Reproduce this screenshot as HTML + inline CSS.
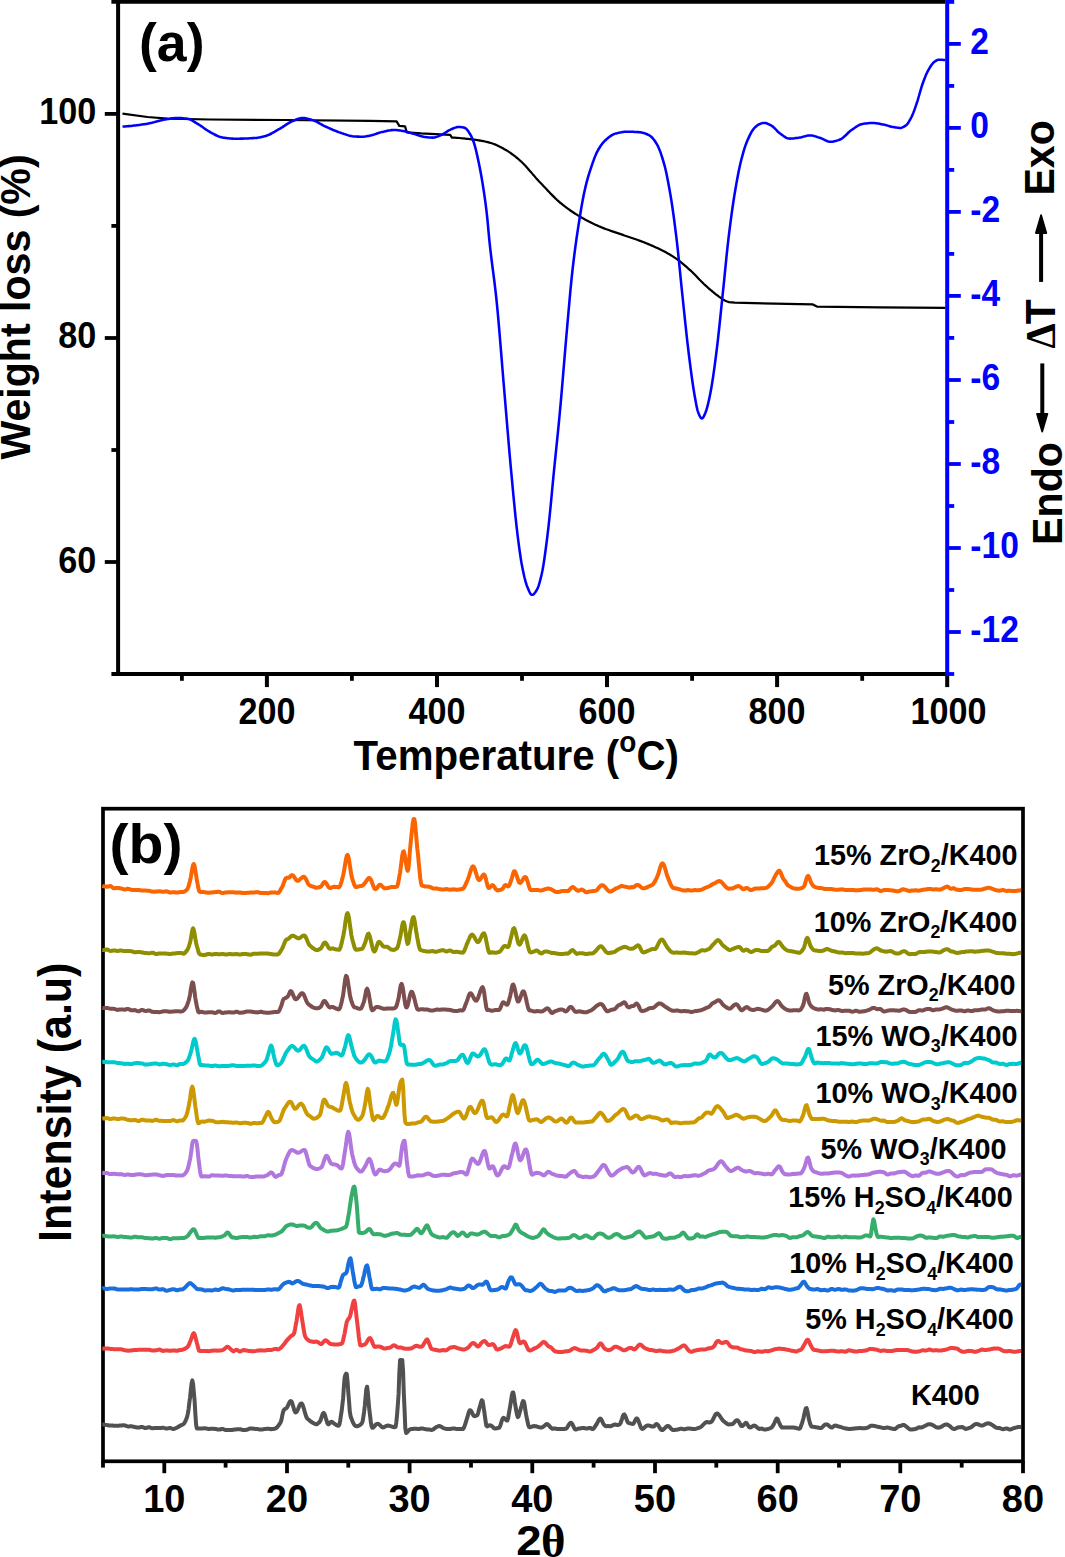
<!DOCTYPE html>
<html lang="en"><head><meta charset="utf-8"><title>TG-DTA and XRD patterns</title>
<style>html,body{margin:0;padding:0;background:#fff}svg{display:block}</style></head><body>
<svg width="1065" height="1557" viewBox="0 0 1065 1557">
<rect width="1065" height="1557" fill="#fff"/>
<g id="panel-a">
<path d="M122.5 113.7 L147.5 117 L167.4 118.7 L210 119.5 L284.8 120 L370 120.9 L396.6 121.4 L399.3 125.8 L405 126.3 L406.8 132.3 L421.1 133.4 L450.2 134.9 L451.9 137.6 L453.4 137.7 L454.9 137.7 L456.4 137.8 L457.9 137.9 L459.4 138 L460.9 138.2 L462.4 138.3 L463.9 138.4 L465.4 138.6 L466.9 138.8 L468.4 138.9 L469.9 139.1 L471.4 139.3 L472.9 139.5 L474.4 139.7 L475.9 139.9 L477.4 140.1 L478.9 140.3 L480.4 140.6 L481.9 140.9 L483.4 141.2 L484.9 141.5 L486.4 141.8 L487.9 142.2 L489.4 142.6 L490.9 143 L492.4 143.5 L493.9 144 L495.4 144.6 L496.9 145.3 L498.4 146 L499.9 146.7 L501.4 147.5 L502.9 148.3 L504.4 149.2 L505.9 150 L507.4 150.9 L508.9 151.9 L510.4 152.9 L511.9 154 L513.4 155.1 L514.9 156.2 L516.4 157.5 L517.9 158.7 L519.4 160 L520.9 161.3 L522.4 162.7 L523.9 164.2 L525.4 165.8 L526.9 167.5 L528.4 169.2 L529.9 170.9 L531.4 172.6 L532.9 174.4 L534.4 176.1 L535.9 177.9 L537.4 179.5 L538.9 181.2 L540.4 182.7 L541.9 184.3 L543.4 185.9 L544.9 187.5 L546.4 189.1 L547.9 190.7 L549.4 192.3 L550.9 193.9 L552.4 195.4 L553.9 196.9 L555.4 198.4 L556.9 199.8 L558.4 201.1 L559.9 202.5 L561.4 203.7 L562.9 204.9 L564.4 206.1 L565.9 207.2 L567.4 208.3 L568.9 209.4 L570.4 210.5 L571.9 211.5 L573.4 212.5 L574.9 213.5 L576.4 214.4 L577.9 215.4 L579.4 216.3 L580.9 217.1 L582.4 218 L583.9 218.8 L585.4 219.7 L586.9 220.5 L588.4 221.3 L589.9 222 L591.4 222.8 L592.9 223.5 L594.4 224.2 L595.9 224.9 L597.4 225.6 L598.9 226.3 L600.4 226.9 L601.9 227.5 L603.4 228.1 L604.9 228.7 L606.4 229.3 L607.9 229.8 L609.4 230.3 L610.9 230.9 L612.4 231.4 L613.9 231.9 L615.4 232.4 L616.9 232.9 L618.4 233.4 L619.9 233.9 L621.4 234.4 L622.9 234.9 L624.4 235.5 L625.9 236 L627.4 236.5 L628.9 237 L630.4 237.5 L631.9 238 L633.4 238.5 L634.9 239 L636.4 239.5 L637.9 240 L639.4 240.6 L640.9 241.1 L642.4 241.7 L643.9 242.3 L645.4 242.9 L646.9 243.5 L648.4 244.1 L649.9 244.7 L651.4 245.4 L652.9 246 L654.4 246.7 L655.9 247.4 L657.4 248.1 L658.9 248.8 L660.4 249.5 L661.9 250.3 L663.4 251 L664.9 251.8 L666.4 252.6 L667.9 253.5 L669.4 254.3 L670.9 255.2 L672.4 256.1 L673.9 257.1 L675.4 258.1 L676.9 259.1 L678.4 260.2 L679.9 261.4 L681.4 262.6 L682.9 263.8 L684.4 265.1 L685.9 266.4 L687.4 267.7 L688.9 269.1 L690.4 270.4 L691.9 271.8 L693.4 273.3 L694.9 274.8 L696.4 276.3 L697.9 277.9 L699.4 279.5 L700.9 281 L702.4 282.5 L703.9 284 L705.4 285.4 L706.9 286.7 L708.4 288.1 L709.9 289.4 L711.4 290.6 L712.9 291.9 L714.4 293.1 L715.9 294.3 L717.4 295.4 L718.9 296.6 L720.4 297.6 L721.9 298.7 L723.4 299.7 L724.9 300.5 L726.4 301.2 L727.9 301.7 L729 302.1 L734.8 302.7 L753.8 303.2 L812.4 304.3 L816.9 306.6 L880 307.3 L945.4 307.9" fill="none" stroke="#000" stroke-width="2.25" stroke-linejoin="round"/>
<path d="M122.5 126.5 L123.5 126.5 L124.5 126.4 L125.5 126.4 L126.5 126.3 L127.5 126.2 L128.5 126.1 L129.5 126.1 L130.5 126 L131.5 125.9 L132.5 125.8 L133.5 125.6 L134.5 125.5 L135.5 125.4 L136.5 125.3 L137.5 125.2 L138.5 125 L139.5 124.9 L140.5 124.8 L141.5 124.6 L142.5 124.5 L143.5 124.3 L144.5 124.2 L145.5 124 L146.5 123.9 L147.5 123.7 L148.5 123.5 L149.5 123.3 L150.5 123.1 L151.5 122.9 L152.5 122.6 L153.5 122.4 L154.5 122.1 L155.5 121.8 L156.5 121.5 L157.5 121.3 L158.5 121 L159.5 120.7 L160.5 120.4 L161.5 120.2 L162.5 120 L163.5 119.8 L164.5 119.6 L165.5 119.4 L166.5 119.3 L167.5 119.1 L168.5 118.9 L169.5 118.8 L170.5 118.6 L171.5 118.5 L172.5 118.3 L173.5 118.2 L174.5 118.1 L175.5 118.1 L176.5 118 L177.5 118 L178.5 118 L179.5 118 L180.5 118.1 L181.5 118.1 L182.5 118.2 L183.5 118.3 L184.5 118.4 L185.5 118.5 L186.5 118.6 L187.5 118.7 L188.5 118.9 L189.5 119.2 L190.5 119.6 L191.5 120.1 L192.5 120.7 L193.5 121.3 L194.5 121.9 L195.5 122.6 L196.5 123.2 L197.5 123.8 L198.5 124.4 L199.5 125 L200.5 125.7 L201.5 126.3 L202.5 127 L203.5 127.8 L204.5 128.5 L205.5 129.2 L206.5 129.9 L207.5 130.5 L208.5 131.1 L209.5 131.7 L210.5 132.3 L211.5 132.8 L212.5 133.4 L213.5 133.9 L214.5 134.5 L215.5 135 L216.5 135.5 L217.5 135.9 L218.5 136.4 L219.5 136.7 L220.5 137.1 L221.5 137.3 L222.5 137.5 L223.5 137.7 L224.5 137.8 L225.5 138 L226.5 138.1 L227.5 138.2 L228.5 138.3 L229.5 138.4 L230.5 138.5 L231.5 138.6 L232.5 138.6 L233.5 138.7 L234.5 138.7 L235.5 138.7 L236.5 138.7 L237.5 138.7 L238.5 138.7 L239.5 138.7 L240.5 138.6 L241.5 138.6 L242.5 138.6 L243.5 138.6 L244.5 138.5 L245.5 138.5 L246.5 138.4 L247.5 138.4 L248.5 138.4 L249.5 138.3 L250.5 138.3 L251.5 138.2 L252.5 138.1 L253.5 138.1 L254.5 138 L255.5 138 L256.5 137.9 L257.5 137.7 L258.5 137.6 L259.5 137.4 L260.5 137.2 L261.5 137 L262.5 136.8 L263.5 136.6 L264.5 136.3 L265.5 136 L266.5 135.7 L267.5 135.3 L268.5 134.9 L269.5 134.5 L270.5 134 L271.5 133.5 L272.5 132.9 L273.5 132.3 L274.5 131.8 L275.5 131.2 L276.5 130.6 L277.5 130 L278.5 129.4 L279.5 128.9 L280.5 128.3 L281.5 127.7 L282.5 127.1 L283.5 126.4 L284.5 125.8 L285.5 125.1 L286.5 124.4 L287.5 123.8 L288.5 123.2 L289.5 122.6 L290.5 122 L291.5 121.6 L292.5 121.1 L293.5 120.7 L294.5 120.3 L295.5 119.8 L296.5 119.4 L297.5 119 L298.5 118.7 L299.5 118.4 L300.5 118.2 L301.5 118 L302.5 118 L303.5 118 L304.5 118.1 L305.5 118.3 L306.5 118.5 L307.5 118.7 L308.5 118.9 L309.5 119.2 L310.5 119.5 L311.5 119.8 L312.5 120.1 L313.5 120.4 L314.5 120.8 L315.5 121.2 L316.5 121.7 L317.5 122.2 L318.5 122.8 L319.5 123.4 L320.5 123.9 L321.5 124.5 L322.5 125 L323.5 125.6 L324.5 126.1 L325.5 126.5 L326.5 127 L327.5 127.4 L328.5 127.9 L329.5 128.3 L330.5 128.8 L331.5 129.2 L332.5 129.7 L333.5 130.1 L334.5 130.5 L335.5 130.9 L336.5 131.3 L337.5 131.7 L338.5 132.1 L339.5 132.4 L340.5 132.7 L341.5 133.1 L342.5 133.4 L343.5 133.8 L344.5 134.1 L345.5 134.4 L346.5 134.8 L347.5 135.1 L348.5 135.4 L349.5 135.7 L350.5 135.9 L351.5 136.1 L352.5 136.3 L353.5 136.4 L354.5 136.5 L355.5 136.5 L356.5 136.6 L357.5 136.6 L358.5 136.6 L359.5 136.7 L360.5 136.7 L361.5 136.7 L362.5 136.7 L363.5 136.7 L364.5 136.6 L365.5 136.4 L366.5 136.3 L367.5 136.1 L368.5 135.9 L369.5 135.7 L370.5 135.5 L371.5 135.3 L372.5 135 L373.5 134.7 L374.5 134.4 L375.5 134 L376.5 133.7 L377.5 133.3 L378.5 133 L379.5 132.7 L380.5 132.4 L381.5 132.1 L382.5 131.9 L383.5 131.7 L384.5 131.4 L385.5 131.2 L386.5 131 L387.5 130.8 L388.5 130.6 L389.5 130.4 L390.5 130.3 L391.5 130.1 L392.5 130.1 L393.5 130 L394.5 130 L395.5 130 L396.5 130.1 L397.5 130.2 L398.5 130.3 L399.5 130.5 L400.5 130.6 L401.5 130.8 L402.5 130.9 L403.5 131.1 L404.5 131.3 L405.5 131.5 L406.5 131.7 L407.5 132 L408.5 132.2 L409.5 132.6 L410.5 132.9 L411.5 133.2 L412.5 133.5 L413.5 133.8 L414.5 134.1 L415.5 134.4 L416.5 134.7 L417.5 135 L418.5 135.3 L419.5 135.7 L420.5 136 L421.5 136.3 L422.5 136.5 L423.5 136.8 L424.5 137 L425.5 137.1 L426.5 137.2 L427.5 137.3 L428.5 137.4 L429.5 137.5 L430.5 137.5 L431.5 137.6 L432.5 137.6 L433.5 137.6 L434.5 137.5 L435.5 137.2 L436.5 136.9 L437.5 136.6 L438.5 136.2 L439.5 135.7 L440.5 135.3 L441.5 134.9 L442.5 134.4 L443.5 133.8 L444.5 133.2 L445.5 132.5 L446.5 131.9 L447.5 131.2 L448.5 130.6 L449.5 130 L450.5 129.6 L451.5 129.1 L452.5 128.7 L453.5 128.3 L454.5 127.9 L455.5 127.6 L456.5 127.3 L457.5 127.1 L458.5 127 L459.5 127 L460.5 127.1 L461.5 127.2 L462.5 127.3 L463.5 127.5 L464.5 127.8 L465.5 128.2 L466.5 129 L467.5 130.2 L468.5 131.6 L469.5 133.2 L470.5 134.8 L471.5 136.7 L472.5 139 L473.5 141.5 L474.5 144.6 L475.5 148.3 L476.5 152.4 L477.5 156.9 L478.5 161.5 L479.5 166.3 L480.5 171.5 L481.5 177 L482.5 182.9 L483.5 189.2 L484.5 195.9 L485.5 203.2 L486.5 211.1 L487.5 220.1 L488.5 231.3 L489.5 241.9 L490.5 250.9 L491.5 259.2 L492.5 267 L493.5 274.7 L494.5 282.5 L495.5 290.9 L496.5 300 L497.5 310.2 L498.5 321.2 L499.5 332.8 L500.5 344.9 L501.5 357.2 L502.5 369.5 L503.5 381.6 L504.5 393.4 L505.5 405.3 L506.5 417.3 L507.5 429.3 L508.5 441.1 L509.5 452.8 L510.5 464 L511.5 474.9 L512.5 485.7 L513.5 496.4 L514.5 506.7 L515.5 516.6 L516.5 525.9 L517.5 534.3 L518.5 542.3 L519.5 549.8 L520.5 556.8 L521.5 563 L522.5 568.3 L523.5 573.1 L524.5 577.5 L525.5 581.4 L526.5 584.7 L527.5 587.3 L528.5 589.7 L529.5 592 L530.5 593.8 L531.5 594.8 L532.5 594.8 L533.5 594.3 L534.5 593.3 L535.5 592 L536.5 590.5 L537.5 588.7 L538.5 586.1 L539.5 582.9 L540.5 579.1 L541.5 575 L542.5 570.3 L543.5 564.6 L544.5 558 L545.5 550.8 L546.5 543.1 L547.5 535.1 L548.5 526.7 L549.5 517.4 L550.5 507.3 L551.5 496.8 L552.5 486.2 L553.5 475.7 L554.5 465.7 L555.5 455.9 L556.5 446.2 L557.5 436.4 L558.5 426.3 L559.5 416 L560.5 405.2 L561.5 393.9 L562.5 382.2 L563.5 370.2 L564.5 358.1 L565.5 346.2 L566.5 334.5 L567.5 323.2 L568.5 311.9 L569.5 300.6 L570.5 289.7 L571.5 279.4 L572.5 270 L573.5 261.5 L574.5 253.5 L575.5 245.9 L576.5 238.7 L577.5 231.9 L578.5 225.4 L579.5 219 L580.5 212.8 L581.5 206.8 L582.5 201.2 L583.5 196 L584.5 191.2 L585.5 186.9 L586.5 182.9 L587.5 179.2 L588.5 175.7 L589.5 172.4 L590.5 169.3 L591.5 166.3 L592.5 163.4 L593.5 160.6 L594.5 157.9 L595.5 155.4 L596.5 153.1 L597.5 151.1 L598.5 149.3 L599.5 147.7 L600.5 146.1 L601.5 144.7 L602.5 143.4 L603.5 142.2 L604.5 141.2 L605.5 140.2 L606.5 139.3 L607.5 138.4 L608.5 137.6 L609.5 136.8 L610.5 136.1 L611.5 135.4 L612.5 134.8 L613.5 134.3 L614.5 133.9 L615.5 133.6 L616.5 133.4 L617.5 133.1 L618.5 132.9 L619.5 132.6 L620.5 132.4 L621.5 132.3 L622.5 132.1 L623.5 132 L624.5 131.8 L625.5 131.8 L626.5 131.7 L627.5 131.7 L628.5 131.7 L629.5 131.7 L630.5 131.7 L631.5 131.8 L632.5 131.8 L633.5 131.8 L634.5 131.9 L635.5 131.9 L636.5 132 L637.5 132.1 L638.5 132.1 L639.5 132.2 L640.5 132.3 L641.5 132.5 L642.5 132.7 L643.5 132.9 L644.5 133.2 L645.5 133.6 L646.5 134 L647.5 134.5 L648.5 134.9 L649.5 135.5 L650.5 136.1 L651.5 137 L652.5 138 L653.5 139.2 L654.5 140.5 L655.5 142 L656.5 143.6 L657.5 145.3 L658.5 147.4 L659.5 149.8 L660.5 152.4 L661.5 155.3 L662.5 158.5 L663.5 161.8 L664.5 165.3 L665.5 169.3 L666.5 173.8 L667.5 178.7 L668.5 183.9 L669.5 189.4 L670.5 195.1 L671.5 201.3 L672.5 208 L673.5 215 L674.5 222.5 L675.5 230.3 L676.5 238.4 L677.5 247.1 L678.5 256.6 L679.5 266.6 L680.5 276.6 L681.5 286.6 L682.5 296.2 L683.5 305.8 L684.5 315.4 L685.5 324.9 L686.5 334.2 L687.5 343.1 L688.5 351.5 L689.5 359.5 L690.5 367.4 L691.5 375 L692.5 382.1 L693.5 388.8 L694.5 394.8 L695.5 400.5 L696.5 405.9 L697.5 410.3 L698.5 413.2 L699.5 415.6 L700.5 417.4 L701.5 418.5 L702.5 418.3 L703.5 417 L704.5 414.9 L705.5 412.5 L706.5 409.7 L707.5 406.2 L708.5 402 L709.5 397.4 L710.5 392.5 L711.5 387 L712.5 380.8 L713.5 374.1 L714.5 366.8 L715.5 359.3 L716.5 351.5 L717.5 343.3 L718.5 334.4 L719.5 325.1 L720.5 315.5 L721.5 305.8 L722.5 296.2 L723.5 286.6 L724.5 276.7 L725.5 266.6 L726.5 256.7 L727.5 247.2 L728.5 238.4 L729.5 230.2 L730.5 222.4 L731.5 214.9 L732.5 207.7 L733.5 201 L734.5 194.6 L735.5 188.7 L736.5 182.9 L737.5 177.4 L738.5 172.3 L739.5 167.5 L740.5 163 L741.5 159 L742.5 155.3 L743.5 151.7 L744.5 148.4 L745.5 145.4 L746.5 142.7 L747.5 140.3 L748.5 138.1 L749.5 135.9 L750.5 133.9 L751.5 132 L752.5 130.4 L753.5 129 L754.5 127.9 L755.5 126.9 L756.5 126.1 L757.5 125.3 L758.5 124.6 L759.5 124.1 L760.5 123.7 L761.5 123.4 L762.5 123.1 L763.5 122.9 L764.5 122.9 L765.5 123 L766.5 123.3 L767.5 123.7 L768.5 124.1 L769.5 124.6 L770.5 125.2 L771.5 125.7 L772.5 126.3 L773.5 127.2 L774.5 128.1 L775.5 129.2 L776.5 130.2 L777.5 131.3 L778.5 132.3 L779.5 133.1 L780.5 133.8 L781.5 134.6 L782.5 135.3 L783.5 136 L784.5 136.7 L785.5 137.3 L786.5 137.9 L787.5 138.3 L788.5 138.5 L789.5 138.6 L790.5 138.6 L791.5 138.5 L792.5 138.5 L793.5 138.4 L794.5 138.3 L795.5 138.1 L796.5 138 L797.5 137.9 L798.5 137.7 L799.5 137.6 L800.5 137.4 L801.5 137.2 L802.5 136.9 L803.5 136.6 L804.5 136.4 L805.5 136.1 L806.5 135.9 L807.5 135.6 L808.5 135.5 L809.5 135.4 L810.5 135.4 L811.5 135.5 L812.5 135.6 L813.5 135.9 L814.5 136.1 L815.5 136.4 L816.5 136.7 L817.5 137.1 L818.5 137.4 L819.5 137.7 L820.5 138 L821.5 138.4 L822.5 138.9 L823.5 139.4 L824.5 139.8 L825.5 140.3 L826.5 140.8 L827.5 141.2 L828.5 141.5 L829.5 141.7 L830.5 141.8 L831.5 141.8 L832.5 141.7 L833.5 141.5 L834.5 141.3 L835.5 141.1 L836.5 140.8 L837.5 140.4 L838.5 140.1 L839.5 139.7 L840.5 139.3 L841.5 138.8 L842.5 138.1 L843.5 137.3 L844.5 136.4 L845.5 135.5 L846.5 134.5 L847.5 133.5 L848.5 132.5 L849.5 131.6 L850.5 130.7 L851.5 130 L852.5 129.4 L853.5 128.7 L854.5 128 L855.5 127.3 L856.5 126.6 L857.5 126 L858.5 125.4 L859.5 124.9 L860.5 124.5 L861.5 124.2 L862.5 123.9 L863.5 123.8 L864.5 123.6 L865.5 123.5 L866.5 123.4 L867.5 123.3 L868.5 123.2 L869.5 123.1 L870.5 123 L871.5 123 L872.5 123 L873.5 123 L874.5 123.1 L875.5 123.2 L876.5 123.3 L877.5 123.5 L878.5 123.6 L879.5 123.8 L880.5 124 L881.5 124.2 L882.5 124.4 L883.5 124.5 L884.5 124.8 L885.5 125 L886.5 125.3 L887.5 125.6 L888.5 125.9 L889.5 126.2 L890.5 126.5 L891.5 126.8 L892.5 127 L893.5 127.1 L894.5 127.3 L895.5 127.5 L896.5 127.6 L897.5 127.7 L898.5 127.8 L899.5 127.9 L900.5 127.9 L901.5 127.7 L902.5 127.4 L903.5 126.9 L904.5 126.3 L905.5 125.7 L906.5 124.9 L907.5 123.8 L908.5 122.4 L909.5 120.7 L910.5 118.9 L911.5 117 L912.5 114.9 L913.5 112.4 L914.5 109.7 L915.5 106.8 L916.5 103.8 L917.5 100.8 L918.5 97.5 L919.5 94 L920.5 90.5 L921.5 87.1 L922.5 84 L923.5 81.3 L924.5 78.7 L925.5 76.1 L926.5 73.8 L927.5 71.7 L928.5 69.8 L929.5 68.1 L930.5 66.5 L931.5 65 L932.5 63.7 L933.5 62.6 L934.5 61.8 L935.5 61.1 L936.5 60.4 L937.5 59.9 L938.5 59.7 L939.5 59.7 L940.5 59.7 L941.5 59.7 L942.5 59.8 L943.5 59.9 L944.5 60 L945.3 60.1" fill="none" stroke="#0000ff" stroke-width="2.55" stroke-linejoin="round"/>
<line x1="111.4" y1="1.9" x2="945.4" y2="1.9" stroke="#000" stroke-width="3.8" stroke-linecap="butt"/>
<line x1="118.1" y1="0" x2="118.1" y2="675.9" stroke="#000" stroke-width="4" stroke-linecap="butt"/>
<line x1="111.4" y1="674" x2="947.2" y2="674" stroke="#000" stroke-width="3.8" stroke-linecap="butt"/>
<line x1="104.8" y1="113.9" x2="118.1" y2="113.9" stroke="#000" stroke-width="3.8" stroke-linecap="butt"/>
<text transform="translate(96.3 124.4) scale(1 1.100)" font-family='"Liberation Sans", Arial, Helvetica, sans-serif' font-size="34.2" font-weight="bold" text-anchor="end" fill="#000">100</text>
<line x1="104.8" y1="338" x2="118.1" y2="338" stroke="#000" stroke-width="3.8" stroke-linecap="butt"/>
<text transform="translate(96.3 348.4) scale(1 1.100)" font-family='"Liberation Sans", Arial, Helvetica, sans-serif' font-size="34.2" font-weight="bold" text-anchor="end" fill="#000">80</text>
<line x1="104.8" y1="562" x2="118.1" y2="562" stroke="#000" stroke-width="3.8" stroke-linecap="butt"/>
<text transform="translate(96.3 572.5) scale(1 1.100)" font-family='"Liberation Sans", Arial, Helvetica, sans-serif' font-size="34.2" font-weight="bold" text-anchor="end" fill="#000">60</text>
<line x1="111.4" y1="225.9" x2="118.1" y2="225.9" stroke="#000" stroke-width="3.8" stroke-linecap="butt"/>
<line x1="111.4" y1="450" x2="118.1" y2="450" stroke="#000" stroke-width="3.8" stroke-linecap="butt"/>
<line x1="266.9" y1="674" x2="266.9" y2="687.1" stroke="#000" stroke-width="4" stroke-linecap="butt"/>
<text transform="translate(266.9 723.9) scale(1 1.100)" font-family='"Liberation Sans", Arial, Helvetica, sans-serif' font-size="34.2" font-weight="bold" text-anchor="middle" fill="#000">200</text>
<line x1="437" y1="674" x2="437" y2="687.1" stroke="#000" stroke-width="4" stroke-linecap="butt"/>
<text transform="translate(437 723.9) scale(1 1.100)" font-family='"Liberation Sans", Arial, Helvetica, sans-serif' font-size="34.2" font-weight="bold" text-anchor="middle" fill="#000">400</text>
<line x1="607" y1="674" x2="607" y2="687.1" stroke="#000" stroke-width="4" stroke-linecap="butt"/>
<text transform="translate(607 723.9) scale(1 1.100)" font-family='"Liberation Sans", Arial, Helvetica, sans-serif' font-size="34.2" font-weight="bold" text-anchor="middle" fill="#000">600</text>
<line x1="777.1" y1="674" x2="777.1" y2="687.1" stroke="#000" stroke-width="4" stroke-linecap="butt"/>
<text transform="translate(777.1 723.9) scale(1 1.100)" font-family='"Liberation Sans", Arial, Helvetica, sans-serif' font-size="34.2" font-weight="bold" text-anchor="middle" fill="#000">800</text>
<line x1="947.2" y1="674" x2="947.2" y2="687.1" stroke="#000" stroke-width="4" stroke-linecap="butt"/>
<text transform="translate(948.4 723.9) scale(1 1.100)" font-family='"Liberation Sans", Arial, Helvetica, sans-serif' font-size="34.2" font-weight="bold" text-anchor="middle" fill="#000">1000</text>
<line x1="181.9" y1="674" x2="181.9" y2="680.8" stroke="#000" stroke-width="3.8" stroke-linecap="butt"/>
<line x1="351.9" y1="674" x2="351.9" y2="680.8" stroke="#000" stroke-width="3.8" stroke-linecap="butt"/>
<line x1="522" y1="674" x2="522" y2="680.8" stroke="#000" stroke-width="3.8" stroke-linecap="butt"/>
<line x1="692.1" y1="674" x2="692.1" y2="680.8" stroke="#000" stroke-width="3.8" stroke-linecap="butt"/>
<line x1="862.2" y1="674" x2="862.2" y2="680.8" stroke="#000" stroke-width="3.8" stroke-linecap="butt"/>
<line x1="947.2" y1="0" x2="947.2" y2="675.9" stroke="#0000ff" stroke-width="4" stroke-linecap="butt"/>
<line x1="947.2" y1="1.9" x2="954.2" y2="1.9" stroke="#0000ff" stroke-width="3.8" stroke-linecap="butt"/>
<line x1="947.2" y1="43.9" x2="960.8" y2="43.9" stroke="#0000ff" stroke-width="3.8" stroke-linecap="butt"/>
<text transform="translate(970.3 53.9) scale(1 1.100)" font-family='"Liberation Sans", Arial, Helvetica, sans-serif' font-size="33.6" font-weight="bold" text-anchor="start" fill="#0000ff">2</text>
<line x1="947.2" y1="85.9" x2="954.2" y2="85.9" stroke="#0000ff" stroke-width="3.8" stroke-linecap="butt"/>
<line x1="947.2" y1="127.9" x2="960.8" y2="127.9" stroke="#0000ff" stroke-width="3.8" stroke-linecap="butt"/>
<text transform="translate(970.3 137.9) scale(1 1.100)" font-family='"Liberation Sans", Arial, Helvetica, sans-serif' font-size="33.6" font-weight="bold" text-anchor="start" fill="#0000ff">0</text>
<line x1="947.2" y1="169.9" x2="954.2" y2="169.9" stroke="#0000ff" stroke-width="3.8" stroke-linecap="butt"/>
<line x1="947.2" y1="211.9" x2="960.8" y2="211.9" stroke="#0000ff" stroke-width="3.8" stroke-linecap="butt"/>
<text transform="translate(970.3 221.9) scale(1 1.100)" font-family='"Liberation Sans", Arial, Helvetica, sans-serif' font-size="33.6" font-weight="bold" text-anchor="start" fill="#0000ff">-2</text>
<line x1="947.2" y1="253.9" x2="954.2" y2="253.9" stroke="#0000ff" stroke-width="3.8" stroke-linecap="butt"/>
<line x1="947.2" y1="295.9" x2="960.8" y2="295.9" stroke="#0000ff" stroke-width="3.8" stroke-linecap="butt"/>
<text transform="translate(970.3 305.9) scale(1 1.100)" font-family='"Liberation Sans", Arial, Helvetica, sans-serif' font-size="33.6" font-weight="bold" text-anchor="start" fill="#0000ff">-4</text>
<line x1="947.2" y1="337.9" x2="954.2" y2="337.9" stroke="#0000ff" stroke-width="3.8" stroke-linecap="butt"/>
<line x1="947.2" y1="380" x2="960.8" y2="380" stroke="#0000ff" stroke-width="3.8" stroke-linecap="butt"/>
<text transform="translate(970.3 390) scale(1 1.100)" font-family='"Liberation Sans", Arial, Helvetica, sans-serif' font-size="33.6" font-weight="bold" text-anchor="start" fill="#0000ff">-6</text>
<line x1="947.2" y1="422" x2="954.2" y2="422" stroke="#0000ff" stroke-width="3.8" stroke-linecap="butt"/>
<line x1="947.2" y1="464" x2="960.8" y2="464" stroke="#0000ff" stroke-width="3.8" stroke-linecap="butt"/>
<text transform="translate(970.3 474) scale(1 1.100)" font-family='"Liberation Sans", Arial, Helvetica, sans-serif' font-size="33.6" font-weight="bold" text-anchor="start" fill="#0000ff">-8</text>
<line x1="947.2" y1="506" x2="954.2" y2="506" stroke="#0000ff" stroke-width="3.8" stroke-linecap="butt"/>
<line x1="947.2" y1="548" x2="960.8" y2="548" stroke="#0000ff" stroke-width="3.8" stroke-linecap="butt"/>
<text transform="translate(970.3 558) scale(1 1.100)" font-family='"Liberation Sans", Arial, Helvetica, sans-serif' font-size="33.6" font-weight="bold" text-anchor="start" fill="#0000ff">-10</text>
<line x1="947.2" y1="590" x2="954.2" y2="590" stroke="#0000ff" stroke-width="3.8" stroke-linecap="butt"/>
<line x1="947.2" y1="632" x2="960.8" y2="632" stroke="#0000ff" stroke-width="3.8" stroke-linecap="butt"/>
<text transform="translate(970.3 642) scale(1 1.100)" font-family='"Liberation Sans", Arial, Helvetica, sans-serif' font-size="33.6" font-weight="bold" text-anchor="start" fill="#0000ff">-12</text>
<line x1="947.2" y1="674" x2="954.2" y2="674" stroke="#0000ff" stroke-width="3.8" stroke-linecap="butt"/>
<text transform="translate(139 60.6)" font-family='"Liberation Sans", Arial, Helvetica, sans-serif' font-size="53.6" font-weight="bold" text-anchor="start" fill="#000">(a)</text>
<text transform="translate(30.1 307) rotate(-90) scale(1 1.035)" font-family='"Liberation Sans", Arial, Helvetica, sans-serif' font-size="41.1" font-weight="bold" text-anchor="middle" fill="#000">Weight loss (%)</text>
<text transform="translate(353.6 770) scale(1 1.075)" font-family='"Liberation Sans", Arial, Helvetica, sans-serif' font-size="40.3" font-weight="bold" fill="#000">Temperature (<tspan font-size="28" dy="-16.4">o</tspan><tspan dy="16.4">C)</tspan></text>
<text transform="translate(1062 545) rotate(-90) scale(1 1.040)" font-family='"Liberation Sans", Arial, Helvetica, sans-serif' font-size="41.2" font-weight="bold" text-anchor="start" fill="#000">Endo</text>
<text transform="translate(1055.3 348.5) rotate(-90) scale(0.965 1)" font-family='"Liberation Serif", "Times New Roman", serif' font-size="41.4" font-weight="bold" fill="#000">Δ</text>
<text transform="translate(1054.8 324.3) rotate(-90) scale(1 1.058)" font-family='"Liberation Sans", Arial, Helvetica, sans-serif' font-size="41" font-weight="bold" fill="#000">T</text>
<text transform="translate(1054 195.5) rotate(-90) scale(1 1.040)" font-family='"Liberation Sans", Arial, Helvetica, sans-serif' font-size="41" font-weight="bold" text-anchor="start" fill="#000">Exo</text>
<line x1="1042.3" y1="363.4" x2="1042.3" y2="415" stroke="#000" stroke-width="4" stroke-linecap="butt"/>
<polygon points="1042.2,431.6 1037,413.8 1047.4,413.8" fill="#000" stroke="#000" stroke-width="1.8" stroke-linejoin="round"/>
<line x1="1041.1" y1="281.9" x2="1041.1" y2="232" stroke="#000" stroke-width="4" stroke-linecap="butt"/>
<polygon points="1041.1,215.2 1035.9,233 1046.3,233" fill="#000" stroke="#000" stroke-width="1.8" stroke-linejoin="round"/>
</g>
<g id="panel-b">
<clipPath id="clipb"><rect x="102" y="808.7" width="919.1" height="652.6"/></clipPath>
<rect x="103" y="808.7" width="920" height="652.6" fill="none" stroke="#000" stroke-width="3.7"/>
<g clip-path="url(#clipb)" fill="none" stroke-width="4" stroke-linejoin="round" stroke-linecap="butt">
<path d="M102.3 1424.5 L103.1 1424.5 L103.8 1424.6 L104.6 1424.7 L105.3 1424.9 L106.1 1425 L106.8 1425.1 L107.6 1425.2 L108.3 1425.3 L109.1 1425.4 L109.8 1425.4 L110.6 1425.5 L111.3 1425.6 L112.1 1425.6 L112.8 1425.6 L113.6 1425.7 L114.3 1425.7 L115.1 1425.7 L115.8 1425.8 L116.6 1425.8 L117.3 1425.8 L118.1 1425.8 L118.8 1425.7 L119.6 1425.6 L120.3 1425.5 L121.1 1425.4 L121.8 1425.4 L122.6 1425.3 L123.3 1425.3 L124.1 1425.3 L124.8 1425.4 L125.6 1425.6 L126.3 1425.9 L127.1 1426.2 L127.8 1426.4 L128.6 1426.4 L129.3 1426.4 L130.1 1426.3 L130.8 1426.3 L131.6 1426.3 L132.3 1426.4 L133.1 1426.6 L133.8 1426.8 L134.6 1427 L135.3 1427.2 L136.1 1427.3 L136.8 1427.4 L137.6 1427.6 L138.3 1427.6 L139.1 1427.6 L139.8 1427.4 L140.6 1427.1 L141.3 1427 L142.1 1426.9 L142.8 1427.1 L143.6 1427.4 L144.3 1427.8 L145.1 1428.1 L145.8 1428.1 L146.6 1427.9 L147.3 1427.6 L148.1 1427.3 L148.8 1427.2 L149.6 1427.3 L150.3 1427.6 L151.1 1427.9 L151.8 1428.2 L152.6 1428.3 L153.3 1428.3 L154.1 1428.1 L154.8 1428 L155.6 1427.9 L156.3 1427.9 L157.1 1428 L157.8 1428 L158.6 1428.1 L159.3 1428.1 L160.1 1428.1 L160.8 1428 L161.6 1427.9 L162.3 1427.8 L163.1 1427.7 L163.8 1427.9 L164.6 1428.1 L165.3 1428.3 L166.1 1428.5 L166.8 1428.5 L167.6 1428.4 L168.3 1428.3 L169.1 1428.1 L169.8 1428.1 L170.6 1428.1 L171.3 1428.4 L172.1 1428.7 L172.8 1428.9 L173.6 1428.9 L174.3 1428.8 L175.1 1428.5 L175.8 1428.1 L176.6 1427.8 L177.3 1427.4 L178.1 1427 L178.8 1426.5 L179.6 1426.1 L180.3 1425.6 L181.1 1425.2 L181.8 1424.9 L182.6 1424.6 L183.3 1424.2 L184.1 1423.4 L184.8 1422.3 L185.6 1420.8 L186.3 1419 L187.1 1416.8 L187.8 1413.9 L188.6 1409 L189.3 1403.1 L190.1 1397.3 L190.8 1390.2 L191.6 1383.3 L192.3 1380.4 L193.1 1384.1 L193.8 1392 L194.6 1400.6 L195.3 1413.1 L196.1 1424.7 L196.8 1428.4 L197.6 1428.5 L198.3 1428.4 L199.1 1428.4 L199.8 1428.4 L200.6 1428.4 L201.3 1428.5 L202.1 1428.4 L202.8 1428.4 L203.6 1428.3 L204.3 1428.3 L205.1 1428.3 L205.8 1428.4 L206.6 1428.6 L207.3 1428.7 L208.1 1428.9 L208.8 1428.9 L209.6 1428.9 L210.3 1428.8 L211.1 1428.7 L211.8 1428.7 L212.6 1428.7 L213.3 1428.8 L214.1 1428.8 L214.8 1428.9 L215.6 1429 L216.3 1429.1 L217.1 1429.3 L217.8 1429.5 L218.6 1429.6 L219.3 1429.6 L220.1 1429.5 L220.8 1429.2 L221.6 1429 L222.3 1428.9 L223.1 1429 L223.8 1429.3 L224.6 1429.6 L225.3 1429.9 L226.1 1430 L226.8 1430 L227.6 1430 L228.3 1430 L229.1 1430.1 L229.8 1430.1 L230.6 1430 L231.3 1430 L232.1 1429.9 L232.8 1429.8 L233.6 1429.7 L234.3 1429.6 L235.1 1429.5 L235.8 1429.4 L236.6 1429.3 L237.3 1429.3 L238.1 1429.3 L238.8 1429.3 L239.6 1429.3 L240.3 1429.3 L241.1 1429.5 L241.8 1429.7 L242.6 1430 L243.3 1430.1 L244.1 1430.1 L244.8 1430 L245.6 1429.9 L246.3 1429.8 L247.1 1429.7 L247.8 1429.4 L248.6 1429.1 L249.3 1428.7 L250.1 1428.5 L250.8 1428.5 L251.6 1428.5 L252.3 1428.6 L253.1 1428.7 L253.8 1428.7 L254.6 1428.8 L255.3 1428.9 L256.1 1429 L256.8 1429 L257.6 1429.1 L258.3 1429.2 L259.1 1429.4 L259.8 1429.5 L260.6 1429.6 L261.3 1429.6 L262.1 1429.5 L262.8 1429.3 L263.6 1429.2 L264.3 1429.1 L265.1 1429 L265.8 1428.9 L266.6 1428.8 L267.3 1428.7 L268.1 1428.7 L268.8 1428.8 L269.6 1428.9 L270.3 1429.1 L271.1 1429.2 L271.8 1429.1 L272.6 1429.1 L273.3 1428.9 L274.1 1428.8 L274.8 1428.7 L275.6 1428.4 L276.3 1427.9 L277.1 1427.2 L277.8 1426.3 L278.6 1425.4 L279.3 1424.3 L280.1 1423.2 L280.8 1421.9 L281.6 1419.1 L282.3 1415.4 L283.1 1412 L283.8 1409.9 L284.6 1409.2 L285.3 1408.8 L286.1 1408.5 L286.8 1407.7 L287.6 1406.4 L288.3 1404.7 L289.1 1403.1 L289.8 1401.7 L290.6 1401 L291.3 1401.3 L292.1 1402.8 L292.8 1405.1 L293.6 1407.8 L294.3 1410.3 L295.1 1412 L295.8 1412.5 L296.6 1411.9 L297.3 1410.7 L298.1 1409 L298.8 1407.2 L299.6 1405.4 L300.3 1404.1 L301.1 1403.4 L301.8 1403.5 L302.6 1404.8 L303.3 1406.9 L304.1 1409.4 L304.8 1412.1 L305.6 1414.7 L306.3 1416.8 L307.1 1418.3 L307.8 1419 L308.6 1419.6 L309.3 1420.2 L310.1 1420.9 L310.8 1421.5 L311.6 1422 L312.3 1422.5 L313.1 1422.9 L313.8 1423.3 L314.6 1423.7 L315.3 1424.1 L316.1 1424.2 L316.8 1424.2 L317.6 1423.7 L318.3 1423.1 L319.1 1422.4 L319.8 1421.6 L320.6 1420.2 L321.3 1418 L322.1 1415.6 L322.8 1413.7 L323.6 1412.9 L324.3 1413.6 L325.1 1415.5 L325.8 1418 L326.6 1420.6 L327.3 1422.9 L328.1 1424.3 L328.8 1424.2 L329.6 1423.4 L330.3 1422.4 L331.1 1421.8 L331.8 1421.9 L332.6 1422.3 L333.3 1422.9 L334.1 1423.5 L334.8 1424.1 L335.6 1424.6 L336.3 1425 L337.1 1425.4 L337.8 1425.7 L338.6 1425.8 L339.3 1424.7 L340.1 1421.1 L340.8 1416.3 L341.6 1411.4 L342.3 1405.4 L343.1 1398.4 L343.8 1387.8 L344.6 1377.9 L345.3 1375 L346.1 1373.7 L346.8 1374.1 L347.6 1382.2 L348.3 1392.3 L349.1 1402.2 L349.8 1411.6 L350.6 1416.1 L351.3 1418.3 L352.1 1420.3 L352.8 1422.1 L353.6 1423.6 L354.3 1424.9 L355.1 1425.7 L355.8 1426.1 L356.6 1426.2 L357.3 1426.2 L358.1 1426 L358.8 1425.7 L359.6 1425.3 L360.3 1424.7 L361.1 1424 L361.8 1423.3 L362.6 1421.5 L363.3 1417.2 L364.1 1411.8 L364.8 1405.7 L365.6 1397 L366.3 1389.3 L367.1 1386.7 L367.8 1392.1 L368.6 1401.6 L369.3 1409.6 L370.1 1415.7 L370.8 1421.8 L371.6 1426.3 L372.3 1427.8 L373.1 1427.7 L373.8 1427 L374.6 1426.1 L375.3 1425.2 L376.1 1424.3 L376.8 1423.9 L377.6 1423.8 L378.3 1424 L379.1 1424.4 L379.8 1425 L380.6 1425.7 L381.3 1426.5 L382.1 1427.1 L382.8 1427.4 L383.6 1427.3 L384.3 1427 L385.1 1426.6 L385.8 1426.2 L386.6 1425.9 L387.3 1425.7 L388.1 1425.6 L388.8 1425.7 L389.6 1425.9 L390.3 1426.1 L391.1 1426.3 L391.8 1426.5 L392.6 1426.8 L393.3 1427 L394.1 1427.2 L394.8 1427.1 L395.6 1426.9 L396.3 1422.5 L397.1 1414.2 L397.8 1405.3 L398.6 1393.9 L399.3 1373.4 L400.1 1360 L400.8 1360.2 L401.6 1360.2 L402.3 1360.1 L403.1 1371.5 L403.8 1392.7 L404.6 1410.7 L405.3 1428.3 L406.1 1433 L406.8 1432.6 L407.6 1431.8 L408.3 1430.9 L409.1 1430 L409.8 1429.4 L410.6 1429.2 L411.3 1429.1 L412.1 1429 L412.8 1428.9 L413.6 1428.8 L414.3 1428.7 L415.1 1428.7 L415.8 1428.8 L416.6 1428.8 L417.3 1428.9 L418.1 1428.9 L418.8 1428.9 L419.6 1428.8 L420.3 1428.7 L421.1 1428.5 L421.8 1428.5 L422.6 1428.5 L423.3 1428.7 L424.1 1428.9 L424.8 1429.1 L425.6 1429.2 L426.3 1429.3 L427.1 1429.4 L427.8 1429.4 L428.6 1429.5 L429.3 1429.6 L430.1 1429.7 L430.8 1429.8 L431.6 1429.9 L432.3 1429.8 L433.1 1429.5 L433.8 1429 L434.6 1428.4 L435.3 1427.7 L436.1 1427.2 L436.8 1426.8 L437.6 1426.5 L438.3 1426.2 L439.1 1426.1 L439.8 1426.1 L440.6 1426.4 L441.3 1426.8 L442.1 1427.3 L442.8 1427.7 L443.6 1428.1 L444.3 1428.4 L445.1 1428.6 L445.8 1428.8 L446.6 1428.9 L447.3 1428.9 L448.1 1428.9 L448.8 1428.9 L449.6 1428.9 L450.3 1428.9 L451.1 1428.8 L451.8 1428.7 L452.6 1428.6 L453.3 1428.5 L454.1 1428.5 L454.8 1428.6 L455.6 1428.8 L456.3 1428.9 L457.1 1428.9 L457.8 1428.9 L458.6 1428.9 L459.3 1428.9 L460.1 1428.9 L460.8 1428.9 L461.6 1429 L462.3 1429.1 L463.1 1429 L463.8 1427.9 L464.6 1426 L465.3 1423.8 L466.1 1421.3 L466.8 1419 L467.6 1416.7 L468.3 1413.9 L469.1 1411.4 L469.8 1410.2 L470.6 1410.4 L471.3 1411.3 L472.1 1412.8 L472.8 1414.4 L473.6 1415.7 L474.3 1416.2 L475.1 1416.1 L475.8 1415.8 L476.6 1415.5 L477.3 1415.2 L478.1 1413.3 L478.8 1410.4 L479.6 1407.5 L480.3 1405 L481.1 1402.1 L481.8 1400.2 L482.6 1400.9 L483.3 1405.1 L484.1 1410.5 L484.8 1415.4 L485.6 1421.1 L486.3 1425.6 L487.1 1426.4 L487.8 1426.1 L488.6 1425.7 L489.3 1425.3 L490.1 1425.3 L490.8 1425.5 L491.6 1426 L492.3 1426.6 L493.1 1427.3 L493.8 1428 L494.6 1428.4 L495.3 1428.5 L496.1 1428.4 L496.8 1428.2 L497.6 1428 L498.3 1427.8 L499.1 1427.8 L499.8 1426.8 L500.6 1424.8 L501.3 1422.3 L502.1 1419.9 L502.8 1418.2 L503.6 1417.8 L504.3 1418.2 L505.1 1418.9 L505.8 1419.7 L506.6 1420.4 L507.3 1420.5 L508.1 1418.3 L508.8 1414.1 L509.6 1409.4 L510.3 1405.3 L511.1 1400.4 L511.8 1395.6 L512.6 1392.5 L513.3 1392.6 L514.1 1396.5 L514.8 1402 L515.6 1406.8 L516.3 1411.1 L517.1 1415.1 L517.8 1417.1 L518.6 1416.3 L519.3 1413.9 L520.1 1411 L520.8 1408.4 L521.6 1405.7 L522.3 1402.9 L523.1 1401 L523.8 1401.4 L524.6 1404.8 L525.3 1409.9 L526.1 1414.7 L526.8 1418.2 L527.6 1421.8 L528.3 1425 L529.1 1427 L529.8 1427.3 L530.6 1427 L531.3 1426.8 L532.1 1426.5 L532.8 1426.3 L533.6 1426.1 L534.3 1426.1 L535.1 1426.2 L535.8 1426.3 L536.6 1426.5 L537.3 1426.7 L538.1 1427 L538.8 1427.2 L539.6 1427.3 L540.3 1427.5 L541.1 1427.5 L541.8 1427.4 L542.6 1427.1 L543.3 1426.6 L544.1 1426 L544.8 1425.4 L545.6 1424.7 L546.3 1424.2 L547.1 1424.1 L547.8 1424.4 L548.6 1425.1 L549.3 1425.9 L550.1 1426.8 L550.8 1427.6 L551.6 1428.3 L552.3 1428.7 L553.1 1428.7 L553.8 1428.6 L554.6 1428.6 L555.3 1428.6 L556.1 1428.7 L556.8 1428.9 L557.6 1429 L558.3 1429.1 L559.1 1429.1 L559.8 1429 L560.6 1429 L561.3 1429 L562.1 1428.9 L562.8 1428.9 L563.6 1428.9 L564.3 1428.9 L565.1 1428.8 L565.8 1428.8 L566.6 1428.3 L567.3 1427.3 L568.1 1426 L568.8 1424.7 L569.6 1423.6 L570.3 1422.9 L571.1 1422.7 L571.8 1423.3 L572.6 1424.5 L573.3 1426.2 L574.1 1427.8 L574.8 1429.1 L575.6 1429.5 L576.3 1429.4 L577.1 1429.1 L577.8 1428.8 L578.6 1428.6 L579.3 1428.6 L580.1 1428.5 L580.8 1428.3 L581.6 1428.1 L582.3 1427.9 L583.1 1427.9 L583.8 1428 L584.6 1428.2 L585.3 1428.3 L586.1 1428.4 L586.8 1428.5 L587.6 1428.4 L588.3 1428.2 L589.1 1428 L589.8 1428 L590.6 1428.1 L591.3 1428.5 L592.1 1429 L592.8 1429.1 L593.6 1428.6 L594.3 1427.6 L595.1 1426.5 L595.8 1425.3 L596.6 1424.2 L597.3 1422.9 L598.1 1421.4 L598.8 1420 L599.6 1418.9 L600.3 1418.5 L601.1 1419.1 L601.8 1420.4 L602.6 1422.1 L603.3 1423.7 L604.1 1424.7 L604.8 1425.6 L605.6 1426.1 L606.3 1426.3 L607.1 1426.1 L607.8 1426.1 L608.6 1426.1 L609.3 1426.3 L610.1 1426.3 L610.8 1426.2 L611.6 1425.9 L612.3 1425.5 L613.1 1425.1 L613.8 1424.8 L614.6 1424.5 L615.3 1424.5 L616.1 1424.7 L616.8 1424.9 L617.6 1425 L618.3 1424.9 L619.1 1424.6 L619.8 1424.2 L620.6 1423 L621.3 1421 L622.1 1418.6 L622.8 1416.3 L623.6 1414.8 L624.3 1414.4 L625.1 1415.4 L625.8 1417.3 L626.6 1419.5 L627.3 1421.4 L628.1 1422.7 L628.8 1423 L629.6 1423.2 L630.3 1423.4 L631.1 1423.6 L631.8 1423.8 L632.6 1423.9 L633.3 1423.8 L634.1 1422.8 L634.8 1421.2 L635.6 1419.6 L636.3 1418.5 L637.1 1418.5 L637.8 1419.5 L638.6 1421.2 L639.3 1423.3 L640.1 1425.4 L640.8 1427.3 L641.6 1428.5 L642.3 1428.9 L643.1 1428.6 L643.8 1428.1 L644.6 1427.4 L645.3 1426.7 L646.1 1426.1 L646.8 1425.7 L647.6 1425.5 L648.3 1425.5 L649.1 1425.6 L649.8 1425.8 L650.6 1426 L651.3 1426.3 L652.1 1426.5 L652.8 1426.6 L653.6 1426.6 L654.3 1426.1 L655.1 1425.2 L655.8 1424.4 L656.6 1424 L657.3 1424.3 L658.1 1425.1 L658.8 1426.3 L659.6 1427.6 L660.3 1428.8 L661.1 1429.7 L661.8 1430.1 L662.6 1430 L663.3 1429.5 L664.1 1428.8 L664.8 1428.1 L665.6 1427.3 L666.3 1426.7 L667.1 1426.2 L667.8 1425.9 L668.6 1426.2 L669.3 1426.7 L670.1 1427.5 L670.8 1428.4 L671.6 1429.2 L672.3 1429.8 L673.1 1430 L673.8 1429.9 L674.6 1429.9 L675.3 1429.8 L676.1 1429.8 L676.8 1429.7 L677.6 1429.6 L678.3 1429.4 L679.1 1429.2 L679.8 1428.9 L680.6 1428.7 L681.3 1428.7 L682.1 1428.8 L682.8 1429 L683.6 1429.2 L684.3 1429.3 L685.1 1429.2 L685.8 1429 L686.6 1428.8 L687.3 1428.6 L688.1 1428.6 L688.8 1428.6 L689.6 1428.6 L690.3 1428.7 L691.1 1428.7 L691.8 1428.8 L692.6 1428.9 L693.3 1429 L694.1 1429.1 L694.8 1429.1 L695.6 1428.9 L696.3 1428.7 L697.1 1428.4 L697.8 1428.2 L698.6 1427.9 L699.3 1427.6 L700.1 1427.3 L700.8 1426.9 L701.6 1426.4 L702.3 1425.7 L703.1 1424.9 L703.8 1424.2 L704.6 1423.4 L705.3 1422.7 L706.1 1422.2 L706.8 1422.1 L707.6 1422.1 L708.3 1422.3 L709.1 1422.4 L709.8 1422.3 L710.6 1422.2 L711.3 1421.8 L712.1 1421 L712.8 1419.8 L713.6 1418.3 L714.3 1416.7 L715.1 1415.3 L715.8 1414.1 L716.6 1413.5 L717.3 1413.5 L718.1 1414 L718.8 1414.8 L719.6 1415.7 L720.3 1416.8 L721.1 1418 L721.8 1419.1 L722.6 1420.1 L723.3 1420.9 L724.1 1421.5 L724.8 1422.1 L725.6 1422.7 L726.3 1423.3 L727.1 1423.8 L727.8 1424.2 L728.6 1424.4 L729.3 1424.4 L730.1 1424.3 L730.8 1424.2 L731.6 1424.2 L732.3 1424.1 L733.1 1423.7 L733.8 1423 L734.6 1422.1 L735.3 1421.3 L736.1 1420.6 L736.8 1420.2 L737.6 1420.2 L738.3 1421 L739.1 1422.2 L739.8 1423.6 L740.6 1425 L741.3 1425.9 L742.1 1426.1 L742.8 1425.8 L743.6 1425.1 L744.3 1424.2 L745.1 1423.4 L745.8 1422.8 L746.6 1423.1 L747.3 1424.2 L748.1 1425.6 L748.8 1426.9 L749.6 1427.5 L750.3 1427.4 L751.1 1427.2 L751.8 1426.7 L752.6 1426.2 L753.3 1425.8 L754.1 1425.6 L754.8 1425.7 L755.6 1426.1 L756.3 1426.7 L757.1 1427.4 L757.8 1428.1 L758.6 1428.6 L759.3 1428.9 L760.1 1428.8 L760.8 1428.7 L761.6 1428.6 L762.3 1428.7 L763.1 1429.1 L763.8 1429.4 L764.6 1429.6 L765.3 1429.5 L766.1 1429.4 L766.8 1429.2 L767.6 1429.1 L768.3 1428.9 L769.1 1428.6 L769.8 1428.3 L770.6 1428 L771.3 1427.7 L772.1 1427 L772.8 1425.9 L773.6 1424.5 L774.3 1423.2 L775.1 1421.6 L775.8 1419.8 L776.6 1418.6 L777.3 1418.7 L778.1 1420.1 L778.8 1422 L779.6 1423.7 L780.3 1425.2 L781.1 1426.6 L781.8 1427.5 L782.6 1427.6 L783.3 1427.6 L784.1 1427.6 L784.8 1427.6 L785.6 1427.6 L786.3 1427.6 L787.1 1427.5 L787.8 1427.5 L788.6 1427.5 L789.3 1427.5 L790.1 1427.5 L790.8 1427.5 L791.6 1427.5 L792.3 1427.4 L793.1 1427.5 L793.8 1427.6 L794.6 1427.7 L795.3 1427.8 L796.1 1428 L796.8 1428.2 L797.6 1428.4 L798.3 1428.6 L799.1 1428.8 L799.8 1428.4 L800.6 1427.1 L801.3 1425.1 L802.1 1422.8 L802.8 1420.5 L803.6 1417.7 L804.3 1414.2 L805.1 1410.7 L805.8 1408.4 L806.6 1408.1 L807.3 1410.7 L808.1 1414.7 L808.8 1418.8 L809.6 1421.7 L810.3 1424.1 L811.1 1426 L811.8 1426.5 L812.6 1426.7 L813.3 1426.8 L814.1 1426.9 L814.8 1427 L815.6 1427.2 L816.3 1427.3 L817.1 1427.4 L817.8 1427.5 L818.6 1427.7 L819.3 1427.9 L820.1 1428 L820.8 1428.1 L821.6 1427.9 L822.3 1427.2 L823.1 1426.4 L823.8 1425.6 L824.6 1424.9 L825.3 1424.4 L826.1 1424.4 L826.8 1424.5 L827.6 1424.7 L828.3 1425.2 L829.1 1425.9 L829.8 1426.6 L830.6 1427.2 L831.3 1427.5 L832.1 1427.4 L832.8 1427 L833.6 1426.4 L834.3 1425.8 L835.1 1425.6 L835.8 1425.6 L836.6 1425.8 L837.3 1426.1 L838.1 1426.3 L838.8 1426.5 L839.6 1426.7 L840.3 1426.9 L841.1 1427.2 L841.8 1427.4 L842.6 1427.7 L843.3 1427.9 L844.1 1428.1 L844.8 1428.3 L845.6 1428.4 L846.3 1428.5 L847.1 1428.7 L847.8 1428.8 L848.6 1428.9 L849.3 1429 L850.1 1429 L850.8 1428.9 L851.6 1428.8 L852.3 1428.8 L853.1 1428.7 L853.8 1428.6 L854.6 1428.5 L855.3 1428.4 L856.1 1428.3 L856.8 1428.3 L857.6 1428.2 L858.3 1428.2 L859.1 1428.1 L859.8 1428.1 L860.6 1428.1 L861.3 1428.2 L862.1 1428.3 L862.8 1428.3 L863.6 1428.3 L864.3 1428.2 L865.1 1428.2 L865.8 1428.1 L866.6 1427.9 L867.3 1427.8 L868.1 1427.4 L868.8 1427 L869.6 1426.5 L870.3 1426 L871.1 1425.7 L871.8 1425.7 L872.6 1425.7 L873.3 1425.8 L874.1 1425.9 L874.8 1426 L875.6 1426.2 L876.3 1426.4 L877.1 1426.6 L877.8 1426.8 L878.6 1426.9 L879.3 1427.1 L880.1 1427.2 L880.8 1427.4 L881.6 1427.6 L882.3 1427.8 L883.1 1427.9 L883.8 1428 L884.6 1428 L885.3 1427.9 L886.1 1427.7 L886.8 1427.6 L887.6 1427.6 L888.3 1427.7 L889.1 1427.9 L889.8 1428.1 L890.6 1428.3 L891.3 1428.5 L892.1 1428.6 L892.8 1428.8 L893.6 1428.9 L894.3 1429 L895.1 1428.9 L895.8 1428.5 L896.6 1427.9 L897.3 1427.1 L898.1 1426.5 L898.8 1426.2 L899.6 1426 L900.3 1425.9 L901.1 1425.7 L901.8 1425.4 L902.6 1425.1 L903.3 1425 L904.1 1425.1 L904.8 1425.5 L905.6 1426 L906.3 1426.6 L907.1 1427.2 L907.8 1427.9 L908.6 1428.5 L909.3 1429.1 L910.1 1429.4 L910.8 1429.5 L911.6 1429.4 L912.3 1429.4 L913.1 1429.3 L913.8 1429.3 L914.6 1429.2 L915.3 1429 L916.1 1428.8 L916.8 1428.4 L917.6 1428 L918.3 1427.6 L919.1 1427.3 L919.8 1427.3 L920.6 1427.4 L921.3 1427.4 L922.1 1427.3 L922.8 1427 L923.6 1426.6 L924.3 1426.2 L925.1 1425.8 L925.8 1425.4 L926.6 1425.1 L927.3 1424.7 L928.1 1424.4 L928.8 1424.2 L929.6 1424.2 L930.3 1424.3 L931.1 1424.5 L931.8 1424.7 L932.6 1425 L933.3 1425.4 L934.1 1425.9 L934.8 1426.4 L935.6 1426.9 L936.3 1427.3 L937.1 1427.5 L937.8 1427.6 L938.6 1427.7 L939.3 1427.5 L940.1 1427.3 L940.8 1427 L941.6 1426.6 L942.3 1426.1 L943.1 1425.7 L943.8 1425.2 L944.6 1424.9 L945.3 1424.6 L946.1 1424.4 L946.8 1424.5 L947.6 1424.7 L948.3 1425.1 L949.1 1425.6 L949.8 1426.1 L950.6 1426.8 L951.3 1427.5 L952.1 1428.1 L952.8 1428.6 L953.6 1428.9 L954.3 1428.9 L955.1 1428.8 L955.8 1428.5 L956.6 1428.1 L957.3 1427.7 L958.1 1427.4 L958.8 1427.3 L959.6 1427.3 L960.3 1427.3 L961.1 1427.2 L961.8 1427 L962.6 1427.2 L963.3 1427.5 L964.1 1428 L964.8 1428.6 L965.6 1428.9 L966.3 1428.9 L967.1 1428.6 L967.8 1428.4 L968.6 1428.2 L969.3 1427.9 L970.1 1427.6 L970.8 1427.3 L971.6 1426.9 L972.3 1426.3 L973.1 1425.7 L973.8 1425.1 L974.6 1424.5 L975.3 1424.2 L976.1 1424.1 L976.8 1424.1 L977.6 1424.2 L978.3 1424.5 L979.1 1424.7 L979.8 1425 L980.6 1425.3 L981.3 1425.5 L982.1 1425.5 L982.8 1425.4 L983.6 1425.1 L984.3 1424.7 L985.1 1424.3 L985.8 1423.9 L986.6 1423.6 L987.3 1423.4 L988.1 1423.3 L988.8 1423.4 L989.6 1423.6 L990.3 1423.9 L991.1 1424.3 L991.8 1424.7 L992.6 1425.2 L993.3 1425.8 L994.1 1426.3 L994.8 1426.9 L995.6 1427.4 L996.3 1427.7 L997.1 1427.9 L997.8 1427.9 L998.6 1428 L999.3 1428 L1000.1 1428.2 L1000.8 1428.5 L1001.6 1428.8 L1002.3 1429.1 L1003.1 1429.2 L1003.8 1429.1 L1004.6 1428.9 L1005.3 1428.6 L1006.1 1428.4 L1006.8 1428.5 L1007.6 1428.7 L1008.3 1429.1 L1009.1 1429.4 L1009.8 1429.6 L1010.6 1429.5 L1011.3 1429.2 L1012.1 1428.8 L1012.8 1428.5 L1013.6 1428.2 L1014.3 1428 L1015.1 1427.8 L1015.8 1427.6 L1016.6 1427.4 L1017.3 1427.2 L1018.1 1427.1 L1018.8 1427 L1019.6 1427 L1020.3 1427 L1021.1 1426.9 L1021.8 1426.6 L1022.6 1426.3 L1023 1426.1" stroke="#515151"/>
<path d="M102.3 1348.5 L103.1 1348.6 L103.8 1348.6 L104.6 1348.5 L105.3 1348.4 L106.1 1348.4 L106.8 1348.4 L107.6 1348.4 L108.3 1348.6 L109.1 1348.7 L109.8 1348.8 L110.6 1348.9 L111.3 1349 L112.1 1349.1 L112.8 1349.1 L113.6 1349.2 L114.3 1349.2 L115.1 1349.2 L115.8 1349.2 L116.6 1349.3 L117.3 1349.3 L118.1 1349.3 L118.8 1349.3 L119.6 1349.2 L120.3 1349.2 L121.1 1349.3 L121.8 1349.4 L122.6 1349.6 L123.3 1349.9 L124.1 1350.1 L124.8 1350.2 L125.6 1350.4 L126.3 1350.5 L127.1 1350.6 L127.8 1350.7 L128.6 1350.7 L129.3 1350.6 L130.1 1350.5 L130.8 1350.4 L131.6 1350.4 L132.3 1350.3 L133.1 1350.2 L133.8 1350.1 L134.6 1350 L135.3 1349.9 L136.1 1349.9 L136.8 1349.9 L137.6 1349.9 L138.3 1349.8 L139.1 1349.8 L139.8 1349.8 L140.6 1349.7 L141.3 1349.7 L142.1 1349.7 L142.8 1349.7 L143.6 1349.7 L144.3 1349.7 L145.1 1349.7 L145.8 1349.7 L146.6 1349.7 L147.3 1349.7 L148.1 1349.7 L148.8 1349.8 L149.6 1349.8 L150.3 1350 L151.1 1350.2 L151.8 1350.4 L152.6 1350.4 L153.3 1350.4 L154.1 1350.4 L154.8 1350.4 L155.6 1350.3 L156.3 1350.3 L157.1 1350.1 L157.8 1349.9 L158.6 1349.7 L159.3 1349.6 L160.1 1349.7 L160.8 1350 L161.6 1350.4 L162.3 1350.8 L163.1 1350.9 L163.8 1350.8 L164.6 1350.7 L165.3 1350.5 L166.1 1350.4 L166.8 1350.4 L167.6 1350.5 L168.3 1350.6 L169.1 1350.8 L169.8 1350.8 L170.6 1350.8 L171.3 1350.7 L172.1 1350.6 L172.8 1350.5 L173.6 1350.5 L174.3 1350.5 L175.1 1350.6 L175.8 1350.7 L176.6 1350.7 L177.3 1350.7 L178.1 1350.6 L178.8 1350.3 L179.6 1350.1 L180.3 1350 L181.1 1349.9 L181.8 1349.8 L182.6 1349.7 L183.3 1349.5 L184.1 1349.2 L184.8 1348.8 L185.6 1348.4 L186.3 1347.9 L187.1 1347.4 L187.8 1346.7 L188.6 1345.4 L189.3 1343.7 L190.1 1341.9 L190.8 1340.1 L191.6 1338 L192.3 1335.7 L193.1 1333.8 L193.8 1333.1 L194.6 1334.2 L195.3 1336.7 L196.1 1339.9 L196.8 1342.8 L197.6 1345.6 L198.3 1348.5 L199.1 1350.7 L199.8 1351 L200.6 1350.9 L201.3 1350.9 L202.1 1350.9 L202.8 1350.9 L203.6 1351 L204.3 1351 L205.1 1351.1 L205.8 1351.1 L206.6 1351.1 L207.3 1351.1 L208.1 1351.2 L208.8 1351.2 L209.6 1351.1 L210.3 1351 L211.1 1350.8 L211.8 1350.7 L212.6 1350.7 L213.3 1350.6 L214.1 1350.6 L214.8 1350.6 L215.6 1350.6 L216.3 1350.6 L217.1 1350.7 L217.8 1350.7 L218.6 1350.6 L219.3 1350.6 L220.1 1350.5 L220.8 1350.4 L221.6 1350.3 L222.3 1350.1 L223.1 1349.8 L223.8 1349.4 L224.6 1348.8 L225.3 1348.1 L226.1 1347.5 L226.8 1347 L227.6 1346.8 L228.3 1347 L229.1 1347.6 L229.8 1348.3 L230.6 1349.1 L231.3 1349.8 L232.1 1350.5 L232.8 1351.1 L233.6 1351.3 L234.3 1350.9 L235.1 1350.4 L235.8 1349.9 L236.6 1349.8 L237.3 1350.1 L238.1 1350.6 L238.8 1351.1 L239.6 1351.5 L240.3 1351.5 L241.1 1351.2 L241.8 1350.7 L242.6 1350.3 L243.3 1350.1 L244.1 1350.1 L244.8 1350.2 L245.6 1350.4 L246.3 1350.5 L247.1 1350.6 L247.8 1350.8 L248.6 1350.9 L249.3 1351 L250.1 1351.1 L250.8 1351.1 L251.6 1351.2 L252.3 1351.3 L253.1 1351.3 L253.8 1351.3 L254.6 1351.2 L255.3 1351.1 L256.1 1350.9 L256.8 1350.7 L257.6 1350.6 L258.3 1350.5 L259.1 1350.4 L259.8 1350.4 L260.6 1350.3 L261.3 1350.3 L262.1 1350.4 L262.8 1350.5 L263.6 1350.6 L264.3 1350.6 L265.1 1350.5 L265.8 1350.4 L266.6 1350.2 L267.3 1350 L268.1 1349.9 L268.8 1349.9 L269.6 1349.9 L270.3 1350 L271.1 1349.9 L271.8 1349.8 L272.6 1349.6 L273.3 1349.4 L274.1 1349.1 L274.8 1348.9 L275.6 1348.9 L276.3 1349 L277.1 1349.2 L277.8 1349.4 L278.6 1349.3 L279.3 1348.9 L280.1 1348.4 L280.8 1347.9 L281.6 1347.1 L282.3 1346.2 L283.1 1345.3 L283.8 1344.4 L284.6 1343.5 L285.3 1342.5 L286.1 1341.4 L286.8 1340.6 L287.6 1339.7 L288.3 1338.8 L289.1 1338 L289.8 1337.2 L290.6 1336.4 L291.3 1335.8 L292.1 1335.4 L292.8 1335 L293.6 1334.3 L294.3 1332.5 L295.1 1328.9 L295.8 1324.7 L296.6 1320.6 L297.3 1315.8 L298.1 1310.4 L298.8 1306.2 L299.6 1305.1 L300.3 1307.7 L301.1 1312.5 L301.8 1317.9 L302.6 1322.4 L303.3 1327.1 L304.1 1331.8 L304.8 1335.5 L305.6 1337.2 L306.3 1338.3 L307.1 1339.1 L307.8 1339.8 L308.6 1340.3 L309.3 1340.8 L310.1 1341.1 L310.8 1341.3 L311.6 1341.5 L312.3 1341.7 L313.1 1341.8 L313.8 1341.9 L314.6 1341.8 L315.3 1341.7 L316.1 1341.6 L316.8 1341.7 L317.6 1341.9 L318.3 1342.4 L319.1 1343 L319.8 1343.6 L320.6 1343.9 L321.3 1344 L322.1 1343.6 L322.8 1342.7 L323.6 1341.8 L324.3 1340.9 L325.1 1340.4 L325.8 1340.3 L326.6 1340.7 L327.3 1341.3 L328.1 1342 L328.8 1342.7 L329.6 1343.3 L330.3 1343.8 L331.1 1344.1 L331.8 1344.2 L332.6 1344.3 L333.3 1344.3 L334.1 1344.4 L334.8 1344.4 L335.6 1344.5 L336.3 1344.5 L337.1 1344.5 L337.8 1344.5 L338.6 1344.4 L339.3 1344.2 L340.1 1344.1 L340.8 1343.9 L341.6 1343.8 L342.3 1342.9 L343.1 1340.3 L343.8 1337 L344.6 1333.6 L345.3 1329.6 L346.1 1325.2 L346.8 1321.9 L347.6 1320.2 L348.3 1319.2 L349.1 1318.3 L349.8 1317 L350.6 1314.3 L351.3 1310.6 L352.1 1307.2 L352.8 1304 L353.6 1301.2 L354.3 1300.5 L355.1 1304 L355.8 1310.4 L356.6 1317.5 L357.3 1323.3 L358.1 1329.8 L358.8 1336.5 L359.6 1342.1 L360.3 1345.2 L361.1 1345.4 L361.8 1345.4 L362.6 1345.2 L363.3 1345 L364.1 1344.7 L364.8 1344.4 L365.6 1343.8 L366.3 1342.8 L367.1 1341.5 L367.8 1340.2 L368.6 1339 L369.3 1338.3 L370.1 1338.1 L370.8 1338.9 L371.6 1340.3 L372.3 1342.2 L373.1 1344.2 L373.8 1345.8 L374.6 1346.8 L375.3 1346.9 L376.1 1346.7 L376.8 1346.6 L377.6 1346.5 L378.3 1346.5 L379.1 1346.6 L379.8 1346.7 L380.6 1346.8 L381.3 1347.1 L382.1 1347.5 L382.8 1348 L383.6 1348.4 L384.3 1348.6 L385.1 1348.6 L385.8 1348.5 L386.6 1348.2 L387.3 1348.1 L388.1 1347.9 L388.8 1347.8 L389.6 1347.7 L390.3 1347.5 L391.1 1347.1 L391.8 1346.5 L392.6 1345.9 L393.3 1345.4 L394.1 1345.3 L394.8 1345.5 L395.6 1346 L396.3 1346.6 L397.1 1347.1 L397.8 1347.4 L398.6 1347.5 L399.3 1347.5 L400.1 1347.5 L400.8 1347.6 L401.6 1347.7 L402.3 1348 L403.1 1348.2 L403.8 1348.5 L404.6 1348.6 L405.3 1348.7 L406.1 1348.7 L406.8 1348.7 L407.6 1348.7 L408.3 1348.7 L409.1 1348.7 L409.8 1348.6 L410.6 1348.6 L411.3 1348.4 L412.1 1348 L412.8 1347.6 L413.6 1347.1 L414.3 1346.6 L415.1 1346.2 L415.8 1345.9 L416.6 1345.8 L417.3 1345.9 L418.1 1346.1 L418.8 1346.5 L419.6 1346.7 L420.3 1346.7 L421.1 1346.7 L421.8 1346.6 L422.6 1346 L423.3 1344.8 L424.1 1343.4 L424.8 1342.4 L425.6 1341 L426.3 1339.9 L427.1 1339.4 L427.8 1340.2 L428.6 1342 L429.3 1344 L430.1 1345.9 L430.8 1348 L431.6 1348.9 L432.3 1349.2 L433.1 1349.5 L433.8 1349.6 L434.6 1349.7 L435.3 1349.8 L436.1 1350 L436.8 1350.1 L437.6 1350.3 L438.3 1350.5 L439.1 1350.6 L439.8 1350.7 L440.6 1350.6 L441.3 1350.4 L442.1 1350.2 L442.8 1350.1 L443.6 1350.1 L444.3 1350.3 L445.1 1350.4 L445.8 1350.3 L446.6 1350.1 L447.3 1349.6 L448.1 1349.1 L448.8 1348.6 L449.6 1348.1 L450.3 1347.7 L451.1 1347.4 L451.8 1347.3 L452.6 1347.2 L453.3 1347.1 L454.1 1347 L454.8 1347.1 L455.6 1347.3 L456.3 1347.6 L457.1 1348 L457.8 1348.3 L458.6 1348.5 L459.3 1348.7 L460.1 1348.8 L460.8 1349 L461.6 1349.2 L462.3 1349.4 L463.1 1349.5 L463.8 1349.5 L464.6 1349.4 L465.3 1349.1 L466.1 1348.7 L466.8 1348.4 L467.6 1348 L468.3 1347.4 L469.1 1346.6 L469.8 1345.8 L470.6 1344.8 L471.3 1344 L472.1 1343.3 L472.8 1343 L473.6 1343 L474.3 1343.4 L475.1 1344.1 L475.8 1344.9 L476.6 1345.7 L477.3 1346.3 L478.1 1346.5 L478.8 1346.1 L479.6 1345.3 L480.3 1344.3 L481.1 1343.3 L481.8 1342.5 L482.6 1341.8 L483.3 1341.3 L484.1 1341 L484.8 1341 L485.6 1341.7 L486.3 1342.6 L487.1 1343.7 L487.8 1344.5 L488.6 1345 L489.3 1345.1 L490.1 1344.9 L490.8 1344.6 L491.6 1344.3 L492.3 1344.1 L493.1 1344.2 L493.8 1344.9 L494.6 1346 L495.3 1347.3 L496.1 1348.6 L496.8 1349.4 L497.6 1349.6 L498.3 1349.4 L499.1 1349.1 L499.8 1348.8 L500.6 1348.5 L501.3 1348.3 L502.1 1347.9 L502.8 1347.4 L503.6 1346.9 L504.3 1346.5 L505.1 1346.2 L505.8 1346.1 L506.6 1346.2 L507.3 1346.3 L508.1 1346.6 L508.8 1346.7 L509.6 1346.6 L510.3 1345.3 L511.1 1343.1 L511.8 1340.6 L512.6 1338.1 L513.3 1336 L514.1 1333.6 L514.8 1331.4 L515.6 1330.2 L516.3 1330.7 L517.1 1333.1 L517.8 1336.5 L518.6 1340 L519.3 1342.6 L520.1 1343.3 L520.8 1343 L521.6 1342.5 L522.3 1342 L523.1 1341.6 L523.8 1341.5 L524.6 1342.1 L525.3 1343.3 L526.1 1344.9 L526.8 1346.6 L527.6 1348.2 L528.3 1349.5 L529.1 1350.3 L529.8 1350.5 L530.6 1350.3 L531.3 1350.1 L532.1 1349.7 L532.8 1349.3 L533.6 1348.9 L534.3 1348.5 L535.1 1348.1 L535.8 1347.8 L536.6 1347.5 L537.3 1347.1 L538.1 1346.6 L538.8 1346 L539.6 1345.3 L540.3 1344.6 L541.1 1343.9 L541.8 1343.2 L542.6 1342.5 L543.3 1342.1 L544.1 1342 L544.8 1342.3 L545.6 1343 L546.3 1343.9 L547.1 1344.8 L547.8 1345.7 L548.6 1346.3 L549.3 1346.7 L550.1 1346.9 L550.8 1347.3 L551.6 1348 L552.3 1348.8 L553.1 1349.7 L553.8 1350.5 L554.6 1351.1 L555.3 1351.5 L556.1 1351.6 L556.8 1351.7 L557.6 1351.8 L558.3 1351.9 L559.1 1351.9 L559.8 1352 L560.6 1352.1 L561.3 1352.1 L562.1 1352 L562.8 1351.9 L563.6 1351.7 L564.3 1351.5 L565.1 1351.4 L565.8 1351.3 L566.6 1351.2 L567.3 1351.2 L568.1 1351.1 L568.8 1351 L569.6 1350.8 L570.3 1350.4 L571.1 1349.8 L571.8 1349.3 L572.6 1348.8 L573.3 1348.5 L574.1 1348.2 L574.8 1348.1 L575.6 1348.3 L576.3 1348.6 L577.1 1348.9 L577.8 1349.3 L578.6 1349.6 L579.3 1350 L580.1 1350.3 L580.8 1350.4 L581.6 1350.5 L582.3 1350.5 L583.1 1350.6 L583.8 1350.6 L584.6 1350.6 L585.3 1350.7 L586.1 1350.7 L586.8 1350.7 L587.6 1351 L588.3 1351.2 L589.1 1351.4 L589.8 1351.5 L590.6 1351.4 L591.3 1351.1 L592.1 1350.7 L592.8 1350.4 L593.6 1349.9 L594.3 1349.5 L595.1 1349.1 L595.8 1348.6 L596.6 1348 L597.3 1347.3 L598.1 1346.2 L598.8 1345 L599.6 1344 L600.3 1343.5 L601.1 1343.6 L601.8 1344.4 L602.6 1345.6 L603.3 1346.9 L604.1 1347.9 L604.8 1348.7 L605.6 1349.1 L606.3 1349.5 L607.1 1349.8 L607.8 1350.1 L608.6 1350.2 L609.3 1350.1 L610.1 1349.9 L610.8 1349.5 L611.6 1349.1 L612.3 1348.5 L613.1 1347.9 L613.8 1347.3 L614.6 1346.9 L615.3 1346.7 L616.1 1346.7 L616.8 1346.9 L617.6 1347.2 L618.3 1347.5 L619.1 1347.8 L619.8 1348.2 L620.6 1348.6 L621.3 1349.1 L622.1 1349.6 L622.8 1350 L623.6 1350.2 L624.3 1350.3 L625.1 1350.2 L625.8 1349.9 L626.6 1349.4 L627.3 1349 L628.1 1348.5 L628.8 1348.2 L629.6 1348 L630.3 1347.9 L631.1 1348 L631.8 1348.1 L632.6 1348.6 L633.3 1349.1 L634.1 1349.4 L634.8 1349.3 L635.6 1348.8 L636.3 1348 L637.1 1347.1 L637.8 1346.2 L638.6 1345.3 L639.3 1344.7 L640.1 1344.5 L640.8 1344.8 L641.6 1345.3 L642.3 1346 L643.1 1346.8 L643.8 1347.4 L644.6 1347.9 L645.3 1348.4 L646.1 1348.6 L646.8 1348.9 L647.6 1349.2 L648.3 1349.5 L649.1 1349.8 L649.8 1349.9 L650.6 1350 L651.3 1350.1 L652.1 1350.2 L652.8 1350.3 L653.6 1350.4 L654.3 1350.6 L655.1 1350.8 L655.8 1351 L656.6 1351.1 L657.3 1351 L658.1 1350.8 L658.8 1350.7 L659.6 1350.6 L660.3 1350.6 L661.1 1350.7 L661.8 1350.9 L662.6 1351.1 L663.3 1351.2 L664.1 1351.3 L664.8 1351.3 L665.6 1351.4 L666.3 1351.4 L667.1 1351.4 L667.8 1351.5 L668.6 1351.5 L669.3 1351.4 L670.1 1351.4 L670.8 1351.3 L671.6 1351.2 L672.3 1351 L673.1 1350.8 L673.8 1350.6 L674.6 1350.3 L675.3 1350 L676.1 1349.6 L676.8 1349.3 L677.6 1348.9 L678.3 1348.5 L679.1 1348.1 L679.8 1347.7 L680.6 1347.2 L681.3 1346.6 L682.1 1346.1 L682.8 1345.7 L683.6 1345.5 L684.3 1345.5 L685.1 1346 L685.8 1346.8 L686.6 1347.8 L687.3 1348.9 L688.1 1349.8 L688.8 1350.6 L689.6 1351.2 L690.3 1351.5 L691.1 1351.7 L691.8 1351.7 L692.6 1351.5 L693.3 1351.2 L694.1 1350.9 L694.8 1350.6 L695.6 1350.5 L696.3 1350.3 L697.1 1350.1 L697.8 1350 L698.6 1349.9 L699.3 1349.7 L700.1 1349.7 L700.8 1349.6 L701.6 1349.5 L702.3 1349.5 L703.1 1349.5 L703.8 1349.5 L704.6 1349.4 L705.3 1349.4 L706.1 1349.2 L706.8 1349 L707.6 1348.7 L708.3 1348.5 L709.1 1348.3 L709.8 1348.2 L710.6 1348 L711.3 1347.9 L712.1 1347.7 L712.8 1347.3 L713.6 1346.7 L714.3 1345.9 L715.1 1344.5 L715.8 1343.1 L716.6 1341.8 L717.3 1341.1 L718.1 1340.9 L718.8 1341.2 L719.6 1341.7 L720.3 1342.3 L721.1 1342.7 L721.8 1343 L722.6 1342.9 L723.3 1342.7 L724.1 1342.5 L724.8 1342.2 L725.6 1342 L726.3 1341.9 L727.1 1342.2 L727.8 1342.9 L728.6 1343.9 L729.3 1344.9 L730.1 1345.9 L730.8 1346.5 L731.6 1346.8 L732.3 1347.1 L733.1 1347.3 L733.8 1347.4 L734.6 1347.4 L735.3 1347.5 L736.1 1347.5 L736.8 1347.6 L737.6 1347.7 L738.3 1348 L739.1 1348.4 L739.8 1348.8 L740.6 1349.1 L741.3 1349.3 L742.1 1349.5 L742.8 1349.6 L743.6 1349.8 L744.3 1350.1 L745.1 1350.3 L745.8 1350.5 L746.6 1350.6 L747.3 1350.6 L748.1 1350.7 L748.8 1350.8 L749.6 1350.8 L750.3 1350.9 L751.1 1351 L751.8 1351.2 L752.6 1351.5 L753.3 1351.8 L754.1 1352.1 L754.8 1352.1 L755.6 1351.9 L756.3 1351.6 L757.1 1351.4 L757.8 1351.3 L758.6 1351.3 L759.3 1351.5 L760.1 1351.6 L760.8 1351.7 L761.6 1351.8 L762.3 1351.7 L763.1 1351.5 L763.8 1351.4 L764.6 1351.2 L765.3 1351.1 L766.1 1351.1 L766.8 1351.2 L767.6 1351.2 L768.3 1351.2 L769.1 1351 L769.8 1350.9 L770.6 1350.6 L771.3 1350.4 L772.1 1350.2 L772.8 1349.9 L773.6 1349.7 L774.3 1349.4 L775.1 1349.2 L775.8 1349.1 L776.6 1349 L777.3 1348.8 L778.1 1348.7 L778.8 1348.7 L779.6 1348.6 L780.3 1348.7 L781.1 1348.8 L781.8 1348.9 L782.6 1348.9 L783.3 1349 L784.1 1349.1 L784.8 1349.2 L785.6 1349.4 L786.3 1349.6 L787.1 1349.7 L787.8 1349.8 L788.6 1349.9 L789.3 1350 L790.1 1350.3 L790.8 1350.5 L791.6 1350.7 L792.3 1350.8 L793.1 1350.9 L793.8 1351 L794.6 1351.2 L795.3 1351.4 L796.1 1351.4 L796.8 1351.3 L797.6 1351 L798.3 1350.7 L799.1 1350.4 L799.8 1350.1 L800.6 1349.8 L801.3 1349.4 L802.1 1348.5 L802.8 1347.2 L803.6 1345.9 L804.3 1344.6 L805.1 1343.3 L805.8 1341.8 L806.6 1340.5 L807.3 1339.8 L808.1 1340 L808.8 1341.1 L809.6 1342.8 L810.3 1344.5 L811.1 1345.9 L811.8 1347.2 L812.6 1348.5 L813.3 1349.5 L814.1 1349.9 L814.8 1350.1 L815.6 1350.1 L816.3 1350.2 L817.1 1350.3 L817.8 1350.4 L818.6 1350.6 L819.3 1350.8 L820.1 1351 L820.8 1351.2 L821.6 1351.2 L822.3 1351.2 L823.1 1351.3 L823.8 1351.3 L824.6 1351.2 L825.3 1351.2 L826.1 1351.2 L826.8 1351.2 L827.6 1351.1 L828.3 1351.1 L829.1 1351 L829.8 1350.8 L830.6 1350.7 L831.3 1350.7 L832.1 1350.7 L832.8 1350.7 L833.6 1350.8 L834.3 1350.9 L835.1 1351 L835.8 1351.1 L836.6 1351.3 L837.3 1351.4 L838.1 1351.5 L838.8 1351.4 L839.6 1351.4 L840.3 1351.3 L841.1 1351.3 L841.8 1351.3 L842.6 1351.3 L843.3 1351.4 L844.1 1351.5 L844.8 1351.7 L845.6 1351.7 L846.3 1351.5 L847.1 1351 L847.8 1350.6 L848.6 1350.3 L849.3 1350.3 L850.1 1350.4 L850.8 1350.6 L851.6 1350.8 L852.3 1351 L853.1 1351.1 L853.8 1351.3 L854.6 1351.4 L855.3 1351.6 L856.1 1351.6 L856.8 1351.6 L857.6 1351.4 L858.3 1351.2 L859.1 1351.1 L859.8 1351.1 L860.6 1351.1 L861.3 1351.1 L862.1 1351 L862.8 1350.9 L863.6 1350.7 L864.3 1350.7 L865.1 1350.6 L865.8 1350.5 L866.6 1350.3 L867.3 1350 L868.1 1349.7 L868.8 1349.4 L869.6 1349.1 L870.3 1349 L871.1 1349 L871.8 1349.1 L872.6 1349.1 L873.3 1349.2 L874.1 1349.3 L874.8 1349.4 L875.6 1349.5 L876.3 1349.6 L877.1 1349.8 L877.8 1350 L878.6 1350.3 L879.3 1350.6 L880.1 1350.8 L880.8 1350.9 L881.6 1350.8 L882.3 1350.6 L883.1 1350.5 L883.8 1350.5 L884.6 1350.5 L885.3 1350.7 L886.1 1350.9 L886.8 1351.1 L887.6 1351.1 L888.3 1351.1 L889.1 1351.1 L889.8 1351.1 L890.6 1351.1 L891.3 1351.1 L892.1 1351 L892.8 1350.8 L893.6 1350.6 L894.3 1350.4 L895.1 1350.3 L895.8 1350.2 L896.6 1350.1 L897.3 1350 L898.1 1349.9 L898.8 1349.9 L899.6 1349.9 L900.3 1350 L901.1 1350.1 L901.8 1350.1 L902.6 1350.1 L903.3 1350 L904.1 1350 L904.8 1350.1 L905.6 1350.1 L906.3 1350.1 L907.1 1350.1 L907.8 1350.1 L908.6 1350.3 L909.3 1350.5 L910.1 1350.8 L910.8 1351.1 L911.6 1351.3 L912.3 1351.5 L913.1 1351.6 L913.8 1351.7 L914.6 1351.8 L915.3 1351.8 L916.1 1351.7 L916.8 1351.7 L917.6 1351.6 L918.3 1351.5 L919.1 1351.4 L919.8 1351.2 L920.6 1350.9 L921.3 1350.6 L922.1 1350.4 L922.8 1350.2 L923.6 1350.3 L924.3 1350.4 L925.1 1350.6 L925.8 1350.6 L926.6 1350.4 L927.3 1350.2 L928.1 1349.9 L928.8 1349.6 L929.6 1349.6 L930.3 1349.7 L931.1 1349.9 L931.8 1350.2 L932.6 1350.4 L933.3 1350.4 L934.1 1350.4 L934.8 1350.3 L935.6 1350.2 L936.3 1350.2 L937.1 1350.3 L937.8 1350.4 L938.6 1350.5 L939.3 1350.5 L940.1 1350.6 L940.8 1350.6 L941.6 1350.4 L942.3 1350.3 L943.1 1350.1 L943.8 1350 L944.6 1349.9 L945.3 1349.7 L946.1 1349.6 L946.8 1349.4 L947.6 1349.1 L948.3 1348.8 L949.1 1348.5 L949.8 1348.2 L950.6 1348 L951.3 1347.9 L952.1 1347.9 L952.8 1348 L953.6 1348.1 L954.3 1348.3 L955.1 1348.3 L955.8 1348.4 L956.6 1348.5 L957.3 1348.7 L958.1 1349.1 L958.8 1349.7 L959.6 1350.3 L960.3 1350.8 L961.1 1351.2 L961.8 1351.5 L962.6 1351.7 L963.3 1351.8 L964.1 1351.8 L964.8 1351.8 L965.6 1351.6 L966.3 1351.3 L967.1 1351 L967.8 1350.9 L968.6 1350.8 L969.3 1350.9 L970.1 1350.9 L970.8 1350.9 L971.6 1351 L972.3 1351.2 L973.1 1351.4 L973.8 1351.7 L974.6 1351.8 L975.3 1351.8 L976.1 1351.7 L976.8 1351.5 L977.6 1351.2 L978.3 1351 L979.1 1350.7 L979.8 1350.4 L980.6 1350 L981.3 1349.7 L982.1 1349.6 L982.8 1349.6 L983.6 1349.8 L984.3 1349.9 L985.1 1350 L985.8 1350 L986.6 1349.9 L987.3 1349.8 L988.1 1349.7 L988.8 1349.6 L989.6 1349.5 L990.3 1349.3 L991.1 1349.1 L991.8 1349 L992.6 1348.8 L993.3 1348.7 L994.1 1348.6 L994.8 1348.6 L995.6 1348.6 L996.3 1348.5 L997.1 1348.5 L997.8 1348.5 L998.6 1348.6 L999.3 1348.8 L1000.1 1349.1 L1000.8 1349.5 L1001.6 1350 L1002.3 1350.4 L1003.1 1350.8 L1003.8 1351 L1004.6 1351.2 L1005.3 1351.3 L1006.1 1351.3 L1006.8 1351.3 L1007.6 1351.2 L1008.3 1351.1 L1009.1 1351.1 L1009.8 1351 L1010.6 1351.1 L1011.3 1351.3 L1012.1 1351.5 L1012.8 1351.7 L1013.6 1351.7 L1014.3 1351.7 L1015.1 1351.7 L1015.8 1351.7 L1016.6 1351.6 L1017.3 1351.5 L1018.1 1351.3 L1018.8 1351.1 L1019.6 1350.9 L1020.3 1350.9 L1021.1 1350.9 L1021.8 1350.9 L1022.6 1350.9 L1023 1350.9" stroke="#f14040"/>
<path d="M102.3 1288.4 L103.1 1288.2 L103.8 1288.3 L104.6 1288.4 L105.3 1288.7 L106.1 1288.9 L106.8 1289 L107.6 1289 L108.3 1288.8 L109.1 1288.6 L109.8 1288.4 L110.6 1288.4 L111.3 1288.4 L112.1 1288.4 L112.8 1288.4 L113.6 1288.4 L114.3 1288.5 L115.1 1288.7 L115.8 1289 L116.6 1289.2 L117.3 1289.4 L118.1 1289.4 L118.8 1289.4 L119.6 1289.4 L120.3 1289.4 L121.1 1289.4 L121.8 1289.4 L122.6 1289.4 L123.3 1289.4 L124.1 1289.4 L124.8 1289.4 L125.6 1289.5 L126.3 1289.5 L127.1 1289.5 L127.8 1289.5 L128.6 1289.5 L129.3 1289.4 L130.1 1289.3 L130.8 1289.3 L131.6 1289.2 L132.3 1289.3 L133.1 1289.4 L133.8 1289.5 L134.6 1289.6 L135.3 1289.6 L136.1 1289.6 L136.8 1289.6 L137.6 1289.6 L138.3 1289.6 L139.1 1289.6 L139.8 1289.4 L140.6 1289.2 L141.3 1289.1 L142.1 1289 L142.8 1289 L143.6 1289 L144.3 1289 L145.1 1289 L145.8 1289 L146.6 1289.1 L147.3 1289.2 L148.1 1289.2 L148.8 1289.3 L149.6 1289.3 L150.3 1289.3 L151.1 1289.2 L151.8 1289.2 L152.6 1289.2 L153.3 1289 L154.1 1288.8 L154.8 1288.6 L155.6 1288.4 L156.3 1288.4 L157.1 1288.7 L157.8 1289.1 L158.6 1289.4 L159.3 1289.6 L160.1 1289.6 L160.8 1289.5 L161.6 1289.3 L162.3 1289.3 L163.1 1289.2 L163.8 1289.5 L164.6 1289.9 L165.3 1290.4 L166.1 1290.7 L166.8 1290.7 L167.6 1290.6 L168.3 1290.4 L169.1 1290.1 L169.8 1289.9 L170.6 1289.7 L171.3 1289.5 L172.1 1289.4 L172.8 1289.3 L173.6 1289.2 L174.3 1289.4 L175.1 1289.7 L175.8 1290 L176.6 1290.2 L177.3 1290.2 L178.1 1290 L178.8 1289.8 L179.6 1289.5 L180.3 1289.4 L181.1 1289.4 L181.8 1289.4 L182.6 1289.3 L183.3 1289 L184.1 1288.4 L184.8 1287.7 L185.6 1287 L186.3 1286.2 L187.1 1285.4 L187.8 1284.5 L188.6 1283.8 L189.3 1283.3 L190.1 1283.1 L190.8 1283.4 L191.6 1283.9 L192.3 1284.5 L193.1 1285.2 L193.8 1285.9 L194.6 1286.5 L195.3 1287.3 L196.1 1288.1 L196.8 1288.8 L197.6 1289.1 L198.3 1289.2 L199.1 1289.3 L199.8 1289.3 L200.6 1289.3 L201.3 1289.4 L202.1 1289.5 L202.8 1289.7 L203.6 1290.1 L204.3 1290.3 L205.1 1290.4 L205.8 1290.4 L206.6 1290.3 L207.3 1290.2 L208.1 1290.2 L208.8 1290.2 L209.6 1290.2 L210.3 1290.3 L211.1 1290.4 L211.8 1290.4 L212.6 1290.3 L213.3 1290.1 L214.1 1289.9 L214.8 1289.7 L215.6 1289.6 L216.3 1289.7 L217.1 1289.8 L217.8 1290 L218.6 1289.9 L219.3 1289.8 L220.1 1289.4 L220.8 1289 L221.6 1288.6 L222.3 1288.3 L223.1 1288.2 L223.8 1288.4 L224.6 1288.7 L225.3 1288.9 L226.1 1289.1 L226.8 1289.1 L227.6 1289.2 L228.3 1289.3 L229.1 1289.4 L229.8 1289.6 L230.6 1289.9 L231.3 1290.1 L232.1 1290.3 L232.8 1290.4 L233.6 1290.5 L234.3 1290.3 L235.1 1290.2 L235.8 1290 L236.6 1290 L237.3 1290 L238.1 1290 L238.8 1290 L239.6 1290 L240.3 1290 L241.1 1289.9 L241.8 1289.8 L242.6 1289.7 L243.3 1289.7 L244.1 1289.7 L244.8 1289.7 L245.6 1289.8 L246.3 1289.8 L247.1 1289.8 L247.8 1289.8 L248.6 1289.8 L249.3 1289.7 L250.1 1289.7 L250.8 1289.7 L251.6 1289.7 L252.3 1289.7 L253.1 1289.8 L253.8 1289.8 L254.6 1289.9 L255.3 1289.9 L256.1 1290 L256.8 1290 L257.6 1290 L258.3 1290 L259.1 1290 L259.8 1290 L260.6 1290 L261.3 1290 L262.1 1290 L262.8 1290.1 L263.6 1290.1 L264.3 1290.1 L265.1 1290 L265.8 1289.8 L266.6 1289.6 L267.3 1289.4 L268.1 1289.4 L268.8 1289.4 L269.6 1289.5 L270.3 1289.7 L271.1 1289.8 L271.8 1289.7 L272.6 1289.6 L273.3 1289.4 L274.1 1289.3 L274.8 1289.2 L275.6 1289.2 L276.3 1289.3 L277.1 1289.5 L277.8 1289.6 L278.6 1289.3 L279.3 1288.7 L280.1 1287.8 L280.8 1286.9 L281.6 1286 L282.3 1285.1 L283.1 1284.4 L283.8 1283.8 L284.6 1283.3 L285.3 1282.9 L286.1 1282.6 L286.8 1282.3 L287.6 1282.1 L288.3 1281.9 L289.1 1281.8 L289.8 1282 L290.6 1282.5 L291.3 1283.1 L292.1 1283.4 L292.8 1283.3 L293.6 1282.9 L294.3 1282.5 L295.1 1282 L295.8 1281.5 L296.6 1281.2 L297.3 1281 L298.1 1281 L298.8 1281.2 L299.6 1281.6 L300.3 1282.1 L301.1 1282.6 L301.8 1283.2 L302.6 1283.7 L303.3 1284 L304.1 1284.1 L304.8 1284.3 L305.6 1284.4 L306.3 1284.5 L307.1 1284.7 L307.8 1284.9 L308.6 1285.1 L309.3 1285.3 L310.1 1285.5 L310.8 1285.6 L311.6 1285.7 L312.3 1285.9 L313.1 1286 L313.8 1286 L314.6 1286.1 L315.3 1286.1 L316.1 1286.1 L316.8 1286.1 L317.6 1286.1 L318.3 1286.1 L319.1 1286.1 L319.8 1286.2 L320.6 1286.2 L321.3 1286.3 L322.1 1286.4 L322.8 1286.5 L323.6 1286.6 L324.3 1286.9 L325.1 1287.2 L325.8 1287.5 L326.6 1287.9 L327.3 1288.1 L328.1 1288.1 L328.8 1287.9 L329.6 1287.6 L330.3 1287.2 L331.1 1287 L331.8 1286.9 L332.6 1286.8 L333.3 1286.9 L334.1 1286.9 L334.8 1286.9 L335.6 1287.1 L336.3 1287.3 L337.1 1287.5 L337.8 1287.7 L338.6 1287.8 L339.3 1287 L340.1 1284.4 L340.8 1281.4 L341.6 1279 L342.3 1276.6 L343.1 1275 L343.8 1274.4 L344.6 1274 L345.3 1273.7 L346.1 1273 L346.8 1271.7 L347.6 1267.8 L348.3 1264 L349.1 1261.1 L349.8 1258.7 L350.6 1258.3 L351.3 1261.8 L352.1 1267.2 L352.8 1271.9 L353.6 1276.3 L354.3 1280.9 L355.1 1284.7 L355.8 1287 L356.6 1287.2 L357.3 1287 L358.1 1286.7 L358.8 1286.4 L359.6 1286.2 L360.3 1286.1 L361.1 1285.6 L361.8 1283.8 L362.6 1281 L363.3 1277.9 L364.1 1274.9 L364.8 1271.4 L365.6 1268.1 L366.3 1265.9 L367.1 1265.4 L367.8 1267.7 L368.6 1271.9 L369.3 1276.4 L370.1 1280.2 L370.8 1284.4 L371.6 1288.1 L372.3 1289.2 L373.1 1289.2 L373.8 1289.1 L374.6 1289 L375.3 1288.9 L376.1 1288.8 L376.8 1288.8 L377.6 1288.9 L378.3 1289.1 L379.1 1289.2 L379.8 1289.3 L380.6 1289.2 L381.3 1288.8 L382.1 1288.4 L382.8 1288.1 L383.6 1288 L384.3 1288 L385.1 1288 L385.8 1288.1 L386.6 1288.2 L387.3 1288.3 L388.1 1288.3 L388.8 1288.4 L389.6 1288.5 L390.3 1288.5 L391.1 1288.5 L391.8 1288.5 L392.6 1288.6 L393.3 1288.6 L394.1 1288.7 L394.8 1288.8 L395.6 1288.8 L396.3 1288.9 L397.1 1289 L397.8 1289.1 L398.6 1289.3 L399.3 1289.5 L400.1 1289.6 L400.8 1289.7 L401.6 1289.9 L402.3 1290.1 L403.1 1290.3 L403.8 1290.5 L404.6 1290.5 L405.3 1290.4 L406.1 1290.3 L406.8 1290.1 L407.6 1289.9 L408.3 1289.7 L409.1 1289.4 L409.8 1289 L410.6 1288.4 L411.3 1287.8 L412.1 1287.3 L412.8 1287 L413.6 1286.7 L414.3 1286.6 L415.1 1286.7 L415.8 1286.9 L416.6 1287.1 L417.3 1287.4 L418.1 1287.6 L418.8 1287.8 L419.6 1287.7 L420.3 1287.3 L421.1 1286.6 L421.8 1285.8 L422.6 1285.2 L423.3 1284.8 L424.1 1285 L424.8 1285.6 L425.6 1286.4 L426.3 1287.3 L427.1 1288.2 L427.8 1288.9 L428.6 1289.2 L429.3 1289.4 L430.1 1289.6 L430.8 1289.9 L431.6 1290.1 L432.3 1290.3 L433.1 1290.4 L433.8 1290.5 L434.6 1290.6 L435.3 1290.7 L436.1 1290.7 L436.8 1290.7 L437.6 1290.8 L438.3 1290.8 L439.1 1290.8 L439.8 1290.7 L440.6 1290.6 L441.3 1290.5 L442.1 1290.3 L442.8 1290.1 L443.6 1289.9 L444.3 1289.7 L445.1 1289.5 L445.8 1289.3 L446.6 1289 L447.3 1288.7 L448.1 1288.3 L448.8 1288 L449.6 1287.7 L450.3 1287.6 L451.1 1287.7 L451.8 1287.9 L452.6 1288.1 L453.3 1288.4 L454.1 1288.5 L454.8 1288.6 L455.6 1288.7 L456.3 1288.8 L457.1 1288.9 L457.8 1289.1 L458.6 1289.2 L459.3 1289.3 L460.1 1289.4 L460.8 1289.4 L461.6 1289.3 L462.3 1289.2 L463.1 1289.1 L463.8 1289 L464.6 1288.7 L465.3 1288.1 L466.1 1287.3 L466.8 1286.5 L467.6 1286 L468.3 1285.6 L469.1 1285.5 L469.8 1285.8 L470.6 1286.4 L471.3 1287.2 L472.1 1287.8 L472.8 1288.1 L473.6 1288 L474.3 1287.6 L475.1 1287 L475.8 1286.4 L476.6 1285.7 L477.3 1285.2 L478.1 1284.8 L478.8 1284.6 L479.6 1284.5 L480.3 1284.4 L481.1 1284.5 L481.8 1284.7 L482.6 1284.7 L483.3 1284.3 L484.1 1283.5 L484.8 1282.7 L485.6 1281.9 L486.3 1281.6 L487.1 1282.2 L487.8 1283.8 L488.6 1285.8 L489.3 1287.8 L490.1 1289.5 L490.8 1290.2 L491.6 1290.3 L492.3 1290.2 L493.1 1290.2 L493.8 1290.1 L494.6 1290 L495.3 1289.9 L496.1 1289.8 L496.8 1289.7 L497.6 1289.5 L498.3 1289.2 L499.1 1288.8 L499.8 1288.2 L500.6 1287.6 L501.3 1287.2 L502.1 1287 L502.8 1287.2 L503.6 1287.6 L504.3 1288.1 L505.1 1288.6 L505.8 1288.5 L506.6 1286.9 L507.3 1284.5 L508.1 1282.2 L508.8 1280.4 L509.6 1278.9 L510.3 1277.8 L511.1 1277.3 L511.8 1277.5 L512.6 1278.6 L513.3 1280.2 L514.1 1281.9 L514.8 1283.4 L515.6 1284.4 L516.3 1284.5 L517.1 1284.4 L517.8 1284.3 L518.6 1284.2 L519.3 1284.2 L520.1 1284.4 L520.8 1285 L521.6 1285.7 L522.3 1286.5 L523.1 1287.5 L523.8 1288.6 L524.6 1289.4 L525.3 1290 L526.1 1290.2 L526.8 1290.2 L527.6 1290.4 L528.3 1290.6 L529.1 1290.8 L529.8 1290.9 L530.6 1290.9 L531.3 1290.8 L532.1 1290.4 L532.8 1290.1 L533.6 1289.5 L534.3 1288.9 L535.1 1288.2 L535.8 1287.6 L536.6 1287 L537.3 1286.4 L538.1 1285.5 L538.8 1284.7 L539.6 1284 L540.3 1283.7 L541.1 1283.9 L541.8 1284.4 L542.6 1285.3 L543.3 1286.3 L544.1 1287.2 L544.8 1288 L545.6 1288.6 L546.3 1289.1 L547.1 1289.6 L547.8 1290.2 L548.6 1290.6 L549.3 1290.8 L550.1 1290.9 L550.8 1290.9 L551.6 1290.9 L552.3 1291.1 L553.1 1291.4 L553.8 1291.7 L554.6 1291.9 L555.3 1291.8 L556.1 1291.6 L556.8 1291.2 L557.6 1290.8 L558.3 1290.6 L559.1 1290.5 L559.8 1290.5 L560.6 1290.4 L561.3 1290.4 L562.1 1290.4 L562.8 1290.4 L563.6 1290.5 L564.3 1290.5 L565.1 1290.4 L565.8 1290.1 L566.6 1289.5 L567.3 1288.9 L568.1 1288.4 L568.8 1288 L569.6 1287.9 L570.3 1287.8 L571.1 1288 L571.8 1288.2 L572.6 1288.6 L573.3 1289.1 L574.1 1289.6 L574.8 1290.2 L575.6 1290.6 L576.3 1290.9 L577.1 1291 L577.8 1290.9 L578.6 1290.7 L579.3 1290.6 L580.1 1290.7 L580.8 1290.7 L581.6 1290.8 L582.3 1290.9 L583.1 1290.9 L583.8 1290.8 L584.6 1290.8 L585.3 1290.6 L586.1 1290.5 L586.8 1290.4 L587.6 1290.2 L588.3 1290.1 L589.1 1289.9 L589.8 1289.8 L590.6 1289.5 L591.3 1289.2 L592.1 1288.8 L592.8 1288.4 L593.6 1287.8 L594.3 1287.2 L595.1 1286.4 L595.8 1285.8 L596.6 1285.3 L597.3 1285.2 L598.1 1285.4 L598.8 1285.8 L599.6 1286.4 L600.3 1287.2 L601.1 1288 L601.8 1289 L602.6 1289.9 L603.3 1290.7 L604.1 1291.2 L604.8 1291.3 L605.6 1291.2 L606.3 1290.8 L607.1 1290.4 L607.8 1290.1 L608.6 1289.8 L609.3 1289.6 L610.1 1289.4 L610.8 1289.2 L611.6 1288.9 L612.3 1288.5 L613.1 1288.2 L613.8 1288.2 L614.6 1288.3 L615.3 1288.6 L616.1 1289 L616.8 1289.4 L617.6 1289.8 L618.3 1290.1 L619.1 1290.2 L619.8 1290.3 L620.6 1290.3 L621.3 1290.3 L622.1 1290.3 L622.8 1290.3 L623.6 1290.2 L624.3 1290.2 L625.1 1290.1 L625.8 1290 L626.6 1289.8 L627.3 1289.6 L628.1 1289.4 L628.8 1289.3 L629.6 1289.3 L630.3 1289.2 L631.1 1289 L631.8 1288.6 L632.6 1288.1 L633.3 1287.5 L634.1 1287 L634.8 1286.5 L635.6 1286.2 L636.3 1286.1 L637.1 1286.3 L637.8 1286.7 L638.6 1287.2 L639.3 1287.7 L640.1 1288.1 L640.8 1288.5 L641.6 1288.7 L642.3 1288.9 L643.1 1289.1 L643.8 1289.1 L644.6 1289.1 L645.3 1289.2 L646.1 1289.3 L646.8 1289.4 L647.6 1289.7 L648.3 1289.9 L649.1 1290 L649.8 1290.1 L650.6 1290 L651.3 1289.8 L652.1 1289.7 L652.8 1289.6 L653.6 1289.6 L654.3 1289.7 L655.1 1289.9 L655.8 1290 L656.6 1290 L657.3 1290 L658.1 1289.9 L658.8 1289.9 L659.6 1289.8 L660.3 1289.8 L661.1 1289.9 L661.8 1289.9 L662.6 1290 L663.3 1290.1 L664.1 1290.1 L664.8 1290.1 L665.6 1290 L666.3 1289.9 L667.1 1289.9 L667.8 1289.8 L668.6 1289.7 L669.3 1289.6 L670.1 1289.5 L670.8 1289.6 L671.6 1289.7 L672.3 1289.8 L673.1 1289.8 L673.8 1289.7 L674.6 1289.3 L675.3 1288.9 L676.1 1288.5 L676.8 1288 L677.6 1287.5 L678.3 1287.1 L679.1 1286.8 L679.8 1286.7 L680.6 1286.8 L681.3 1287.3 L682.1 1288.1 L682.8 1288.9 L683.6 1289.8 L684.3 1290.4 L685.1 1290.9 L685.8 1291 L686.6 1291.2 L687.3 1291.3 L688.1 1291.3 L688.8 1291.1 L689.6 1290.8 L690.3 1290.5 L691.1 1290.2 L691.8 1290.1 L692.6 1290 L693.3 1290 L694.1 1289.9 L694.8 1289.8 L695.6 1289.7 L696.3 1289.4 L697.1 1289.1 L697.8 1288.8 L698.6 1288.6 L699.3 1288.5 L700.1 1288.5 L700.8 1288.6 L701.6 1288.5 L702.3 1288.4 L703.1 1288.2 L703.8 1288 L704.6 1287.7 L705.3 1287.5 L706.1 1287.2 L706.8 1286.8 L707.6 1286.4 L708.3 1286 L709.1 1285.8 L709.8 1285.6 L710.6 1285.4 L711.3 1285.2 L712.1 1285 L712.8 1284.6 L713.6 1284.3 L714.3 1283.9 L715.1 1283.7 L715.8 1283.5 L716.6 1283.4 L717.3 1283.3 L718.1 1283.2 L718.8 1283.1 L719.6 1283 L720.3 1282.9 L721.1 1282.8 L721.8 1282.7 L722.6 1282.6 L723.3 1282.9 L724.1 1283.2 L724.8 1283.7 L725.6 1284.3 L726.3 1285 L727.1 1285.8 L727.8 1286.3 L728.6 1286.6 L729.3 1286.9 L730.1 1287.2 L730.8 1287.4 L731.6 1287.6 L732.3 1287.7 L733.1 1287.9 L733.8 1288 L734.6 1288.2 L735.3 1288.4 L736.1 1288.6 L736.8 1288.7 L737.6 1288.7 L738.3 1288.8 L739.1 1288.8 L739.8 1288.9 L740.6 1289 L741.3 1289.1 L742.1 1289.1 L742.8 1289.2 L743.6 1289.3 L744.3 1289.4 L745.1 1289.4 L745.8 1289.4 L746.6 1289.4 L747.3 1289.4 L748.1 1289.5 L748.8 1289.6 L749.6 1289.7 L750.3 1289.8 L751.1 1289.9 L751.8 1289.9 L752.6 1289.9 L753.3 1289.8 L754.1 1289.8 L754.8 1289.8 L755.6 1289.9 L756.3 1290 L757.1 1290.1 L757.8 1290 L758.6 1289.9 L759.3 1289.6 L760.1 1289.3 L760.8 1289 L761.6 1288.8 L762.3 1288.8 L763.1 1288.9 L763.8 1289.1 L764.6 1289.2 L765.3 1289.1 L766.1 1288.7 L766.8 1288.2 L767.6 1287.6 L768.3 1287.3 L769.1 1287.3 L769.8 1287.5 L770.6 1287.7 L771.3 1287.9 L772.1 1287.9 L772.8 1287.8 L773.6 1287.6 L774.3 1287.4 L775.1 1287.3 L775.8 1287.2 L776.6 1287.2 L777.3 1287.2 L778.1 1287.3 L778.8 1287.4 L779.6 1287.6 L780.3 1287.7 L781.1 1287.8 L781.8 1288 L782.6 1288.2 L783.3 1288.4 L784.1 1288.7 L784.8 1288.9 L785.6 1289 L786.3 1289.2 L787.1 1289.3 L787.8 1289.6 L788.6 1289.8 L789.3 1289.8 L790.1 1289.8 L790.8 1289.7 L791.6 1289.6 L792.3 1289.4 L793.1 1289.3 L793.8 1289.1 L794.6 1288.9 L795.3 1288.6 L796.1 1288.4 L796.8 1288.3 L797.6 1288.3 L798.3 1288 L799.1 1287.2 L799.8 1286.2 L800.6 1285.2 L801.3 1284.3 L802.1 1283.2 L802.8 1282.2 L803.6 1281.7 L804.3 1281.9 L805.1 1282.8 L805.8 1284.2 L806.6 1285.6 L807.3 1286.7 L808.1 1287.5 L808.8 1288.3 L809.6 1288.8 L810.3 1289 L811.1 1289.1 L811.8 1289.3 L812.6 1289.4 L813.3 1289.5 L814.1 1289.6 L814.8 1289.6 L815.6 1289.4 L816.3 1289.2 L817.1 1289.1 L817.8 1289.1 L818.6 1289.4 L819.3 1289.7 L820.1 1290.1 L820.8 1290.2 L821.6 1290.2 L822.3 1290.1 L823.1 1290 L823.8 1289.9 L824.6 1289.8 L825.3 1290 L826.1 1290.2 L826.8 1290.4 L827.6 1290.5 L828.3 1290.5 L829.1 1290.2 L829.8 1289.7 L830.6 1289.2 L831.3 1289 L832.1 1289 L832.8 1289.2 L833.6 1289.5 L834.3 1289.7 L835.1 1289.8 L835.8 1289.6 L836.6 1289.4 L837.3 1289.2 L838.1 1289.1 L838.8 1289.1 L839.6 1289.2 L840.3 1289.5 L841.1 1289.7 L841.8 1289.8 L842.6 1289.8 L843.3 1289.7 L844.1 1289.5 L844.8 1289.4 L845.6 1289.4 L846.3 1289.6 L847.1 1289.8 L847.8 1290.1 L848.6 1290.4 L849.3 1290.4 L850.1 1290.5 L850.8 1290.6 L851.6 1290.6 L852.3 1290.7 L853.1 1290.7 L853.8 1290.6 L854.6 1290.6 L855.3 1290.4 L856.1 1290.2 L856.8 1289.9 L857.6 1289.6 L858.3 1289.2 L859.1 1288.8 L859.8 1288.5 L860.6 1288.3 L861.3 1288.2 L862.1 1288.2 L862.8 1288.2 L863.6 1288.3 L864.3 1288.5 L865.1 1288.6 L865.8 1288.7 L866.6 1288.9 L867.3 1288.9 L868.1 1288.9 L868.8 1289 L869.6 1289 L870.3 1289 L871.1 1289.1 L871.8 1289.2 L872.6 1289.2 L873.3 1289.1 L874.1 1288.8 L874.8 1288.6 L875.6 1288.3 L876.3 1288.1 L877.1 1287.9 L877.8 1287.9 L878.6 1287.9 L879.3 1288.1 L880.1 1288.4 L880.8 1288.6 L881.6 1288.7 L882.3 1288.8 L883.1 1288.8 L883.8 1289 L884.6 1289.3 L885.3 1289.7 L886.1 1290 L886.8 1290.3 L887.6 1290.4 L888.3 1290.4 L889.1 1290.3 L889.8 1290.3 L890.6 1290.2 L891.3 1290.2 L892.1 1290.4 L892.8 1290.5 L893.6 1290.7 L894.3 1290.8 L895.1 1290.7 L895.8 1290.3 L896.6 1289.9 L897.3 1289.6 L898.1 1289.5 L898.8 1289.5 L899.6 1289.5 L900.3 1289.5 L901.1 1289.5 L901.8 1289.6 L902.6 1289.6 L903.3 1289.8 L904.1 1289.9 L904.8 1289.9 L905.6 1290 L906.3 1290 L907.1 1290 L907.8 1290.1 L908.6 1290.1 L909.3 1290.1 L910.1 1290.2 L910.8 1290.2 L911.6 1290.2 L912.3 1290.2 L913.1 1290.2 L913.8 1290.2 L914.6 1290.1 L915.3 1290 L916.1 1289.9 L916.8 1289.8 L917.6 1289.7 L918.3 1289.6 L919.1 1289.5 L919.8 1289.4 L920.6 1289.2 L921.3 1289 L922.1 1288.9 L922.8 1288.8 L923.6 1288.8 L924.3 1288.8 L925.1 1288.8 L925.8 1288.9 L926.6 1288.9 L927.3 1289 L928.1 1289 L928.8 1289.1 L929.6 1289.2 L930.3 1289.4 L931.1 1289.6 L931.8 1289.8 L932.6 1290 L933.3 1290.1 L934.1 1290.1 L934.8 1290.2 L935.6 1290.2 L936.3 1290.1 L937.1 1290 L937.8 1289.7 L938.6 1289.4 L939.3 1289 L940.1 1288.8 L940.8 1288.8 L941.6 1288.8 L942.3 1288.9 L943.1 1288.9 L943.8 1288.8 L944.6 1288.7 L945.3 1288.5 L946.1 1288.4 L946.8 1288.3 L947.6 1288.2 L948.3 1288 L949.1 1287.8 L949.8 1287.7 L950.6 1287.7 L951.3 1287.9 L952.1 1288.2 L952.8 1288.5 L953.6 1288.8 L954.3 1289.2 L955.1 1289.5 L955.8 1289.9 L956.6 1290.2 L957.3 1290.3 L958.1 1290.2 L958.8 1290.1 L959.6 1289.9 L960.3 1289.7 L961.1 1289.6 L961.8 1289.7 L962.6 1289.8 L963.3 1289.9 L964.1 1290 L964.8 1290 L965.6 1289.9 L966.3 1289.8 L967.1 1289.6 L967.8 1289.6 L968.6 1289.5 L969.3 1289.4 L970.1 1289.3 L970.8 1289.2 L971.6 1289.2 L972.3 1289.3 L973.1 1289.3 L973.8 1289.4 L974.6 1289.5 L975.3 1289.6 L976.1 1289.6 L976.8 1289.7 L977.6 1289.7 L978.3 1289.7 L979.1 1289.8 L979.8 1289.8 L980.6 1289.9 L981.3 1289.9 L982.1 1289.9 L982.8 1289.9 L983.6 1289.9 L984.3 1289.8 L985.1 1289.7 L985.8 1289.4 L986.6 1288.8 L987.3 1288.1 L988.1 1287.5 L988.8 1287.1 L989.6 1286.9 L990.3 1286.9 L991.1 1287 L991.8 1287.1 L992.6 1287.2 L993.3 1287.3 L994.1 1287.6 L994.8 1288.1 L995.6 1288.6 L996.3 1289.1 L997.1 1289.3 L997.8 1289.4 L998.6 1289.3 L999.3 1289.4 L1000.1 1289.5 L1000.8 1289.6 L1001.6 1289.7 L1002.3 1289.9 L1003.1 1290 L1003.8 1290.1 L1004.6 1290.3 L1005.3 1290.4 L1006.1 1290.5 L1006.8 1290.5 L1007.6 1290.4 L1008.3 1290.2 L1009.1 1290.1 L1009.8 1290 L1010.6 1290 L1011.3 1289.9 L1012.1 1289.8 L1012.8 1289.7 L1013.6 1289.6 L1014.3 1289.4 L1015.1 1289.2 L1015.8 1289 L1016.6 1288.6 L1017.3 1287.8 L1018.1 1286.8 L1018.8 1285.7 L1019.6 1284.9 L1020.3 1284.4 L1021.1 1284.5 L1021.8 1284.7 L1022.6 1284.8 L1023 1284.9" stroke="#1a6fdf"/>
<path d="M102.3 1235.8 L103.1 1235.7 L103.8 1235.8 L104.6 1235.9 L105.3 1236.1 L106.1 1236.2 L106.8 1236.3 L107.6 1236.3 L108.3 1236.4 L109.1 1236.4 L109.8 1236.4 L110.6 1236.4 L111.3 1236.4 L112.1 1236.4 L112.8 1236.3 L113.6 1236.3 L114.3 1236.4 L115.1 1236.5 L115.8 1236.6 L116.6 1236.8 L117.3 1236.9 L118.1 1236.9 L118.8 1236.8 L119.6 1236.7 L120.3 1236.6 L121.1 1236.6 L121.8 1236.6 L122.6 1236.7 L123.3 1236.8 L124.1 1236.9 L124.8 1237 L125.6 1237 L126.3 1237.1 L127.1 1237.2 L127.8 1237.2 L128.6 1237.3 L129.3 1237.4 L130.1 1237.5 L130.8 1237.6 L131.6 1237.6 L132.3 1237.5 L133.1 1237.2 L133.8 1236.9 L134.6 1236.7 L135.3 1236.7 L136.1 1236.8 L136.8 1237 L137.6 1237.2 L138.3 1237.3 L139.1 1237.3 L139.8 1237.3 L140.6 1237.2 L141.3 1237.2 L142.1 1237.3 L142.8 1237.4 L143.6 1237.6 L144.3 1237.8 L145.1 1238 L145.8 1238.1 L146.6 1238.1 L147.3 1238.1 L148.1 1238.2 L148.8 1238.2 L149.6 1238.2 L150.3 1238.3 L151.1 1238.4 L151.8 1238.4 L152.6 1238.5 L153.3 1238.4 L154.1 1238.3 L154.8 1238.1 L155.6 1238.1 L156.3 1238.1 L157.1 1238.2 L157.8 1238.4 L158.6 1238.6 L159.3 1238.8 L160.1 1238.7 L160.8 1238.5 L161.6 1238.2 L162.3 1238 L163.1 1237.9 L163.8 1237.9 L164.6 1237.9 L165.3 1237.9 L166.1 1237.9 L166.8 1238 L167.6 1238.2 L168.3 1238.6 L169.1 1238.9 L169.8 1239.1 L170.6 1239 L171.3 1238.8 L172.1 1238.5 L172.8 1238.3 L173.6 1238.3 L174.3 1238.3 L175.1 1238.3 L175.8 1238.3 L176.6 1238.3 L177.3 1238.3 L178.1 1238.3 L178.8 1238.2 L179.6 1238.2 L180.3 1238.1 L181.1 1238 L181.8 1238 L182.6 1238 L183.3 1238 L184.1 1237.9 L184.8 1237.6 L185.6 1237.3 L186.3 1236.9 L187.1 1236.4 L187.8 1235.9 L188.6 1235 L189.3 1233.8 L190.1 1232.7 L190.8 1231.7 L191.6 1230.8 L192.3 1229.9 L193.1 1229.3 L193.8 1229.2 L194.6 1229.9 L195.3 1231.4 L196.1 1233.2 L196.8 1234.8 L197.6 1236.4 L198.3 1237.7 L199.1 1238.1 L199.8 1238.1 L200.6 1238 L201.3 1238 L202.1 1237.9 L202.8 1237.9 L203.6 1237.9 L204.3 1237.8 L205.1 1237.8 L205.8 1237.7 L206.6 1237.6 L207.3 1237.6 L208.1 1237.5 L208.8 1237.5 L209.6 1237.5 L210.3 1237.5 L211.1 1237.5 L211.8 1237.5 L212.6 1237.6 L213.3 1237.6 L214.1 1237.6 L214.8 1237.7 L215.6 1237.7 L216.3 1237.6 L217.1 1237.5 L217.8 1237.3 L218.6 1237.2 L219.3 1237.2 L220.1 1237.2 L220.8 1237 L221.6 1236.7 L222.3 1236.4 L223.1 1236 L223.8 1235.6 L224.6 1235.3 L225.3 1234.6 L226.1 1233.7 L226.8 1232.8 L227.6 1232.4 L228.3 1232.8 L229.1 1233.8 L229.8 1234.9 L230.6 1235.8 L231.3 1236.7 L232.1 1237.4 L232.8 1237.4 L233.6 1237.5 L234.3 1237.6 L235.1 1237.8 L235.8 1237.9 L236.6 1238 L237.3 1237.9 L238.1 1237.7 L238.8 1237.5 L239.6 1237.4 L240.3 1237.3 L241.1 1237.2 L241.8 1237.1 L242.6 1237.1 L243.3 1237 L244.1 1237 L244.8 1237 L245.6 1236.9 L246.3 1236.9 L247.1 1236.9 L247.8 1237.1 L248.6 1237.3 L249.3 1237.5 L250.1 1237.6 L250.8 1237.6 L251.6 1237.4 L252.3 1237.2 L253.1 1237 L253.8 1236.8 L254.6 1236.8 L255.3 1236.9 L256.1 1236.9 L256.8 1237 L257.6 1237 L258.3 1236.8 L259.1 1236.6 L259.8 1236.4 L260.6 1236.3 L261.3 1236.2 L262.1 1236.2 L262.8 1236.3 L263.6 1236.3 L264.3 1236.3 L265.1 1236.2 L265.8 1235.9 L266.6 1235.6 L267.3 1235.4 L268.1 1235.2 L268.8 1235.2 L269.6 1235.4 L270.3 1235.5 L271.1 1235.6 L271.8 1235.5 L272.6 1235.3 L273.3 1235.2 L274.1 1235 L274.8 1234.8 L275.6 1234.6 L276.3 1234.2 L277.1 1233.8 L277.8 1233.4 L278.6 1233 L279.3 1232.6 L280.1 1232.2 L280.8 1231.8 L281.6 1231.4 L282.3 1230.8 L283.1 1230 L283.8 1228.9 L284.6 1227.9 L285.3 1227 L286.1 1226.3 L286.8 1225.9 L287.6 1225.5 L288.3 1225.2 L289.1 1224.9 L289.8 1224.6 L290.6 1224.5 L291.3 1224.4 L292.1 1224.5 L292.8 1224.6 L293.6 1224.9 L294.3 1225.2 L295.1 1225.5 L295.8 1225.8 L296.6 1225.9 L297.3 1225.9 L298.1 1225.8 L298.8 1225.7 L299.6 1225.6 L300.3 1225.6 L301.1 1225.5 L301.8 1225.4 L302.6 1225.4 L303.3 1225.4 L304.1 1225.6 L304.8 1225.9 L305.6 1226.3 L306.3 1226.7 L307.1 1227.1 L307.8 1227.4 L308.6 1227.7 L309.3 1227.8 L310.1 1227.8 L310.8 1227.5 L311.6 1226.9 L312.3 1226.1 L313.1 1225.1 L313.8 1224.2 L314.6 1223.5 L315.3 1222.9 L316.1 1222.8 L316.8 1223 L317.6 1223.7 L318.3 1224.7 L319.1 1225.9 L319.8 1227 L320.6 1227.9 L321.3 1228.5 L322.1 1228.9 L322.8 1229.4 L323.6 1229.8 L324.3 1230.2 L325.1 1230.6 L325.8 1231 L326.6 1231.4 L327.3 1231.6 L328.1 1231.6 L328.8 1231.5 L329.6 1231.2 L330.3 1231 L331.1 1230.8 L331.8 1230.8 L332.6 1230.7 L333.3 1230.6 L334.1 1230.6 L334.8 1230.5 L335.6 1230.4 L336.3 1230.4 L337.1 1230.3 L337.8 1230.1 L338.6 1229.8 L339.3 1229.6 L340.1 1229.3 L340.8 1229.1 L341.6 1228.8 L342.3 1228.5 L343.1 1228.3 L343.8 1228 L344.6 1227.7 L345.3 1227.3 L346.1 1226.7 L346.8 1224.7 L347.6 1221 L348.3 1216.6 L349.1 1212.4 L349.8 1207.3 L350.6 1201.8 L351.3 1197.1 L352.1 1193.3 L352.8 1189.7 L353.6 1187.1 L354.3 1186.5 L355.1 1189.8 L355.8 1195.9 L356.6 1203.1 L357.3 1211.8 L358.1 1223.7 L358.8 1232 L359.6 1232.8 L360.3 1232.9 L361.1 1233 L361.8 1233 L362.6 1233 L363.3 1232.9 L364.1 1232.6 L364.8 1232.4 L365.6 1232 L366.3 1231.3 L367.1 1230.5 L367.8 1229.7 L368.6 1229.1 L369.3 1228.9 L370.1 1229.4 L370.8 1230.4 L371.6 1231.8 L372.3 1233 L373.1 1234 L373.8 1234.3 L374.6 1234.2 L375.3 1234.2 L376.1 1234.2 L376.8 1234.1 L377.6 1234.1 L378.3 1234.2 L379.1 1234.2 L379.8 1234.3 L380.6 1234.5 L381.3 1234.7 L382.1 1235 L382.8 1235.3 L383.6 1235.6 L384.3 1235.7 L385.1 1235.8 L385.8 1235.7 L386.6 1235.5 L387.3 1235.3 L388.1 1235.1 L388.8 1234.8 L389.6 1234.5 L390.3 1234.2 L391.1 1234 L391.8 1233.7 L392.6 1233.6 L393.3 1233.4 L394.1 1233.4 L394.8 1233.3 L395.6 1233.1 L396.3 1232.9 L397.1 1232.9 L397.8 1233.2 L398.6 1233.6 L399.3 1234.1 L400.1 1234.5 L400.8 1234.7 L401.6 1234.7 L402.3 1234.7 L403.1 1234.7 L403.8 1234.7 L404.6 1234.7 L405.3 1234.8 L406.1 1234.9 L406.8 1235 L407.6 1235.1 L408.3 1235 L409.1 1235 L409.8 1234.9 L410.6 1234.8 L411.3 1234.3 L412.1 1233.7 L412.8 1232.9 L413.6 1232.2 L414.3 1231.5 L415.1 1230.6 L415.8 1229.6 L416.6 1228.9 L417.3 1228.8 L418.1 1229.5 L418.8 1230.6 L419.6 1231.9 L420.3 1232.9 L421.1 1233.3 L421.8 1232.9 L422.6 1232 L423.3 1230.8 L424.1 1229.6 L424.8 1228.3 L425.6 1226.8 L426.3 1225.7 L427.1 1225.3 L427.8 1226.1 L428.6 1227.9 L429.3 1229.9 L430.1 1231.4 L430.8 1232.9 L431.6 1234.1 L432.3 1234.7 L433.1 1235.1 L433.8 1235.5 L434.6 1235.9 L435.3 1236.2 L436.1 1236.5 L436.8 1236.8 L437.6 1237 L438.3 1237.2 L439.1 1237.4 L439.8 1237.4 L440.6 1237.4 L441.3 1237.3 L442.1 1237.2 L442.8 1237.1 L443.6 1237.2 L444.3 1237.4 L445.1 1237.6 L445.8 1237.8 L446.6 1237.8 L447.3 1237.5 L448.1 1236.7 L448.8 1235.7 L449.6 1234.8 L450.3 1234 L451.1 1233.3 L451.8 1232.8 L452.6 1232.4 L453.3 1232.2 L454.1 1232.3 L454.8 1232.8 L455.6 1233.7 L456.3 1234.6 L457.1 1235.5 L457.8 1235.9 L458.6 1235.6 L459.3 1235 L460.1 1234.3 L460.8 1233.6 L461.6 1233 L462.3 1232.6 L463.1 1232.7 L463.8 1233.1 L464.6 1233.9 L465.3 1234.8 L466.1 1235.7 L466.8 1236.2 L467.6 1236.1 L468.3 1235.6 L469.1 1234.9 L469.8 1234.2 L470.6 1233.6 L471.3 1233.5 L472.1 1233.5 L472.8 1233.6 L473.6 1233.8 L474.3 1233.9 L475.1 1234.1 L475.8 1234.3 L476.6 1234.5 L477.3 1234.5 L478.1 1234.4 L478.8 1234.1 L479.6 1233.8 L480.3 1233.4 L481.1 1233 L481.8 1232.5 L482.6 1232.2 L483.3 1231.9 L484.1 1231.7 L484.8 1231.7 L485.6 1232 L486.3 1232.5 L487.1 1233.1 L487.8 1233.8 L488.6 1234.5 L489.3 1235.1 L490.1 1235.6 L490.8 1236 L491.6 1236.1 L492.3 1236.1 L493.1 1236 L493.8 1236 L494.6 1236 L495.3 1236 L496.1 1236.2 L496.8 1236.5 L497.6 1236.9 L498.3 1237.2 L499.1 1237.3 L499.8 1237.2 L500.6 1236.9 L501.3 1236.5 L502.1 1236.2 L502.8 1236 L503.6 1236 L504.3 1235.9 L505.1 1235.9 L505.8 1235.7 L506.6 1235.5 L507.3 1235.3 L508.1 1235 L508.8 1234.7 L509.6 1234.3 L510.3 1233.5 L511.1 1232.4 L511.8 1231.2 L512.6 1229.9 L513.3 1228.7 L514.1 1227.1 L514.8 1225.6 L515.6 1224.6 L516.3 1224.8 L517.1 1226.2 L517.8 1228.1 L518.6 1229.8 L519.3 1230.8 L520.1 1231.7 L520.8 1232.3 L521.6 1232.8 L522.3 1233.2 L523.1 1233.5 L523.8 1233.9 L524.6 1234.3 L525.3 1234.8 L526.1 1235.3 L526.8 1235.8 L527.6 1236.2 L528.3 1236.6 L529.1 1236.9 L529.8 1237.2 L530.6 1237.5 L531.3 1237.7 L532.1 1237.8 L532.8 1237.9 L533.6 1237.8 L534.3 1237.7 L535.1 1237.4 L535.8 1237.2 L536.6 1236.8 L537.3 1236.5 L538.1 1236.1 L538.8 1235.5 L539.6 1234.6 L540.3 1233.5 L541.1 1232.4 L541.8 1231.3 L542.6 1230.1 L543.3 1229.3 L544.1 1229.4 L544.8 1230.3 L545.6 1231.6 L546.3 1232.6 L547.1 1233.3 L547.8 1233.9 L548.6 1234.5 L549.3 1235 L550.1 1235.4 L550.8 1235.8 L551.6 1236.2 L552.3 1236.6 L553.1 1237 L553.8 1237.3 L554.6 1237.6 L555.3 1237.9 L556.1 1238.2 L556.8 1238.4 L557.6 1238.6 L558.3 1238.6 L559.1 1238.6 L559.8 1238.5 L560.6 1238.4 L561.3 1238.3 L562.1 1238.3 L562.8 1238.3 L563.6 1238.3 L564.3 1238.3 L565.1 1238.3 L565.8 1238.2 L566.6 1238.1 L567.3 1238.1 L568.1 1237.9 L568.8 1237.8 L569.6 1237.6 L570.3 1237.1 L571.1 1236.5 L571.8 1235.9 L572.6 1235.5 L573.3 1235.2 L574.1 1235.1 L574.8 1235.3 L575.6 1235.7 L576.3 1236.2 L577.1 1236.8 L577.8 1237.4 L578.6 1237.8 L579.3 1238 L580.1 1238 L580.8 1237.7 L581.6 1237.4 L582.3 1237.1 L583.1 1236.7 L583.8 1236.3 L584.6 1235.8 L585.3 1235.5 L586.1 1235.5 L586.8 1235.6 L587.6 1236 L588.3 1236.5 L589.1 1237 L589.8 1237.4 L590.6 1237.8 L591.3 1238.1 L592.1 1238.3 L592.8 1238.2 L593.6 1238 L594.3 1237.4 L595.1 1236.6 L595.8 1235.7 L596.6 1234.9 L597.3 1234.3 L598.1 1233.9 L598.8 1233.7 L599.6 1233.6 L600.3 1233.6 L601.1 1233.7 L601.8 1233.8 L602.6 1234.1 L603.3 1234.5 L604.1 1235.2 L604.8 1235.8 L605.6 1236.5 L606.3 1237 L607.1 1237.4 L607.8 1237.7 L608.6 1237.7 L609.3 1237.7 L610.1 1237.5 L610.8 1237.2 L611.6 1236.8 L612.3 1236.2 L613.1 1235.6 L613.8 1235 L614.6 1234.6 L615.3 1234.3 L616.1 1234.1 L616.8 1234.1 L617.6 1234.2 L618.3 1234.5 L619.1 1235 L619.8 1235.7 L620.6 1236.3 L621.3 1236.9 L622.1 1237.3 L622.8 1237.6 L623.6 1237.8 L624.3 1237.9 L625.1 1237.8 L625.8 1237.7 L626.6 1237.5 L627.3 1237.3 L628.1 1237.1 L628.8 1236.9 L629.6 1236.7 L630.3 1236.5 L631.1 1236.4 L631.8 1236.2 L632.6 1235.8 L633.3 1235.3 L634.1 1234.6 L634.8 1233.9 L635.6 1233.2 L636.3 1232.7 L637.1 1232.2 L637.8 1231.8 L638.6 1231.6 L639.3 1231.5 L640.1 1231.7 L640.8 1232.3 L641.6 1233.1 L642.3 1234 L643.1 1235 L643.8 1236 L644.6 1236.9 L645.3 1237.5 L646.1 1237.7 L646.8 1237.6 L647.6 1237.4 L648.3 1237.2 L649.1 1237 L649.8 1236.9 L650.6 1236.8 L651.3 1236.7 L652.1 1236.6 L652.8 1236.5 L653.6 1236.3 L654.3 1236 L655.1 1235.5 L655.8 1235 L656.6 1234.4 L657.3 1233.9 L658.1 1233.4 L658.8 1233.2 L659.6 1233.5 L660.3 1234.4 L661.1 1235.6 L661.8 1236.9 L662.6 1237.9 L663.3 1238.4 L664.1 1238.5 L664.8 1238.6 L665.6 1238.7 L666.3 1238.7 L667.1 1238.7 L667.8 1238.5 L668.6 1238.3 L669.3 1238 L670.1 1237.8 L670.8 1237.7 L671.6 1237.7 L672.3 1237.7 L673.1 1237.8 L673.8 1237.7 L674.6 1237.6 L675.3 1237.3 L676.1 1237 L676.8 1236.7 L677.6 1236.4 L678.3 1236.1 L679.1 1235.8 L679.8 1235.4 L680.6 1234.7 L681.3 1233.9 L682.1 1233.1 L682.8 1232.6 L683.6 1232.7 L684.3 1233.4 L685.1 1234.4 L685.8 1235.5 L686.6 1236.4 L687.3 1237.5 L688.1 1238.3 L688.8 1238.4 L689.6 1238.5 L690.3 1238.6 L691.1 1238.6 L691.8 1238.4 L692.6 1238.2 L693.3 1237.8 L694.1 1237.5 L694.8 1236.8 L695.6 1235.9 L696.3 1234.9 L697.1 1234.3 L697.8 1234.4 L698.6 1235.3 L699.3 1236.4 L700.1 1236.7 L700.8 1236.6 L701.6 1236.5 L702.3 1236.4 L703.1 1236.5 L703.8 1236.7 L704.6 1236.9 L705.3 1236.9 L706.1 1236.7 L706.8 1236.5 L707.6 1236.1 L708.3 1235.8 L709.1 1235.5 L709.8 1235.3 L710.6 1235 L711.3 1234.8 L712.1 1234.5 L712.8 1234.3 L713.6 1234.1 L714.3 1233.9 L715.1 1233.7 L715.8 1233.5 L716.6 1233.3 L717.3 1232.9 L718.1 1232.6 L718.8 1232.3 L719.6 1232.1 L720.3 1232 L721.1 1231.9 L721.8 1231.8 L722.6 1231.7 L723.3 1231.7 L724.1 1231.7 L724.8 1231.7 L725.6 1231.8 L726.3 1231.9 L727.1 1232.1 L727.8 1232.8 L728.6 1233.6 L729.3 1234.5 L730.1 1235.3 L730.8 1235.8 L731.6 1236 L732.3 1236.1 L733.1 1236.3 L733.8 1236.3 L734.6 1236.3 L735.3 1236.3 L736.1 1236.2 L736.8 1236.2 L737.6 1236.3 L738.3 1236.6 L739.1 1236.8 L739.8 1237.1 L740.6 1237.2 L741.3 1237.2 L742.1 1237.1 L742.8 1237.1 L743.6 1237 L744.3 1237 L745.1 1236.9 L745.8 1236.7 L746.6 1236.6 L747.3 1236.6 L748.1 1236.6 L748.8 1236.7 L749.6 1236.8 L750.3 1236.9 L751.1 1236.9 L751.8 1237 L752.6 1237 L753.3 1237 L754.1 1237 L754.8 1237 L755.6 1237.1 L756.3 1237.2 L757.1 1237.2 L757.8 1237.2 L758.6 1237.3 L759.3 1237.3 L760.1 1237.4 L760.8 1237.5 L761.6 1237.5 L762.3 1237.5 L763.1 1237.5 L763.8 1237.5 L764.6 1237.4 L765.3 1237.2 L766.1 1237.1 L766.8 1236.9 L767.6 1236.8 L768.3 1236.6 L769.1 1236.3 L769.8 1236.1 L770.6 1235.8 L771.3 1235.6 L772.1 1235.4 L772.8 1235.3 L773.6 1235.1 L774.3 1235 L775.1 1234.9 L775.8 1234.9 L776.6 1235 L777.3 1235.2 L778.1 1235.4 L778.8 1235.4 L779.6 1235.4 L780.3 1235.3 L781.1 1235.2 L781.8 1235.1 L782.6 1235.1 L783.3 1235.2 L784.1 1235.3 L784.8 1235.5 L785.6 1235.7 L786.3 1235.9 L787.1 1236.4 L787.8 1236.9 L788.6 1237.5 L789.3 1237.8 L790.1 1237.9 L790.8 1237.8 L791.6 1237.5 L792.3 1237.3 L793.1 1237.2 L793.8 1237.2 L794.6 1237.3 L795.3 1237.3 L796.1 1237.3 L796.8 1237.2 L797.6 1237 L798.3 1236.6 L799.1 1236.3 L799.8 1236 L800.6 1235.9 L801.3 1235.8 L802.1 1235.6 L802.8 1235.4 L803.6 1234.9 L804.3 1234.3 L805.1 1233.5 L805.8 1232.9 L806.6 1232.3 L807.3 1232 L808.1 1232.1 L808.8 1232.6 L809.6 1233.2 L810.3 1234.1 L811.1 1234.9 L811.8 1235.6 L812.6 1236.1 L813.3 1236.2 L814.1 1236.3 L814.8 1236.4 L815.6 1236.5 L816.3 1236.6 L817.1 1236.7 L817.8 1236.8 L818.6 1236.9 L819.3 1237 L820.1 1237.1 L820.8 1237.3 L821.6 1237.4 L822.3 1237.6 L823.1 1237.8 L823.8 1237.9 L824.6 1238 L825.3 1237.8 L826.1 1237.4 L826.8 1237 L827.6 1236.7 L828.3 1236.7 L829.1 1236.9 L829.8 1237.1 L830.6 1237.2 L831.3 1237.3 L832.1 1237.3 L832.8 1237.3 L833.6 1237.2 L834.3 1237.2 L835.1 1237.1 L835.8 1237 L836.6 1236.9 L837.3 1236.7 L838.1 1236.6 L838.8 1236.6 L839.6 1236.7 L840.3 1237 L841.1 1237.3 L841.8 1237.4 L842.6 1237.3 L843.3 1237.1 L844.1 1236.9 L844.8 1236.8 L845.6 1236.7 L846.3 1236.8 L847.1 1236.9 L847.8 1237 L848.6 1237.2 L849.3 1237.2 L850.1 1237.2 L850.8 1237.2 L851.6 1237.2 L852.3 1237.2 L853.1 1237.2 L853.8 1237.2 L854.6 1237.3 L855.3 1237.3 L856.1 1237.3 L856.8 1237.4 L857.6 1237.4 L858.3 1237.4 L859.1 1237.4 L859.8 1237.4 L860.6 1237.4 L861.3 1237.3 L862.1 1237 L862.8 1236.7 L863.6 1236.3 L864.3 1236 L865.1 1235.7 L865.8 1235.5 L866.6 1235.4 L867.3 1235.4 L868.1 1235.7 L868.8 1236 L869.6 1236.3 L870.3 1236.4 L871.1 1233.8 L871.8 1228.2 L872.6 1223.2 L873.3 1219.3 L874.1 1220.5 L874.8 1225.2 L875.6 1229.3 L876.3 1232.7 L877.1 1235.5 L877.8 1237 L878.6 1237 L879.3 1236.8 L880.1 1236.7 L880.8 1236.7 L881.6 1236.8 L882.3 1236.9 L883.1 1237 L883.8 1237.1 L884.6 1237.2 L885.3 1237.3 L886.1 1237.4 L886.8 1237.4 L887.6 1237.5 L888.3 1237.6 L889.1 1237.7 L889.8 1237.9 L890.6 1238 L891.3 1238 L892.1 1238 L892.8 1237.9 L893.6 1237.8 L894.3 1237.8 L895.1 1237.7 L895.8 1237.7 L896.6 1237.7 L897.3 1237.7 L898.1 1237.7 L898.8 1237.7 L899.6 1237.8 L900.3 1237.8 L901.1 1237.9 L901.8 1237.9 L902.6 1238 L903.3 1238 L904.1 1238.1 L904.8 1238.1 L905.6 1238.2 L906.3 1238.3 L907.1 1238.3 L907.8 1238.4 L908.6 1238.5 L909.3 1238.5 L910.1 1238.6 L910.8 1238.6 L911.6 1238.6 L912.3 1238.4 L913.1 1238.2 L913.8 1237.9 L914.6 1237.5 L915.3 1237.1 L916.1 1236.8 L916.8 1236.4 L917.6 1236 L918.3 1235.8 L919.1 1235.7 L919.8 1235.6 L920.6 1235.6 L921.3 1235.7 L922.1 1235.8 L922.8 1236 L923.6 1236.3 L924.3 1236.9 L925.1 1237.3 L925.8 1237.7 L926.6 1237.7 L927.3 1237.7 L928.1 1237.6 L928.8 1237.6 L929.6 1237.5 L930.3 1237.6 L931.1 1237.6 L931.8 1237.7 L932.6 1237.7 L933.3 1237.8 L934.1 1237.9 L934.8 1238 L935.6 1238.1 L936.3 1238.1 L937.1 1237.9 L937.8 1237.5 L938.6 1237 L939.3 1236.6 L940.1 1236.4 L940.8 1236.5 L941.6 1236.6 L942.3 1236.7 L943.1 1236.7 L943.8 1236.6 L944.6 1236.5 L945.3 1236.2 L946.1 1236 L946.8 1235.8 L947.6 1235.7 L948.3 1235.6 L949.1 1235.5 L949.8 1235.4 L950.6 1235.3 L951.3 1235.2 L952.1 1235.1 L952.8 1235 L953.6 1234.9 L954.3 1235 L955.1 1235.2 L955.8 1235.4 L956.6 1235.7 L957.3 1236.1 L958.1 1236.3 L958.8 1236.4 L959.6 1236.5 L960.3 1236.6 L961.1 1236.7 L961.8 1236.9 L962.6 1237 L963.3 1237.1 L964.1 1237.1 L964.8 1237.1 L965.6 1237.1 L966.3 1237.3 L967.1 1237.4 L967.8 1237.4 L968.6 1237.3 L969.3 1237 L970.1 1236.8 L970.8 1236.5 L971.6 1236.4 L972.3 1236.3 L973.1 1236.2 L973.8 1236.1 L974.6 1236.1 L975.3 1236 L976.1 1236.2 L976.8 1236.6 L977.6 1236.9 L978.3 1237 L979.1 1237 L979.8 1237.1 L980.6 1237.1 L981.3 1237.1 L982.1 1237.1 L982.8 1237.1 L983.6 1237.1 L984.3 1237 L985.1 1236.9 L985.8 1237 L986.6 1237 L987.3 1237 L988.1 1237.1 L988.8 1237.1 L989.6 1237.2 L990.3 1237.4 L991.1 1237.6 L991.8 1237.7 L992.6 1237.8 L993.3 1237.8 L994.1 1237.7 L994.8 1237.6 L995.6 1237.5 L996.3 1237.4 L997.1 1237.3 L997.8 1237.1 L998.6 1237 L999.3 1236.9 L1000.1 1236.8 L1000.8 1236.8 L1001.6 1236.8 L1002.3 1236.8 L1003.1 1236.7 L1003.8 1236.6 L1004.6 1236.5 L1005.3 1236.4 L1006.1 1236.3 L1006.8 1236.3 L1007.6 1236.2 L1008.3 1236.1 L1009.1 1236 L1009.8 1235.9 L1010.6 1235.8 L1011.3 1235.8 L1012.1 1235.7 L1012.8 1235.7 L1013.6 1235.8 L1014.3 1236.1 L1015.1 1236.8 L1015.8 1237.4 L1016.6 1237.8 L1017.3 1238 L1018.1 1237.8 L1018.8 1237.5 L1019.6 1237.2 L1020.3 1237 L1021.1 1236.9 L1021.8 1236.8 L1022.6 1236.7 L1023 1236.6" stroke="#37ad6b"/>
<path d="M102.3 1172.7 L103.1 1172.8 L103.8 1172.9 L104.6 1173 L105.3 1173 L106.1 1173.1 L106.8 1173.1 L107.6 1173.2 L108.3 1173.5 L109.1 1173.8 L109.8 1174 L110.6 1174.1 L111.3 1174.1 L112.1 1174 L112.8 1173.8 L113.6 1173.7 L114.3 1173.8 L115.1 1173.9 L115.8 1174 L116.6 1174.1 L117.3 1174.2 L118.1 1174.2 L118.8 1174.2 L119.6 1174.2 L120.3 1174.2 L121.1 1174.2 L121.8 1174.3 L122.6 1174.5 L123.3 1174.7 L124.1 1174.9 L124.8 1174.9 L125.6 1174.8 L126.3 1174.7 L127.1 1174.6 L127.8 1174.5 L128.6 1174.6 L129.3 1174.7 L130.1 1174.8 L130.8 1175 L131.6 1175 L132.3 1175 L133.1 1174.9 L133.8 1174.9 L134.6 1174.8 L135.3 1174.7 L136.1 1174.6 L136.8 1174.4 L137.6 1174.3 L138.3 1174.2 L139.1 1174.2 L139.8 1174.3 L140.6 1174.3 L141.3 1174.4 L142.1 1174.4 L142.8 1174.6 L143.6 1174.8 L144.3 1175 L145.1 1175.2 L145.8 1175.2 L146.6 1175.2 L147.3 1175.1 L148.1 1175 L148.8 1174.9 L149.6 1174.8 L150.3 1174.8 L151.1 1174.7 L151.8 1174.7 L152.6 1174.6 L153.3 1174.6 L154.1 1174.6 L154.8 1174.5 L155.6 1174.5 L156.3 1174.5 L157.1 1174.6 L157.8 1174.8 L158.6 1175 L159.3 1175.2 L160.1 1175.3 L160.8 1175.5 L161.6 1175.7 L162.3 1175.8 L163.1 1175.9 L163.8 1175.8 L164.6 1175.6 L165.3 1175.3 L166.1 1175.2 L166.8 1175.1 L167.6 1175.1 L168.3 1175.1 L169.1 1175.1 L169.8 1175.1 L170.6 1175.1 L171.3 1175.1 L172.1 1175.1 L172.8 1175.1 L173.6 1175.1 L174.3 1175.1 L175.1 1175.3 L175.8 1175.5 L176.6 1175.6 L177.3 1175.6 L178.1 1175.6 L178.8 1175.6 L179.6 1175.6 L180.3 1175.6 L181.1 1175.6 L181.8 1175.6 L182.6 1175.4 L183.3 1175.1 L184.1 1174.6 L184.8 1173.9 L185.6 1173 L186.3 1171.9 L187.1 1170.7 L187.8 1168.7 L188.6 1165.9 L189.3 1162.5 L190.1 1159.1 L190.8 1154.7 L191.6 1148.9 L192.3 1143.5 L193.1 1140.9 L193.8 1140.8 L194.6 1140.8 L195.3 1140.9 L196.1 1140.9 L196.8 1143.7 L197.6 1150.1 L198.3 1157.6 L199.1 1163.7 L199.8 1169.3 L200.6 1174.3 L201.3 1176.4 L202.1 1176.4 L202.8 1176.4 L203.6 1176.3 L204.3 1176.3 L205.1 1176.2 L205.8 1176.3 L206.6 1176.4 L207.3 1176.6 L208.1 1176.6 L208.8 1176.6 L209.6 1176.3 L210.3 1175.9 L211.1 1175.5 L211.8 1175.3 L212.6 1175.3 L213.3 1175.3 L214.1 1175.4 L214.8 1175.4 L215.6 1175.4 L216.3 1175.5 L217.1 1175.5 L217.8 1175.5 L218.6 1175.6 L219.3 1175.6 L220.1 1175.7 L220.8 1175.7 L221.6 1175.8 L222.3 1175.8 L223.1 1175.8 L223.8 1175.7 L224.6 1175.6 L225.3 1175.6 L226.1 1175.6 L226.8 1175.6 L227.6 1175.7 L228.3 1175.8 L229.1 1175.9 L229.8 1176 L230.6 1176 L231.3 1176.1 L232.1 1176.1 L232.8 1176.2 L233.6 1176.2 L234.3 1176.2 L235.1 1176.3 L235.8 1176.3 L236.6 1176.3 L237.3 1176.3 L238.1 1176.3 L238.8 1176.3 L239.6 1176.2 L240.3 1176.3 L241.1 1176.3 L241.8 1176.4 L242.6 1176.5 L243.3 1176.6 L244.1 1176.5 L244.8 1176.4 L245.6 1176.2 L246.3 1176.1 L247.1 1176 L247.8 1176.2 L248.6 1176.5 L249.3 1176.7 L250.1 1176.9 L250.8 1177 L251.6 1177 L252.3 1177 L253.1 1176.9 L253.8 1176.9 L254.6 1176.8 L255.3 1176.7 L256.1 1176.6 L256.8 1176.6 L257.6 1176.5 L258.3 1176.5 L259.1 1176.5 L259.8 1176.5 L260.6 1176.5 L261.3 1176.5 L262.1 1176.5 L262.8 1176.6 L263.6 1176.6 L264.3 1176.4 L265.1 1176 L265.8 1175.7 L266.6 1175.4 L267.3 1175.1 L268.1 1174.7 L268.8 1174 L269.6 1173.3 L270.3 1172.7 L271.1 1172.4 L271.8 1172.6 L272.6 1173.3 L273.3 1174.3 L274.1 1175.4 L274.8 1176.4 L275.6 1176.9 L276.3 1176.6 L277.1 1176.1 L277.8 1175.6 L278.6 1175.2 L279.3 1175 L280.1 1174.9 L280.8 1174.7 L281.6 1173.7 L282.3 1171.8 L283.1 1169.3 L283.8 1166.6 L284.6 1163.8 L285.3 1161.3 L286.1 1159.2 L286.8 1157.5 L287.6 1155.8 L288.3 1154.2 L289.1 1152.7 L289.8 1151.5 L290.6 1150.7 L291.3 1150.2 L292.1 1150.1 L292.8 1150.2 L293.6 1150.5 L294.3 1150.9 L295.1 1151.4 L295.8 1151.9 L296.6 1152.3 L297.3 1152.7 L298.1 1152.8 L298.8 1152.6 L299.6 1152.3 L300.3 1151.9 L301.1 1151.4 L301.8 1150.9 L302.6 1150.4 L303.3 1150.1 L304.1 1149.9 L304.8 1150.2 L305.6 1151.6 L306.3 1153.9 L307.1 1156.7 L307.8 1159.6 L308.6 1162.4 L309.3 1164.6 L310.1 1165.9 L310.8 1166.4 L311.6 1167 L312.3 1167.4 L313.1 1167.9 L313.8 1168.2 L314.6 1168.5 L315.3 1168.8 L316.1 1169 L316.8 1169 L317.6 1169 L318.3 1168.8 L319.1 1168.5 L319.8 1168.2 L320.6 1167.8 L321.3 1167.3 L322.1 1166.2 L322.8 1164.4 L323.6 1162.2 L324.3 1159.8 L325.1 1157.8 L325.8 1156.3 L326.6 1155.8 L327.3 1156.2 L328.1 1157.4 L328.8 1159.1 L329.6 1160.9 L330.3 1162.5 L331.1 1163.5 L331.8 1163.9 L332.6 1164.1 L333.3 1164.3 L334.1 1164.4 L334.8 1164.5 L335.6 1164.6 L336.3 1164.8 L337.1 1165.2 L337.8 1165.7 L338.6 1166.4 L339.3 1167.2 L340.1 1167.9 L340.8 1168.4 L341.6 1168.6 L342.3 1167.2 L343.1 1163.6 L343.8 1158.7 L344.6 1153.6 L345.3 1149.3 L346.1 1143.9 L346.8 1138.2 L347.6 1133.6 L348.3 1131.8 L349.1 1133.6 L349.8 1138 L350.6 1143.7 L351.3 1149.4 L352.1 1153.8 L352.8 1157.1 L353.6 1160.1 L354.3 1162.9 L355.1 1165.1 L355.8 1166.6 L356.6 1167.8 L357.3 1168.8 L358.1 1169.7 L358.8 1170.5 L359.6 1171.2 L360.3 1171.6 L361.1 1171.6 L361.8 1171.2 L362.6 1170.4 L363.3 1169.3 L364.1 1168.1 L364.8 1166.9 L365.6 1165.7 L366.3 1164.1 L367.1 1162.3 L367.8 1160.6 L368.6 1159.4 L369.3 1158.9 L370.1 1159.7 L370.8 1161.4 L371.6 1163.8 L372.3 1166.6 L373.1 1169.5 L373.8 1172 L374.6 1173.8 L375.3 1174.4 L376.1 1174.1 L376.8 1173.3 L377.6 1172 L378.3 1170.8 L379.1 1169.9 L379.8 1169.6 L380.6 1169.8 L381.3 1170.1 L382.1 1170.5 L382.8 1170.9 L383.6 1171.1 L384.3 1171.2 L385.1 1171.2 L385.8 1171.1 L386.6 1171.1 L387.3 1171 L388.1 1170.7 L388.8 1170.2 L389.6 1169.5 L390.3 1168.7 L391.1 1167.7 L391.8 1166.7 L392.6 1165.6 L393.3 1164.7 L394.1 1164 L394.8 1163.6 L395.6 1163.4 L396.3 1163.6 L397.1 1164.2 L397.8 1164.9 L398.6 1165.5 L399.3 1165.8 L400.1 1162.8 L400.8 1156.6 L401.6 1149.9 L402.3 1145.3 L403.1 1142.8 L403.8 1141 L404.6 1140.8 L405.3 1145.8 L406.1 1153.9 L406.8 1161.6 L407.6 1167.2 L408.3 1172.7 L409.1 1176.1 L409.8 1176.4 L410.6 1176.5 L411.3 1176.6 L412.1 1176.5 L412.8 1176.4 L413.6 1176.3 L414.3 1176.2 L415.1 1176 L415.8 1175.9 L416.6 1175.7 L417.3 1175.5 L418.1 1175.3 L418.8 1175.3 L419.6 1175.4 L420.3 1175.5 L421.1 1175.6 L421.8 1175.6 L422.6 1175.4 L423.3 1175.1 L424.1 1174.8 L424.8 1174.5 L425.6 1174.3 L426.3 1174 L427.1 1173.8 L427.8 1173.6 L428.6 1173.6 L429.3 1173.8 L430.1 1174.1 L430.8 1174.6 L431.6 1175.1 L432.3 1175.5 L433.1 1175.7 L433.8 1175.9 L434.6 1175.9 L435.3 1175.9 L436.1 1175.9 L436.8 1175.8 L437.6 1175.7 L438.3 1175.6 L439.1 1175.5 L439.8 1175.3 L440.6 1175.1 L441.3 1174.9 L442.1 1174.7 L442.8 1174.7 L443.6 1174.8 L444.3 1174.8 L445.1 1174.8 L445.8 1174.9 L446.6 1174.9 L447.3 1174.9 L448.1 1175 L448.8 1174.9 L449.6 1174.9 L450.3 1174.8 L451.1 1174.5 L451.8 1174.1 L452.6 1173.7 L453.3 1173.5 L454.1 1173.3 L454.8 1173.2 L455.6 1173.1 L456.3 1173 L457.1 1172.8 L457.8 1172.6 L458.6 1172.4 L459.3 1172.2 L460.1 1172 L460.8 1172 L461.6 1172 L462.3 1172.1 L463.1 1172.3 L463.8 1172.7 L464.6 1173.3 L465.3 1174 L466.1 1174.6 L466.8 1174.4 L467.6 1172.6 L468.3 1169.8 L469.1 1167 L469.8 1164.5 L470.6 1161.9 L471.3 1159.7 L472.1 1158.6 L472.8 1158.8 L473.6 1159.3 L474.3 1160.2 L475.1 1161.2 L475.8 1162.2 L476.6 1163.1 L477.3 1163.7 L478.1 1163.9 L478.8 1163.4 L479.6 1162 L480.3 1160.2 L481.1 1158 L481.8 1155.7 L482.6 1153.7 L483.3 1152 L484.1 1151 L484.8 1151.1 L485.6 1153 L486.3 1156.2 L487.1 1160 L487.8 1163.7 L488.6 1166.8 L489.3 1168.4 L490.1 1168.4 L490.8 1167.6 L491.6 1166.7 L492.3 1166.2 L493.1 1166.5 L493.8 1167.8 L494.6 1169.6 L495.3 1171.7 L496.1 1173.6 L496.8 1175 L497.6 1175.5 L498.3 1175.2 L499.1 1174.4 L499.8 1173.2 L500.6 1171.6 L501.3 1170 L502.1 1168.5 L502.8 1167.2 L503.6 1166.4 L504.3 1166.2 L505.1 1166.4 L505.8 1167.1 L506.6 1167.7 L507.3 1168.1 L508.1 1168.1 L508.8 1167.3 L509.6 1165 L510.3 1161.9 L511.1 1158.5 L511.8 1155.3 L512.6 1152.5 L513.3 1149.1 L514.1 1146 L514.8 1143.9 L515.6 1143.6 L516.3 1145.4 L517.1 1148.5 L517.8 1152.3 L518.6 1156 L519.3 1158.9 L520.1 1160.3 L520.8 1160 L521.6 1158.7 L522.3 1156.9 L523.1 1154.7 L523.8 1152.6 L524.6 1150.8 L525.3 1149.6 L526.1 1149.4 L526.8 1150.8 L527.6 1153.7 L528.3 1157.8 L529.1 1162.4 L529.8 1167 L530.6 1170.8 L531.3 1173.5 L532.1 1174.7 L532.8 1174.5 L533.6 1174 L534.3 1173.6 L535.1 1173.2 L535.8 1173 L536.6 1172.8 L537.3 1172.9 L538.1 1173 L538.8 1173.1 L539.6 1173.3 L540.3 1173.5 L541.1 1173.8 L541.8 1174.3 L542.6 1174.9 L543.3 1175.3 L544.1 1175.3 L544.8 1174.9 L545.6 1174.1 L546.3 1173.3 L547.1 1172.6 L547.8 1172 L548.6 1171.8 L549.3 1172.1 L550.1 1172.5 L550.8 1173.1 L551.6 1173.6 L552.3 1173.9 L553.1 1174.1 L553.8 1174.4 L554.6 1174.6 L555.3 1175 L556.1 1175.4 L556.8 1175.6 L557.6 1175.7 L558.3 1175.7 L559.1 1175.8 L559.8 1175.9 L560.6 1175.9 L561.3 1176 L562.1 1176.1 L562.8 1176.2 L563.6 1176.4 L564.3 1176.6 L565.1 1176.7 L565.8 1176.6 L566.6 1176.2 L567.3 1175.6 L568.1 1174.8 L568.8 1174.1 L569.6 1173.5 L570.3 1172.9 L571.1 1172.4 L571.8 1171.9 L572.6 1171.5 L573.3 1171.2 L574.1 1170.9 L574.8 1171.2 L575.6 1171.9 L576.3 1173.1 L577.1 1174.2 L577.8 1175.3 L578.6 1175.9 L579.3 1176.1 L580.1 1176.2 L580.8 1176.4 L581.6 1176.7 L582.3 1176.9 L583.1 1176.9 L583.8 1176.9 L584.6 1176.8 L585.3 1176.8 L586.1 1176.7 L586.8 1176.7 L587.6 1176.8 L588.3 1177 L589.1 1177.2 L589.8 1177.3 L590.6 1177.2 L591.3 1177.1 L592.1 1176.9 L592.8 1176.7 L593.6 1176.5 L594.3 1176.1 L595.1 1175.4 L595.8 1174.5 L596.6 1173.5 L597.3 1172.5 L598.1 1171.5 L598.8 1170.5 L599.6 1169.6 L600.3 1168.5 L601.1 1167.4 L601.8 1166.3 L602.6 1165.5 L603.3 1165 L604.1 1165 L604.8 1165.6 L605.6 1166.6 L606.3 1168 L607.1 1169.5 L607.8 1170.8 L608.6 1172.1 L609.3 1173.5 L610.1 1174.7 L610.8 1175.5 L611.6 1175.6 L612.3 1175.5 L613.1 1175.1 L613.8 1174.6 L614.6 1174 L615.3 1173.3 L616.1 1172.5 L616.8 1171.8 L617.6 1171.2 L618.3 1170.7 L619.1 1170.3 L619.8 1169.8 L620.6 1169.3 L621.3 1168.8 L622.1 1168.4 L622.8 1168.1 L623.6 1167.8 L624.3 1167.6 L625.1 1167.4 L625.8 1167.2 L626.6 1167 L627.3 1167.1 L628.1 1167.5 L628.8 1168.2 L629.6 1169.2 L630.3 1170.3 L631.1 1171.3 L631.8 1172 L632.6 1172.4 L633.3 1172.3 L634.1 1171.8 L634.8 1171.1 L635.6 1170.2 L636.3 1169.1 L637.1 1168.1 L637.8 1167.2 L638.6 1166.8 L639.3 1167 L640.1 1168 L640.8 1169.4 L641.6 1171.1 L642.3 1172.7 L643.1 1174.1 L643.8 1175 L644.6 1175.4 L645.3 1175.2 L646.1 1174.9 L646.8 1174.4 L647.6 1174 L648.3 1173.6 L649.1 1173.3 L649.8 1173.1 L650.6 1173.2 L651.3 1173.3 L652.1 1173.6 L652.8 1173.8 L653.6 1173.9 L654.3 1173.8 L655.1 1173.8 L655.8 1173.7 L656.6 1173.9 L657.3 1174.1 L658.1 1174.4 L658.8 1174.6 L659.6 1174.7 L660.3 1174.9 L661.1 1175 L661.8 1175.2 L662.6 1175.3 L663.3 1175.4 L664.1 1175.5 L664.8 1175.7 L665.6 1175.7 L666.3 1175.4 L667.1 1175 L667.8 1174.5 L668.6 1174 L669.3 1173.6 L670.1 1173.5 L670.8 1173.6 L671.6 1174.2 L672.3 1174.9 L673.1 1175.7 L673.8 1176.5 L674.6 1176.9 L675.3 1177 L676.1 1176.9 L676.8 1176.8 L677.6 1176.8 L678.3 1176.8 L679.1 1176.9 L679.8 1177 L680.6 1177 L681.3 1177 L682.1 1176.8 L682.8 1176.5 L683.6 1176.2 L684.3 1176 L685.1 1176 L685.8 1176.1 L686.6 1176.2 L687.3 1176.3 L688.1 1176.3 L688.8 1176.2 L689.6 1176.1 L690.3 1176 L691.1 1175.8 L691.8 1175.7 L692.6 1175.6 L693.3 1175.5 L694.1 1175.3 L694.8 1175.2 L695.6 1175.2 L696.3 1175.4 L697.1 1175.6 L697.8 1175.8 L698.6 1175.8 L699.3 1175.6 L700.1 1175.4 L700.8 1175.1 L701.6 1174.7 L702.3 1174.3 L703.1 1174 L703.8 1173.7 L704.6 1173.3 L705.3 1172.9 L706.1 1172.3 L706.8 1171.7 L707.6 1171.2 L708.3 1170.7 L709.1 1170.3 L709.8 1170.1 L710.6 1169.9 L711.3 1169.8 L712.1 1169.7 L712.8 1169.5 L713.6 1169.2 L714.3 1168.7 L715.1 1168 L715.8 1167 L716.6 1166 L717.3 1164.9 L718.1 1163.8 L718.8 1162.8 L719.6 1162 L720.3 1161.4 L721.1 1161.2 L721.8 1161.5 L722.6 1162.1 L723.3 1163.1 L724.1 1164.2 L724.8 1165.3 L725.6 1166.3 L726.3 1167.1 L727.1 1167.9 L727.8 1168.8 L728.6 1169.7 L729.3 1170.4 L730.1 1170.9 L730.8 1171.1 L731.6 1171 L732.3 1170.7 L733.1 1170.3 L733.8 1169.8 L734.6 1169.3 L735.3 1168.8 L736.1 1168.3 L736.8 1167.9 L737.6 1167.7 L738.3 1167.7 L739.1 1168 L739.8 1168.6 L740.6 1169.3 L741.3 1169.8 L742.1 1170.2 L742.8 1170.5 L743.6 1170.8 L744.3 1171.2 L745.1 1171.5 L745.8 1171.5 L746.6 1171.5 L747.3 1171.3 L748.1 1171.1 L748.8 1170.9 L749.6 1170.9 L750.3 1171.1 L751.1 1171.5 L751.8 1171.9 L752.6 1172.3 L753.3 1172.7 L754.1 1173 L754.8 1173.3 L755.6 1173.3 L756.3 1173.2 L757.1 1173.1 L757.8 1173.1 L758.6 1173.2 L759.3 1173.3 L760.1 1173.4 L760.8 1173.5 L761.6 1173.6 L762.3 1173.8 L763.1 1174 L763.8 1174.2 L764.6 1174.3 L765.3 1174.3 L766.1 1174.2 L766.8 1174 L767.6 1173.8 L768.3 1173.7 L769.1 1173.8 L769.8 1174 L770.6 1174.2 L771.3 1174.4 L772.1 1174.2 L772.8 1173.4 L773.6 1172.4 L774.3 1171.3 L775.1 1170.2 L775.8 1169.4 L776.6 1168.4 L777.3 1167.4 L778.1 1166.6 L778.8 1166.2 L779.6 1166.5 L780.3 1167.5 L781.1 1169 L781.8 1170.6 L782.6 1171.9 L783.3 1172.8 L784.1 1173.6 L784.8 1174.2 L785.6 1174.3 L786.3 1174.3 L787.1 1174.4 L787.8 1174.4 L788.6 1174.5 L789.3 1174.5 L790.1 1174.5 L790.8 1174.3 L791.6 1174.1 L792.3 1173.9 L793.1 1173.9 L793.8 1173.8 L794.6 1173.9 L795.3 1173.9 L796.1 1173.8 L796.8 1173.8 L797.6 1173.7 L798.3 1173.6 L799.1 1173.6 L799.8 1173.5 L800.6 1173.4 L801.3 1173.1 L802.1 1172.1 L802.8 1170.7 L803.6 1169.1 L804.3 1167.5 L805.1 1165.5 L805.8 1162.8 L806.6 1160 L807.3 1158 L808.1 1157.6 L808.8 1159.2 L809.6 1162.2 L810.3 1165.5 L811.1 1168.1 L811.8 1169.3 L812.6 1170.4 L813.3 1171.2 L814.1 1171.6 L814.8 1171.9 L815.6 1172.1 L816.3 1172.4 L817.1 1172.6 L817.8 1172.9 L818.6 1173.1 L819.3 1173.4 L820.1 1173.6 L820.8 1173.8 L821.6 1173.8 L822.3 1173.8 L823.1 1173.7 L823.8 1173.6 L824.6 1173.5 L825.3 1173.5 L826.1 1173.5 L826.8 1173.6 L827.6 1173.5 L828.3 1173.5 L829.1 1173.4 L829.8 1173.2 L830.6 1173.1 L831.3 1172.9 L832.1 1172.9 L832.8 1172.8 L833.6 1172.7 L834.3 1172.6 L835.1 1172.6 L835.8 1172.5 L836.6 1172.4 L837.3 1172.4 L838.1 1172.4 L838.8 1172.5 L839.6 1172.6 L840.3 1172.7 L841.1 1172.8 L841.8 1173 L842.6 1173.4 L843.3 1173.9 L844.1 1174.4 L844.8 1174.9 L845.6 1175.4 L846.3 1175.7 L847.1 1176 L847.8 1176.3 L848.6 1176.4 L849.3 1176.4 L850.1 1176.2 L850.8 1176 L851.6 1175.7 L852.3 1175.6 L853.1 1175.6 L853.8 1175.6 L854.6 1175.6 L855.3 1175.7 L856.1 1175.6 L856.8 1175.6 L857.6 1175.5 L858.3 1175.4 L859.1 1175.4 L859.8 1175.3 L860.6 1175.2 L861.3 1175.1 L862.1 1175 L862.8 1175 L863.6 1174.9 L864.3 1174.8 L865.1 1174.8 L865.8 1174.7 L866.6 1174.7 L867.3 1174.6 L868.1 1174.4 L868.8 1174.3 L869.6 1174.1 L870.3 1173.8 L871.1 1173.6 L871.8 1173.2 L872.6 1172.9 L873.3 1172.7 L874.1 1172.5 L874.8 1172.4 L875.6 1172.3 L876.3 1172.2 L877.1 1172 L877.8 1171.9 L878.6 1171.8 L879.3 1171.8 L880.1 1171.8 L880.8 1171.8 L881.6 1171.9 L882.3 1172 L883.1 1172.1 L883.8 1172.3 L884.6 1172.7 L885.3 1173.2 L886.1 1173.8 L886.8 1174.3 L887.6 1174.5 L888.3 1174.5 L889.1 1174.2 L889.8 1173.9 L890.6 1173.6 L891.3 1173.5 L892.1 1173.5 L892.8 1173.5 L893.6 1173.5 L894.3 1173.4 L895.1 1173.2 L895.8 1172.9 L896.6 1172.7 L897.3 1172.5 L898.1 1172.3 L898.8 1172.2 L899.6 1172.1 L900.3 1172 L901.1 1171.9 L901.8 1171.8 L902.6 1171.7 L903.3 1171.7 L904.1 1171.7 L904.8 1171.8 L905.6 1172.1 L906.3 1172.6 L907.1 1173.1 L907.8 1173.7 L908.6 1174.2 L909.3 1174.7 L910.1 1175.2 L910.8 1175.7 L911.6 1176 L912.3 1176.2 L913.1 1176.2 L913.8 1175.9 L914.6 1175.6 L915.3 1175.4 L916.1 1175.4 L916.8 1175.5 L917.6 1175.7 L918.3 1175.8 L919.1 1175.7 L919.8 1175.2 L920.6 1174.5 L921.3 1173.7 L922.1 1173.1 L922.8 1172.9 L923.6 1172.7 L924.3 1172.7 L925.1 1172.7 L925.8 1172.6 L926.6 1172.4 L927.3 1172 L928.1 1171.7 L928.8 1171.4 L929.6 1171.4 L930.3 1171.5 L931.1 1171.8 L931.8 1172.1 L932.6 1172.5 L933.3 1172.7 L934.1 1173 L934.8 1173.3 L935.6 1173.5 L936.3 1173.7 L937.1 1173.8 L937.8 1173.8 L938.6 1173.8 L939.3 1173.7 L940.1 1173.6 L940.8 1173.3 L941.6 1173.1 L942.3 1172.7 L943.1 1172.4 L943.8 1172.1 L944.6 1171.8 L945.3 1171.5 L946.1 1171.3 L946.8 1171.1 L947.6 1171 L948.3 1170.9 L949.1 1171 L949.8 1171.3 L950.6 1171.7 L951.3 1172.3 L952.1 1173 L952.8 1173.8 L953.6 1174.5 L954.3 1175.2 L955.1 1175.7 L955.8 1176.1 L956.6 1176.4 L957.3 1176.5 L958.1 1176.4 L958.8 1176.1 L959.6 1175.7 L960.3 1175.4 L961.1 1175.1 L961.8 1175.1 L962.6 1175.1 L963.3 1175.2 L964.1 1175.2 L964.8 1175 L965.6 1174.6 L966.3 1174.3 L967.1 1173.9 L967.8 1173.5 L968.6 1173.2 L969.3 1173 L970.1 1172.7 L970.8 1172.5 L971.6 1172.4 L972.3 1172.3 L973.1 1172.2 L973.8 1172.1 L974.6 1172 L975.3 1172 L976.1 1171.9 L976.8 1171.9 L977.6 1171.9 L978.3 1171.9 L979.1 1171.9 L979.8 1172 L980.6 1172 L981.3 1171.9 L982.1 1171.8 L982.8 1171.3 L983.6 1170.7 L984.3 1170.1 L985.1 1169.5 L985.8 1169.3 L986.6 1169.3 L987.3 1169.3 L988.1 1169.3 L988.8 1169.3 L989.6 1169.3 L990.3 1169.2 L991.1 1169.3 L991.8 1169.5 L992.6 1169.9 L993.3 1170.5 L994.1 1171.1 L994.8 1171.7 L995.6 1172.2 L996.3 1172.7 L997.1 1173 L997.8 1173.2 L998.6 1173.4 L999.3 1173.5 L1000.1 1173.7 L1000.8 1173.9 L1001.6 1174 L1002.3 1174.2 L1003.1 1174.3 L1003.8 1174.4 L1004.6 1174.6 L1005.3 1174.7 L1006.1 1174.8 L1006.8 1174.9 L1007.6 1175.2 L1008.3 1175.7 L1009.1 1176.1 L1009.8 1176.3 L1010.6 1176.2 L1011.3 1176 L1012.1 1175.6 L1012.8 1175.4 L1013.6 1175.2 L1014.3 1175.3 L1015.1 1175.4 L1015.8 1175.6 L1016.6 1175.7 L1017.3 1175.6 L1018.1 1175.4 L1018.8 1175.1 L1019.6 1174.8 L1020.3 1174.7 L1021.1 1174.6 L1021.8 1174.6 L1022.6 1174.6 L1023 1174.6" stroke="#b177de"/>
<path d="M102.3 1118.6 L103.1 1118.5 L103.8 1118.4 L104.6 1118.4 L105.3 1118.3 L106.1 1118.2 L106.8 1118.1 L107.6 1118.2 L108.3 1118.5 L109.1 1118.7 L109.8 1119 L110.6 1119 L111.3 1118.9 L112.1 1118.7 L112.8 1118.5 L113.6 1118.4 L114.3 1118.4 L115.1 1118.5 L115.8 1118.7 L116.6 1118.9 L117.3 1119 L118.1 1119 L118.8 1118.9 L119.6 1118.8 L120.3 1118.6 L121.1 1118.6 L121.8 1118.6 L122.6 1118.6 L123.3 1118.6 L124.1 1118.7 L124.8 1118.8 L125.6 1119 L126.3 1119.3 L127.1 1119.6 L127.8 1119.8 L128.6 1120 L129.3 1120.1 L130.1 1120.2 L130.8 1120.3 L131.6 1120.3 L132.3 1120.3 L133.1 1120.2 L133.8 1120 L134.6 1119.9 L135.3 1120 L136.1 1120.2 L136.8 1120.6 L137.6 1120.9 L138.3 1121.1 L139.1 1121 L139.8 1120.6 L140.6 1120.2 L141.3 1119.8 L142.1 1119.7 L142.8 1119.8 L143.6 1120 L144.3 1120.2 L145.1 1120.3 L145.8 1120.4 L146.6 1120.4 L147.3 1120.4 L148.1 1120.4 L148.8 1120.4 L149.6 1120.4 L150.3 1120.6 L151.1 1120.7 L151.8 1120.9 L152.6 1120.9 L153.3 1120.7 L154.1 1120.4 L154.8 1120 L155.6 1119.8 L156.3 1119.8 L157.1 1120 L157.8 1120.3 L158.6 1120.7 L159.3 1120.8 L160.1 1120.8 L160.8 1120.8 L161.6 1120.8 L162.3 1120.9 L163.1 1120.9 L163.8 1120.9 L164.6 1120.9 L165.3 1121 L166.1 1121 L166.8 1121 L167.6 1121 L168.3 1121.1 L169.1 1121.1 L169.8 1121.1 L170.6 1121 L171.3 1120.7 L172.1 1120.4 L172.8 1120.2 L173.6 1120.1 L174.3 1120.3 L175.1 1120.6 L175.8 1120.9 L176.6 1121.2 L177.3 1121.2 L178.1 1121 L178.8 1120.8 L179.6 1120.6 L180.3 1120.5 L181.1 1120.5 L181.8 1120.6 L182.6 1120.5 L183.3 1120 L184.1 1119.2 L184.8 1118.2 L185.6 1117 L186.3 1115.6 L187.1 1113.2 L187.8 1110.2 L188.6 1106.8 L189.3 1103.2 L190.1 1098.1 L190.8 1092.7 L191.6 1088.3 L192.3 1086.7 L193.1 1089 L193.8 1094.2 L194.6 1100.5 L195.3 1106.3 L196.1 1111.4 L196.8 1116.8 L197.6 1121.3 L198.3 1123.2 L199.1 1123 L199.8 1122.5 L200.6 1122 L201.3 1121.7 L202.1 1121.6 L202.8 1121.6 L203.6 1121.7 L204.3 1121.7 L205.1 1121.6 L205.8 1121.4 L206.6 1121.1 L207.3 1120.9 L208.1 1120.7 L208.8 1120.6 L209.6 1120.6 L210.3 1120.7 L211.1 1120.8 L211.8 1120.8 L212.6 1120.9 L213.3 1121.1 L214.1 1121.4 L214.8 1121.8 L215.6 1122.1 L216.3 1122.3 L217.1 1122.3 L217.8 1122.3 L218.6 1122.3 L219.3 1122.3 L220.1 1122.2 L220.8 1122 L221.6 1121.9 L222.3 1121.8 L223.1 1121.8 L223.8 1122 L224.6 1122.1 L225.3 1122.2 L226.1 1122.3 L226.8 1122.3 L227.6 1122.3 L228.3 1122.3 L229.1 1122.4 L229.8 1122.4 L230.6 1122.5 L231.3 1122.6 L232.1 1122.7 L232.8 1122.8 L233.6 1122.7 L234.3 1122.7 L235.1 1122.6 L235.8 1122.6 L236.6 1122.6 L237.3 1122.7 L238.1 1122.9 L238.8 1123.1 L239.6 1123.2 L240.3 1123.2 L241.1 1123.2 L241.8 1123 L242.6 1122.9 L243.3 1122.8 L244.1 1122.8 L244.8 1122.8 L245.6 1122.8 L246.3 1122.8 L247.1 1122.9 L247.8 1123 L248.6 1123.2 L249.3 1123.5 L250.1 1123.7 L250.8 1123.7 L251.6 1123.5 L252.3 1123.3 L253.1 1123.1 L253.8 1123 L254.6 1123 L255.3 1123.1 L256.1 1123.2 L256.8 1123.3 L257.6 1123.3 L258.3 1123.3 L259.1 1123.1 L259.8 1123 L260.6 1122.9 L261.3 1122.9 L262.1 1122.7 L262.8 1121.8 L263.6 1120.5 L264.3 1118.8 L265.1 1117.2 L265.8 1115.8 L266.6 1114.1 L267.3 1112.6 L268.1 1111.8 L268.8 1112.2 L269.6 1113.6 L270.3 1115.5 L271.1 1117.4 L271.8 1118.8 L272.6 1120 L273.3 1121.2 L274.1 1122 L274.8 1122.2 L275.6 1122.2 L276.3 1122.1 L277.1 1122 L277.8 1121.8 L278.6 1121.5 L279.3 1120.9 L280.1 1119.7 L280.8 1117.9 L281.6 1115.8 L282.3 1113.7 L283.1 1111.6 L283.8 1109.8 L284.6 1108.3 L285.3 1107.3 L286.1 1106.2 L286.8 1105 L287.6 1103.8 L288.3 1102.8 L289.1 1102.1 L289.8 1101.8 L290.6 1101.8 L291.3 1102.4 L292.1 1103.8 L292.8 1105.4 L293.6 1107.1 L294.3 1108.3 L295.1 1108.8 L295.8 1108.6 L296.6 1108 L297.3 1107.1 L298.1 1106.1 L298.8 1105.1 L299.6 1104.3 L300.3 1103.8 L301.1 1103.6 L301.8 1104.1 L302.6 1105 L303.3 1106.2 L304.1 1107.8 L304.8 1109.4 L305.6 1111.1 L306.3 1112.6 L307.1 1113.9 L307.8 1114.8 L308.6 1115.3 L309.3 1115.8 L310.1 1116.2 L310.8 1116.8 L311.6 1117.4 L312.3 1118 L313.1 1118.5 L313.8 1118.7 L314.6 1118.7 L315.3 1118.5 L316.1 1118.2 L316.8 1117.8 L317.6 1117.3 L318.3 1116.6 L319.1 1115.9 L319.8 1115.1 L320.6 1113.2 L321.3 1109.9 L322.1 1106.1 L322.8 1102.6 L323.6 1100.1 L324.3 1099.5 L325.1 1100.2 L325.8 1101.5 L326.6 1103.2 L327.3 1104.7 L328.1 1105.8 L328.8 1106.3 L329.6 1106.6 L330.3 1106.8 L331.1 1107 L331.8 1107.2 L332.6 1107.6 L333.3 1108 L334.1 1108.5 L334.8 1108.9 L335.6 1109.3 L336.3 1109.7 L337.1 1110.1 L337.8 1110.5 L338.6 1110.7 L339.3 1110.7 L340.1 1110.6 L340.8 1109.3 L341.6 1106 L342.3 1101.7 L343.1 1097.4 L343.8 1093.4 L344.6 1088.5 L345.3 1084.4 L346.1 1082.9 L346.8 1084.7 L347.6 1088.6 L348.3 1093.5 L349.1 1098.4 L349.8 1102.2 L350.6 1105.3 L351.3 1108.2 L352.1 1110.7 L352.8 1112.8 L353.6 1114.2 L354.3 1115.5 L355.1 1116.8 L355.8 1117.9 L356.6 1118.9 L357.3 1119.6 L358.1 1119.8 L358.8 1119.7 L359.6 1119.3 L360.3 1118.5 L361.1 1117.6 L361.8 1116.6 L362.6 1115.1 L363.3 1112.4 L364.1 1109.1 L364.8 1105.6 L365.6 1101.5 L366.3 1096 L367.1 1091.1 L367.8 1088.9 L368.6 1091 L369.3 1096.4 L370.1 1102.9 L370.8 1108 L371.6 1112.4 L372.3 1116.6 L373.1 1119.5 L373.8 1120.1 L374.6 1119.3 L375.3 1118.2 L376.1 1117.1 L376.8 1116.2 L377.6 1115.9 L378.3 1116 L379.1 1116.6 L379.8 1117.2 L380.6 1117.8 L381.3 1118.1 L382.1 1118.1 L382.8 1117.8 L383.6 1117 L384.3 1115.8 L385.1 1114.3 L385.8 1112.6 L386.6 1110.7 L387.3 1108.6 L388.1 1106.6 L388.8 1104.6 L389.6 1102.1 L390.3 1099.4 L391.1 1096.9 L391.8 1094.7 L392.6 1093.2 L393.3 1092.9 L394.1 1095.1 L394.8 1099 L395.6 1102.9 L396.3 1104.8 L397.1 1103.1 L397.8 1098.4 L398.6 1092.8 L399.3 1087.9 L400.1 1083.8 L400.8 1081.6 L401.6 1080.2 L402.3 1079.7 L403.1 1086.7 L403.8 1101.6 L404.6 1116.3 L405.3 1122.5 L406.1 1123.4 L406.8 1123.9 L407.6 1124 L408.3 1123.9 L409.1 1123.9 L409.8 1123.8 L410.6 1123.7 L411.3 1123.6 L412.1 1123.6 L412.8 1123.6 L413.6 1123.5 L414.3 1123.5 L415.1 1123.4 L415.8 1123.2 L416.6 1122.9 L417.3 1122.6 L418.1 1122.4 L418.8 1122.2 L419.6 1122.1 L420.3 1121.9 L421.1 1121.6 L421.8 1121 L422.6 1120.2 L423.3 1119.1 L424.1 1118.1 L424.8 1117.2 L425.6 1116.7 L426.3 1116.7 L427.1 1117.2 L427.8 1118.1 L428.6 1119.1 L429.3 1119.9 L430.1 1120.7 L430.8 1121.3 L431.6 1121.6 L432.3 1121.6 L433.1 1121.7 L433.8 1121.7 L434.6 1121.8 L435.3 1121.8 L436.1 1121.8 L436.8 1121.7 L437.6 1121.6 L438.3 1121.6 L439.1 1121.4 L439.8 1121.3 L440.6 1121.2 L441.3 1121.1 L442.1 1121 L442.8 1120.9 L443.6 1120.7 L444.3 1120.3 L445.1 1119.9 L445.8 1119.4 L446.6 1118.9 L447.3 1118.4 L448.1 1117.9 L448.8 1117.4 L449.6 1116.9 L450.3 1116.3 L451.1 1115.6 L451.8 1115 L452.6 1114.4 L453.3 1113.8 L454.1 1113.3 L454.8 1112.9 L455.6 1112.5 L456.3 1112.2 L457.1 1111.9 L457.8 1111.7 L458.6 1111.7 L459.3 1111.9 L460.1 1112.8 L460.8 1114.1 L461.6 1115.6 L462.3 1116.9 L463.1 1118 L463.8 1118.5 L464.6 1118.4 L465.3 1117.4 L466.1 1115.8 L466.8 1113.8 L467.6 1111.6 L468.3 1109.4 L469.1 1107.7 L469.8 1106.9 L470.6 1107 L471.3 1107.7 L472.1 1109 L472.8 1110.5 L473.6 1111.9 L474.3 1112.8 L475.1 1113.1 L475.8 1112.7 L476.6 1111.7 L477.3 1110.3 L478.1 1108.6 L478.8 1106.7 L479.6 1104.7 L480.3 1103 L481.1 1101.7 L481.8 1100.8 L482.6 1100.7 L483.3 1102.3 L484.1 1105.4 L484.8 1109.2 L485.6 1113 L486.3 1116.2 L487.1 1117.9 L487.8 1118 L488.6 1117.9 L489.3 1117.8 L490.1 1117.6 L490.8 1117.5 L491.6 1117.3 L492.3 1117.6 L493.1 1118.4 L493.8 1119.5 L494.6 1120.7 L495.3 1121.6 L496.1 1121.9 L496.8 1121.8 L497.6 1121.2 L498.3 1120.4 L499.1 1119.4 L499.8 1118.3 L500.6 1117.1 L501.3 1116 L502.1 1115.2 L502.8 1114.7 L503.6 1114.6 L504.3 1114.9 L505.1 1115.5 L505.8 1116 L506.6 1116.4 L507.3 1116.2 L508.1 1114 L508.8 1110.3 L509.6 1106.3 L510.3 1103.1 L511.1 1099.6 L511.8 1096.4 L512.6 1095 L513.3 1096 L514.1 1098.7 L514.8 1102.3 L515.6 1106.3 L516.3 1109.9 L517.1 1112.4 L517.8 1113.1 L518.6 1112 L519.3 1109.8 L520.1 1107.3 L520.8 1104.7 L521.6 1102.4 L522.3 1100.7 L523.1 1100.1 L523.8 1100.7 L524.6 1102.5 L525.3 1105.1 L526.1 1108.3 L526.8 1111.8 L527.6 1115.3 L528.3 1118.3 L529.1 1120.2 L529.8 1120.8 L530.6 1120.7 L531.3 1120.5 L532.1 1120.2 L532.8 1119.9 L533.6 1119.7 L534.3 1119.7 L535.1 1119.5 L535.8 1119.3 L536.6 1119.3 L537.3 1119.4 L538.1 1119.9 L538.8 1120.5 L539.6 1121.2 L540.3 1121.8 L541.1 1122 L541.8 1121.8 L542.6 1121.2 L543.3 1120.6 L544.1 1119.9 L544.8 1119.3 L545.6 1118.7 L546.3 1118.2 L547.1 1117.9 L547.8 1117.6 L548.6 1117.5 L549.3 1117.6 L550.1 1117.9 L550.8 1118.3 L551.6 1118.8 L552.3 1119.4 L553.1 1120.1 L553.8 1120.7 L554.6 1121.2 L555.3 1121.5 L556.1 1121.6 L556.8 1121.4 L557.6 1121 L558.3 1120.4 L559.1 1119.8 L559.8 1119.3 L560.6 1118.9 L561.3 1118.6 L562.1 1118.8 L562.8 1119.3 L563.6 1120.1 L564.3 1120.9 L565.1 1121.8 L565.8 1122.4 L566.6 1122.7 L567.3 1122.2 L568.1 1121.2 L568.8 1119.9 L569.6 1118.7 L570.3 1117.8 L571.1 1117.5 L571.8 1117.8 L572.6 1118.7 L573.3 1119.8 L574.1 1120.9 L574.8 1121.8 L575.6 1122.5 L576.3 1122.6 L577.1 1122.6 L577.8 1122.5 L578.6 1122.5 L579.3 1122.5 L580.1 1122.5 L580.8 1122.5 L581.6 1122.5 L582.3 1122.5 L583.1 1122.5 L583.8 1122.4 L584.6 1122.3 L585.3 1122.2 L586.1 1122.1 L586.8 1122 L587.6 1122 L588.3 1121.9 L589.1 1121.8 L589.8 1121.7 L590.6 1121.6 L591.3 1121.5 L592.1 1121.4 L592.8 1121 L593.6 1120.2 L594.3 1119.2 L595.1 1118.3 L595.8 1117.5 L596.6 1116.7 L597.3 1115.8 L598.1 1114.7 L598.8 1113.7 L599.6 1112.9 L600.3 1112.7 L601.1 1112.9 L601.8 1113.6 L602.6 1114.5 L603.3 1115.5 L604.1 1116.6 L604.8 1117.7 L605.6 1119 L606.3 1120.2 L607.1 1120.9 L607.8 1120.9 L608.6 1120.8 L609.3 1120.6 L610.1 1120.2 L610.8 1119.7 L611.6 1119 L612.3 1118.3 L613.1 1117.5 L613.8 1116.7 L614.6 1115.9 L615.3 1115.2 L616.1 1114.6 L616.8 1114.1 L617.6 1113.5 L618.3 1112.9 L619.1 1112.1 L619.8 1111.4 L620.6 1110.6 L621.3 1110 L622.1 1109.5 L622.8 1109.1 L623.6 1109 L624.3 1109.3 L625.1 1110.1 L625.8 1111.5 L626.6 1113.2 L627.3 1115 L628.1 1116.6 L628.8 1117.7 L629.6 1118.4 L630.3 1118.5 L631.1 1118.3 L631.8 1117.9 L632.6 1117.4 L633.3 1116.9 L634.1 1116.3 L634.8 1115.8 L635.6 1115.5 L636.3 1115.4 L637.1 1115.6 L637.8 1116.2 L638.6 1117.1 L639.3 1118 L640.1 1118.7 L640.8 1119.1 L641.6 1119.1 L642.3 1118.9 L643.1 1118.7 L643.8 1118.4 L644.6 1118.1 L645.3 1117.7 L646.1 1117.4 L646.8 1117 L647.6 1116.8 L648.3 1116.6 L649.1 1116.5 L649.8 1116.6 L650.6 1116.7 L651.3 1117 L652.1 1117.3 L652.8 1117.4 L653.6 1117.5 L654.3 1117.6 L655.1 1117.7 L655.8 1117.8 L656.6 1117.9 L657.3 1118.1 L658.1 1118.4 L658.8 1118.7 L659.6 1119.1 L660.3 1119.5 L661.1 1119.9 L661.8 1120.3 L662.6 1120.5 L663.3 1120.5 L664.1 1120.2 L664.8 1120 L665.6 1119.7 L666.3 1119.5 L667.1 1119.4 L667.8 1119.6 L668.6 1120.2 L669.3 1121 L670.1 1121.9 L670.8 1122.7 L671.6 1123.1 L672.3 1122.9 L673.1 1122.6 L673.8 1122.5 L674.6 1122.5 L675.3 1122.5 L676.1 1122.6 L676.8 1122.6 L677.6 1122.7 L678.3 1122.8 L679.1 1123 L679.8 1123.2 L680.6 1123.3 L681.3 1123.3 L682.1 1123.1 L682.8 1122.9 L683.6 1122.8 L684.3 1122.7 L685.1 1122.7 L685.8 1122.7 L686.6 1122.8 L687.3 1122.8 L688.1 1122.8 L688.8 1122.8 L689.6 1122.7 L690.3 1122.6 L691.1 1122.5 L691.8 1122.5 L692.6 1122.4 L693.3 1122.4 L694.1 1122.2 L694.8 1121.9 L695.6 1121.3 L696.3 1120.6 L697.1 1119.9 L697.8 1119.2 L698.6 1118.6 L699.3 1118.2 L700.1 1118 L700.8 1117.7 L701.6 1117.3 L702.3 1116.7 L703.1 1115.9 L703.8 1114.9 L704.6 1114 L705.3 1113.3 L706.1 1112.9 L706.8 1112.5 L707.6 1112.4 L708.3 1112.4 L709.1 1112.7 L709.8 1113.1 L710.6 1113.6 L711.3 1113.7 L712.1 1113.2 L712.8 1112.2 L713.6 1110.9 L714.3 1109.5 L715.1 1108.2 L715.8 1107.1 L716.6 1106.3 L717.3 1106.1 L718.1 1106.3 L718.8 1106.7 L719.6 1107.4 L720.3 1108.2 L721.1 1109.1 L721.8 1110.1 L722.6 1111 L723.3 1112 L724.1 1113.2 L724.8 1114.7 L725.6 1116.1 L726.3 1117.3 L727.1 1118 L727.8 1118.2 L728.6 1117.9 L729.3 1117.5 L730.1 1117.1 L730.8 1116.9 L731.6 1116.7 L732.3 1116.5 L733.1 1116.2 L733.8 1115.8 L734.6 1115.4 L735.3 1115 L736.1 1114.8 L736.8 1114.9 L737.6 1115.2 L738.3 1115.6 L739.1 1116 L739.8 1116.5 L740.6 1117.1 L741.3 1117.6 L742.1 1118.1 L742.8 1118.5 L743.6 1118.7 L744.3 1118.6 L745.1 1118.3 L745.8 1118 L746.6 1117.7 L747.3 1117.4 L748.1 1117.2 L748.8 1117.1 L749.6 1117 L750.3 1116.8 L751.1 1116.8 L751.8 1116.8 L752.6 1116.7 L753.3 1116.7 L754.1 1116.7 L754.8 1116.8 L755.6 1116.9 L756.3 1117.1 L757.1 1117.4 L757.8 1117.8 L758.6 1118.2 L759.3 1118.6 L760.1 1119.1 L760.8 1119.5 L761.6 1119.9 L762.3 1120.3 L763.1 1120.6 L763.8 1120.9 L764.6 1121 L765.3 1121 L766.1 1120.7 L766.8 1120.1 L767.6 1119.4 L768.3 1118.7 L769.1 1118 L769.8 1117.3 L770.6 1116.5 L771.3 1115.8 L772.1 1114.8 L772.8 1113.5 L773.6 1112.1 L774.3 1110.9 L775.1 1110.3 L775.8 1110.5 L776.6 1111.5 L777.3 1112.9 L778.1 1114.6 L778.8 1116.1 L779.6 1117.2 L780.3 1118.2 L781.1 1119.1 L781.8 1119.7 L782.6 1119.8 L783.3 1119.9 L784.1 1119.9 L784.8 1120 L785.6 1120.1 L786.3 1120.2 L787.1 1120.4 L787.8 1120.6 L788.6 1120.8 L789.3 1121 L790.1 1120.9 L790.8 1120.9 L791.6 1120.7 L792.3 1120.6 L793.1 1120.6 L793.8 1120.5 L794.6 1120.5 L795.3 1120.5 L796.1 1120.5 L796.8 1120.5 L797.6 1120.8 L798.3 1121.2 L799.1 1121.5 L799.8 1121.5 L800.6 1120.5 L801.3 1119.1 L802.1 1117.5 L802.8 1115.8 L803.6 1113.7 L804.3 1110.7 L805.1 1107.8 L805.8 1105.6 L806.6 1105.2 L807.3 1106.8 L808.1 1109.5 L808.8 1112.5 L809.6 1114.9 L810.3 1116.4 L811.1 1117.9 L811.8 1118.9 L812.6 1119 L813.3 1118.9 L814.1 1118.9 L814.8 1118.9 L815.6 1118.9 L816.3 1118.9 L817.1 1119 L817.8 1118.9 L818.6 1118.9 L819.3 1118.9 L820.1 1118.9 L820.8 1118.8 L821.6 1118.8 L822.3 1118.8 L823.1 1118.8 L823.8 1118.8 L824.6 1118.9 L825.3 1119.1 L826.1 1119.5 L826.8 1119.9 L827.6 1120.3 L828.3 1120.5 L829.1 1120.6 L829.8 1120.7 L830.6 1120.7 L831.3 1120.8 L832.1 1120.9 L832.8 1120.9 L833.6 1120.9 L834.3 1120.9 L835.1 1121 L835.8 1121.1 L836.6 1121.3 L837.3 1121.5 L838.1 1121.6 L838.8 1121.7 L839.6 1121.7 L840.3 1121.8 L841.1 1121.8 L841.8 1121.8 L842.6 1121.8 L843.3 1121.8 L844.1 1121.7 L844.8 1121.7 L845.6 1121.7 L846.3 1121.7 L847.1 1121.8 L847.8 1121.9 L848.6 1121.9 L849.3 1121.9 L850.1 1121.8 L850.8 1121.8 L851.6 1121.7 L852.3 1121.6 L853.1 1121.7 L853.8 1121.8 L854.6 1121.9 L855.3 1122 L856.1 1122 L856.8 1121.9 L857.6 1121.7 L858.3 1121.4 L859.1 1121.2 L859.8 1121 L860.6 1120.9 L861.3 1120.7 L862.1 1120.6 L862.8 1120.5 L863.6 1120.5 L864.3 1120.5 L865.1 1120.5 L865.8 1120.5 L866.6 1120.6 L867.3 1120.6 L868.1 1120.7 L868.8 1120.6 L869.6 1120.4 L870.3 1120.2 L871.1 1119.8 L871.8 1119.4 L872.6 1119.1 L873.3 1118.8 L874.1 1118.7 L874.8 1118.7 L875.6 1118.8 L876.3 1119 L877.1 1119.2 L877.8 1119.5 L878.6 1119.8 L879.3 1120.1 L880.1 1120.4 L880.8 1120.6 L881.6 1120.7 L882.3 1120.7 L883.1 1120.6 L883.8 1120.6 L884.6 1120.8 L885.3 1121.2 L886.1 1121.6 L886.8 1121.9 L887.6 1122.1 L888.3 1122.1 L889.1 1122 L889.8 1121.9 L890.6 1121.9 L891.3 1121.9 L892.1 1122 L892.8 1122 L893.6 1122 L894.3 1121.9 L895.1 1121.7 L895.8 1121.5 L896.6 1121.2 L897.3 1120.9 L898.1 1120.5 L898.8 1120 L899.6 1119.4 L900.3 1118.9 L901.1 1118.4 L901.8 1118.3 L902.6 1118.7 L903.3 1119.2 L904.1 1119.8 L904.8 1120.3 L905.6 1120.5 L906.3 1120.6 L907.1 1120.8 L907.8 1121 L908.6 1121.2 L909.3 1121.4 L910.1 1121.7 L910.8 1121.9 L911.6 1122 L912.3 1122.1 L913.1 1122.2 L913.8 1122.1 L914.6 1122 L915.3 1121.9 L916.1 1121.8 L916.8 1121.8 L917.6 1121.7 L918.3 1121.5 L919.1 1121.3 L919.8 1121 L920.6 1120.6 L921.3 1120.1 L922.1 1119.8 L922.8 1119.5 L923.6 1119.4 L924.3 1119.5 L925.1 1119.6 L925.8 1119.5 L926.6 1119.4 L927.3 1119.1 L928.1 1118.9 L928.8 1118.8 L929.6 1118.9 L930.3 1119.2 L931.1 1119.7 L931.8 1120.2 L932.6 1120.7 L933.3 1121 L934.1 1121.3 L934.8 1121.5 L935.6 1121.6 L936.3 1121.8 L937.1 1121.9 L937.8 1121.9 L938.6 1121.9 L939.3 1121.7 L940.1 1121.5 L940.8 1121.3 L941.6 1120.9 L942.3 1120.6 L943.1 1120.2 L943.8 1119.9 L944.6 1119.6 L945.3 1119.4 L946.1 1119.2 L946.8 1119.1 L947.6 1119.1 L948.3 1119.2 L949.1 1119.4 L949.8 1119.7 L950.6 1120 L951.3 1120.3 L952.1 1120.4 L952.8 1120.6 L953.6 1120.8 L954.3 1121.2 L955.1 1121.7 L955.8 1122.3 L956.6 1122.7 L957.3 1122.9 L958.1 1122.9 L958.8 1122.7 L959.6 1122.5 L960.3 1122.2 L961.1 1122 L961.8 1121.7 L962.6 1121.5 L963.3 1121.3 L964.1 1121 L964.8 1120.7 L965.6 1120.3 L966.3 1120 L967.1 1119.6 L967.8 1119.3 L968.6 1119.1 L969.3 1118.9 L970.1 1118.7 L970.8 1118.4 L971.6 1118.1 L972.3 1117.8 L973.1 1117.4 L973.8 1117.1 L974.6 1116.8 L975.3 1116.5 L976.1 1116.2 L976.8 1115.9 L977.6 1115.7 L978.3 1115.7 L979.1 1115.7 L979.8 1116 L980.6 1116.3 L981.3 1116.6 L982.1 1116.8 L982.8 1117 L983.6 1117.1 L984.3 1117.3 L985.1 1117.5 L985.8 1117.6 L986.6 1117.7 L987.3 1117.7 L988.1 1117.7 L988.8 1117.8 L989.6 1118 L990.3 1118.4 L991.1 1118.8 L991.8 1119.1 L992.6 1119.5 L993.3 1119.7 L994.1 1119.7 L994.8 1119.7 L995.6 1119.7 L996.3 1119.9 L997.1 1120.3 L997.8 1120.8 L998.6 1121.2 L999.3 1121.4 L1000.1 1121.5 L1000.8 1121.4 L1001.6 1121.3 L1002.3 1121.3 L1003.1 1121.3 L1003.8 1121.5 L1004.6 1121.7 L1005.3 1121.9 L1006.1 1122.1 L1006.8 1122.1 L1007.6 1122.1 L1008.3 1122.1 L1009.1 1122 L1009.8 1122 L1010.6 1122 L1011.3 1121.9 L1012.1 1121.8 L1012.8 1121.6 L1013.6 1121.4 L1014.3 1121.2 L1015.1 1120.9 L1015.8 1120.5 L1016.6 1120.3 L1017.3 1120.1 L1018.1 1120.2 L1018.8 1120.3 L1019.6 1120.4 L1020.3 1120.5 L1021.1 1120.5 L1021.8 1120.4 L1022.6 1120.4 L1023 1120.4" stroke="#cc9900"/>
<path d="M102.3 1061.8 L103.1 1061.8 L103.8 1061.9 L104.6 1062 L105.3 1062.1 L106.1 1062.1 L106.8 1062.2 L107.6 1062.3 L108.3 1062.3 L109.1 1062.3 L109.8 1062.3 L110.6 1062.3 L111.3 1062.3 L112.1 1062.2 L112.8 1062.2 L113.6 1062.2 L114.3 1062.2 L115.1 1062.4 L115.8 1062.6 L116.6 1062.8 L117.3 1062.9 L118.1 1063 L118.8 1063.1 L119.6 1063.1 L120.3 1063.2 L121.1 1063.3 L121.8 1063.4 L122.6 1063.6 L123.3 1063.7 L124.1 1063.8 L124.8 1063.9 L125.6 1063.8 L126.3 1063.8 L127.1 1063.8 L127.8 1063.7 L128.6 1063.8 L129.3 1063.9 L130.1 1064 L130.8 1064.1 L131.6 1064.1 L132.3 1064 L133.1 1063.7 L133.8 1063.4 L134.6 1063.2 L135.3 1063.2 L136.1 1063.1 L136.8 1063.1 L137.6 1063.1 L138.3 1063.1 L139.1 1063.2 L139.8 1063.2 L140.6 1063.3 L141.3 1063.4 L142.1 1063.4 L142.8 1063.7 L143.6 1064 L144.3 1064.3 L145.1 1064.6 L145.8 1064.6 L146.6 1064.6 L147.3 1064.5 L148.1 1064.4 L148.8 1064.3 L149.6 1064.2 L150.3 1064.1 L151.1 1063.9 L151.8 1063.8 L152.6 1063.7 L153.3 1063.7 L154.1 1063.6 L154.8 1063.5 L155.6 1063.5 L156.3 1063.6 L157.1 1063.7 L157.8 1064 L158.6 1064.2 L159.3 1064.4 L160.1 1064.3 L160.8 1064.2 L161.6 1064 L162.3 1063.8 L163.1 1063.8 L163.8 1063.8 L164.6 1063.9 L165.3 1064 L166.1 1064.1 L166.8 1064.3 L167.6 1064.5 L168.3 1064.7 L169.1 1064.9 L169.8 1065 L170.6 1064.9 L171.3 1064.8 L172.1 1064.6 L172.8 1064.4 L173.6 1064.4 L174.3 1064.6 L175.1 1064.8 L175.8 1065.1 L176.6 1065.3 L177.3 1065.3 L178.1 1065 L178.8 1064.5 L179.6 1064.1 L180.3 1063.9 L181.1 1063.9 L181.8 1064.1 L182.6 1064.1 L183.3 1064 L184.1 1063.7 L184.8 1063.3 L185.6 1062.7 L186.3 1062 L187.1 1061.3 L187.8 1060.5 L188.6 1058.9 L189.3 1056.9 L190.1 1054.6 L190.8 1052.3 L191.6 1049.5 L192.3 1046 L193.1 1042.6 L193.8 1039.9 L194.6 1038.8 L195.3 1040 L196.1 1043.4 L196.8 1047.8 L197.6 1052.4 L198.3 1056.2 L199.1 1060.4 L199.8 1063.9 L200.6 1065.1 L201.3 1065.1 L202.1 1065.1 L202.8 1065.2 L203.6 1065.3 L204.3 1065.3 L205.1 1065.4 L205.8 1065.4 L206.6 1065.5 L207.3 1065.5 L208.1 1065.6 L208.8 1065.6 L209.6 1065.8 L210.3 1065.9 L211.1 1066 L211.8 1066.1 L212.6 1066 L213.3 1065.9 L214.1 1065.7 L214.8 1065.6 L215.6 1065.6 L216.3 1065.7 L217.1 1065.9 L217.8 1066.1 L218.6 1066.2 L219.3 1066.3 L220.1 1066.2 L220.8 1066.2 L221.6 1066.1 L222.3 1066.1 L223.1 1066 L223.8 1066 L224.6 1066 L225.3 1066 L226.1 1065.9 L226.8 1065.9 L227.6 1065.9 L228.3 1065.9 L229.1 1065.8 L229.8 1065.8 L230.6 1065.7 L231.3 1065.5 L232.1 1065.3 L232.8 1065.2 L233.6 1065.3 L234.3 1065.4 L235.1 1065.7 L235.8 1065.8 L236.6 1065.9 L237.3 1065.9 L238.1 1066 L238.8 1066 L239.6 1066 L240.3 1066 L241.1 1066 L241.8 1066 L242.6 1066 L243.3 1066 L244.1 1066 L244.8 1065.9 L245.6 1065.8 L246.3 1065.8 L247.1 1065.7 L247.8 1065.7 L248.6 1065.7 L249.3 1065.8 L250.1 1065.8 L250.8 1065.7 L251.6 1065.7 L252.3 1065.6 L253.1 1065.5 L253.8 1065.4 L254.6 1065.5 L255.3 1065.6 L256.1 1065.8 L256.8 1066 L257.6 1066 L258.3 1066 L259.1 1065.9 L259.8 1065.9 L260.6 1065.8 L261.3 1065.5 L262.1 1065.1 L262.8 1064.5 L263.6 1063.8 L264.3 1063 L265.1 1062.2 L265.8 1061.2 L266.6 1059.8 L267.3 1057.5 L268.1 1054.8 L268.8 1052.3 L269.6 1049.6 L270.3 1047 L271.1 1045.6 L271.8 1046.6 L272.6 1049.7 L273.3 1053.6 L274.1 1057 L274.8 1059.7 L275.6 1062.4 L276.3 1064.5 L277.1 1065.2 L277.8 1065.2 L278.6 1065 L279.3 1064.6 L280.1 1064 L280.8 1063.3 L281.6 1062.3 L282.3 1060.9 L283.1 1059.2 L283.8 1057.5 L284.6 1055.7 L285.3 1054 L286.1 1052.7 L286.8 1051.6 L287.6 1050.5 L288.3 1049.4 L289.1 1048.4 L289.8 1047.4 L290.6 1046.7 L291.3 1046.2 L292.1 1046 L292.8 1046.2 L293.6 1046.7 L294.3 1047.4 L295.1 1048.2 L295.8 1049.2 L296.6 1050 L297.3 1050.6 L298.1 1050.7 L298.8 1050.5 L299.6 1050 L300.3 1049.3 L301.1 1048.3 L301.8 1047.3 L302.6 1046.4 L303.3 1045.9 L304.1 1045.8 L304.8 1046.2 L305.6 1047.5 L306.3 1049.3 L307.1 1051.2 L307.8 1053.3 L308.6 1055.1 L309.3 1056.4 L310.1 1057.2 L310.8 1057.8 L311.6 1058.4 L312.3 1058.9 L313.1 1059.4 L313.8 1059.9 L314.6 1060.4 L315.3 1061 L316.1 1061.4 L316.8 1061.5 L317.6 1061.4 L318.3 1060.9 L319.1 1060.3 L319.8 1059.6 L320.6 1058.8 L321.3 1058.1 L322.1 1057 L322.8 1055.3 L323.6 1053.3 L324.3 1051.2 L325.1 1049.2 L325.8 1047.8 L326.6 1047.3 L327.3 1047.7 L328.1 1048.7 L328.8 1050.1 L329.6 1051.6 L330.3 1052.9 L331.1 1053.7 L331.8 1053.8 L332.6 1053.7 L333.3 1053.5 L334.1 1053.3 L334.8 1053.1 L335.6 1052.9 L336.3 1052.8 L337.1 1052.9 L337.8 1053.2 L338.6 1053.7 L339.3 1054.3 L340.1 1054.9 L340.8 1055.4 L341.6 1055.6 L342.3 1054.9 L343.1 1053.2 L343.8 1050.8 L344.6 1048.2 L345.3 1045.8 L346.1 1042.6 L346.8 1039.1 L347.6 1036.2 L348.3 1035.1 L349.1 1036.1 L349.8 1038.7 L350.6 1042 L351.3 1045.4 L352.1 1048.1 L352.8 1050.9 L353.6 1053.6 L354.3 1055.8 L355.1 1057.3 L355.8 1058.5 L356.6 1059.5 L357.3 1060.4 L358.1 1061.2 L358.8 1061.8 L359.6 1062.3 L360.3 1062.6 L361.1 1062.6 L361.8 1062.3 L362.6 1061.9 L363.3 1061.2 L364.1 1060.3 L364.8 1059.5 L365.6 1058.5 L366.3 1057.3 L367.1 1056.1 L367.8 1055.2 L368.6 1054.5 L369.3 1054.3 L370.1 1054.7 L370.8 1055.5 L371.6 1056.6 L372.3 1058.1 L373.1 1059.8 L373.8 1061.3 L374.6 1062.3 L375.3 1062.5 L376.1 1062.3 L376.8 1061.8 L377.6 1061.3 L378.3 1060.9 L379.1 1060.6 L379.8 1060.7 L380.6 1060.8 L381.3 1061 L382.1 1061.1 L382.8 1061.3 L383.6 1061.4 L384.3 1061.4 L385.1 1061.3 L385.8 1061 L386.6 1060 L387.3 1058.5 L388.1 1056.6 L388.8 1054.5 L389.6 1052.2 L390.3 1049.3 L391.1 1045.4 L391.8 1041 L392.6 1036.6 L393.3 1032.3 L394.1 1027 L394.8 1022.1 L395.6 1019.4 L396.3 1020.2 L397.1 1024 L397.8 1029.3 L398.6 1034.7 L399.3 1040.5 L400.1 1044.3 L400.8 1044.8 L401.6 1045 L402.3 1044.9 L403.1 1044.8 L403.8 1045.4 L404.6 1049 L405.3 1054.4 L406.1 1059.8 L406.8 1063.6 L407.6 1064.4 L408.3 1064.4 L409.1 1064.5 L409.8 1064.6 L410.6 1064.7 L411.3 1064.7 L412.1 1064.8 L412.8 1064.8 L413.6 1064.8 L414.3 1064.8 L415.1 1064.8 L415.8 1064.7 L416.6 1064.6 L417.3 1064.4 L418.1 1064.2 L418.8 1064.1 L419.6 1064 L420.3 1064 L421.1 1063.9 L421.8 1063.6 L422.6 1063.2 L423.3 1062.9 L424.1 1062.5 L424.8 1062.1 L425.6 1061.5 L426.3 1061 L427.1 1060.6 L427.8 1060.2 L428.6 1060 L429.3 1060 L430.1 1060.3 L430.8 1061.1 L431.6 1062.1 L432.3 1063.1 L433.1 1064.2 L433.8 1065.1 L434.6 1065.6 L435.3 1065.7 L436.1 1065.7 L436.8 1065.5 L437.6 1065.2 L438.3 1064.9 L439.1 1064.7 L439.8 1064.5 L440.6 1064.5 L441.3 1064.5 L442.1 1064.6 L442.8 1064.5 L443.6 1064.2 L444.3 1063.9 L445.1 1063.7 L445.8 1063.4 L446.6 1063.1 L447.3 1062.7 L448.1 1062.2 L448.8 1061.7 L449.6 1061.3 L450.3 1061.1 L451.1 1061 L451.8 1061 L452.6 1061 L453.3 1061 L454.1 1061 L454.8 1061 L455.6 1060.9 L456.3 1060.8 L457.1 1060.5 L457.8 1059.8 L458.6 1058.7 L459.3 1057.6 L460.1 1056.5 L460.8 1055.7 L461.6 1055.1 L462.3 1054.8 L463.1 1055 L463.8 1056.1 L464.6 1057.7 L465.3 1059.6 L466.1 1061.3 L466.8 1062.6 L467.6 1063.1 L468.3 1062.5 L469.1 1061.1 L469.8 1059.2 L470.6 1057.2 L471.3 1055.4 L472.1 1054 L472.8 1053.5 L473.6 1053.7 L474.3 1054.1 L475.1 1054.7 L475.8 1055.4 L476.6 1055.9 L477.3 1056.4 L478.1 1056.5 L478.8 1056.2 L479.6 1055.6 L480.3 1054.6 L481.1 1053.5 L481.8 1052.2 L482.6 1051 L483.3 1049.9 L484.1 1049.3 L484.8 1049.3 L485.6 1050.5 L486.3 1052.4 L487.1 1054.9 L487.8 1057.6 L488.6 1060.1 L489.3 1062.3 L490.1 1063.7 L490.8 1064.3 L491.6 1064.7 L492.3 1064.7 L493.1 1064.6 L493.8 1064.4 L494.6 1064.2 L495.3 1064.2 L496.1 1064.3 L496.8 1064.5 L497.6 1064.8 L498.3 1065 L499.1 1065.1 L499.8 1065.1 L500.6 1065.1 L501.3 1064.7 L502.1 1064 L502.8 1063 L503.6 1061.7 L504.3 1060.4 L505.1 1059.2 L505.8 1058.5 L506.6 1058.6 L507.3 1059.1 L508.1 1059.9 L508.8 1060.5 L509.6 1060.4 L510.3 1058.7 L511.1 1056 L511.8 1053.2 L512.6 1050.8 L513.3 1048.3 L514.1 1045.7 L514.8 1043.8 L515.6 1043 L516.3 1043.9 L517.1 1046.1 L517.8 1048.8 L518.6 1051.2 L519.3 1053 L520.1 1053.5 L520.8 1052.8 L521.6 1051.4 L522.3 1049.6 L523.1 1047.7 L523.8 1046.1 L524.6 1045.2 L525.3 1045.2 L526.1 1046.4 L526.8 1048.6 L527.6 1051.5 L528.3 1054.7 L529.1 1058 L529.8 1060.9 L530.6 1063.1 L531.3 1064.2 L532.1 1064.2 L532.8 1063.9 L533.6 1063.3 L534.3 1062.7 L535.1 1061.8 L535.8 1060.9 L536.6 1060.1 L537.3 1059.7 L538.1 1059.8 L538.8 1060.4 L539.6 1061.1 L540.3 1062 L541.1 1062.9 L541.8 1063.6 L542.6 1064 L543.3 1064.1 L544.1 1063.9 L544.8 1063.6 L545.6 1063.3 L546.3 1063 L547.1 1062.7 L547.8 1062.4 L548.6 1062.1 L549.3 1061.8 L550.1 1061.6 L550.8 1061.4 L551.6 1061.5 L552.3 1061.7 L553.1 1062.1 L553.8 1062.5 L554.6 1062.9 L555.3 1063.1 L556.1 1063.2 L556.8 1063.3 L557.6 1063.4 L558.3 1063.5 L559.1 1063.6 L559.8 1063.8 L560.6 1064 L561.3 1064.2 L562.1 1064.4 L562.8 1064.6 L563.6 1064.8 L564.3 1065 L565.1 1065.2 L565.8 1065.3 L566.6 1065.6 L567.3 1066 L568.1 1066.1 L568.8 1066 L569.6 1065.5 L570.3 1064.8 L571.1 1064 L571.8 1063.2 L572.6 1062.8 L573.3 1062.6 L574.1 1062.7 L574.8 1063 L575.6 1063.4 L576.3 1063.9 L577.1 1064.4 L577.8 1064.8 L578.6 1065.1 L579.3 1065.4 L580.1 1065.8 L580.8 1066 L581.6 1066.3 L582.3 1066.5 L583.1 1066.5 L583.8 1066.4 L584.6 1066.3 L585.3 1066.1 L586.1 1066 L586.8 1065.9 L587.6 1065.9 L588.3 1065.8 L589.1 1065.7 L589.8 1065.6 L590.6 1065.5 L591.3 1065.4 L592.1 1065.4 L592.8 1065.3 L593.6 1065.1 L594.3 1064.7 L595.1 1063.9 L595.8 1062.8 L596.6 1061.7 L597.3 1060.7 L598.1 1059.7 L598.8 1058.8 L599.6 1058.1 L600.3 1057.2 L601.1 1056.2 L601.8 1055.2 L602.6 1054.4 L603.3 1053.8 L604.1 1053.8 L604.8 1054.3 L605.6 1055.3 L606.3 1056.5 L607.1 1057.9 L607.8 1059.2 L608.6 1060.5 L609.3 1062.2 L610.1 1063.8 L610.8 1064.7 L611.6 1064.7 L612.3 1064.3 L613.1 1063.7 L613.8 1063 L614.6 1062.2 L615.3 1061.4 L616.1 1060.7 L616.8 1060 L617.6 1059.1 L618.3 1057.9 L619.1 1056.5 L619.8 1055 L620.6 1053.6 L621.3 1052.5 L622.1 1051.9 L622.8 1051.7 L623.6 1052.3 L624.3 1053.6 L625.1 1055.4 L625.8 1057.2 L626.6 1058.9 L627.3 1060.3 L628.1 1061.1 L628.8 1061.3 L629.6 1061.5 L630.3 1061.8 L631.1 1062 L631.8 1062.1 L632.6 1062 L633.3 1061.8 L634.1 1061.5 L634.8 1061.3 L635.6 1061.2 L636.3 1061.2 L637.1 1061.3 L637.8 1061.3 L638.6 1061.4 L639.3 1061.3 L640.1 1061.1 L640.8 1060.9 L641.6 1060.7 L642.3 1060.5 L643.1 1060.3 L643.8 1060.1 L644.6 1059.9 L645.3 1059.8 L646.1 1059.6 L646.8 1059.4 L647.6 1059 L648.3 1058.8 L649.1 1059 L649.8 1059.5 L650.6 1060.4 L651.3 1061.4 L652.1 1062.3 L652.8 1062.8 L653.6 1062.8 L654.3 1062.7 L655.1 1062.4 L655.8 1062.1 L656.6 1061.7 L657.3 1061.4 L658.1 1061 L658.8 1060.7 L659.6 1060.6 L660.3 1060.9 L661.1 1061.5 L661.8 1062.2 L662.6 1063 L663.3 1063.7 L664.1 1064.1 L664.8 1064.3 L665.6 1064.4 L666.3 1064.2 L667.1 1064 L667.8 1063.7 L668.6 1063.4 L669.3 1063.2 L670.1 1063 L670.8 1062.9 L671.6 1063.1 L672.3 1063.6 L673.1 1064.2 L673.8 1064.9 L674.6 1065.6 L675.3 1066.1 L676.1 1066.4 L676.8 1066.4 L677.6 1066.4 L678.3 1066.2 L679.1 1065.9 L679.8 1065.6 L680.6 1065.4 L681.3 1065.3 L682.1 1065.2 L682.8 1065.2 L683.6 1065.2 L684.3 1065.1 L685.1 1065.1 L685.8 1065.1 L686.6 1065.2 L687.3 1065.2 L688.1 1065.1 L688.8 1065.1 L689.6 1065 L690.3 1064.9 L691.1 1064.8 L691.8 1064.7 L692.6 1064.4 L693.3 1064 L694.1 1063.6 L694.8 1063.4 L695.6 1063.4 L696.3 1063.5 L697.1 1063.7 L697.8 1063.8 L698.6 1063.8 L699.3 1063.6 L700.1 1063.5 L700.8 1063.3 L701.6 1063 L702.3 1062.7 L703.1 1062.4 L703.8 1062 L704.6 1061.6 L705.3 1061.2 L706.1 1060.5 L706.8 1059.4 L707.6 1057.8 L708.3 1056.1 L709.1 1054.8 L709.8 1054.4 L710.6 1054.8 L711.3 1055.5 L712.1 1056.2 L712.8 1056.7 L713.6 1057.2 L714.3 1057.5 L715.1 1057.5 L715.8 1057.2 L716.6 1056.4 L717.3 1055.5 L718.1 1054.5 L718.8 1053.6 L719.6 1053.1 L720.3 1052.9 L721.1 1052.9 L721.8 1053.3 L722.6 1053.8 L723.3 1054.6 L724.1 1055.5 L724.8 1056.4 L725.6 1057.3 L726.3 1058.2 L727.1 1059 L727.8 1059.6 L728.6 1060 L729.3 1060.2 L730.1 1060.2 L730.8 1060 L731.6 1059.8 L732.3 1059.5 L733.1 1059.2 L733.8 1058.9 L734.6 1058.6 L735.3 1058.4 L736.1 1058.2 L736.8 1058.1 L737.6 1058.2 L738.3 1058.5 L739.1 1058.9 L739.8 1059.3 L740.6 1059.8 L741.3 1060.2 L742.1 1060.6 L742.8 1061 L743.6 1061.3 L744.3 1061.4 L745.1 1061.2 L745.8 1060.8 L746.6 1060.3 L747.3 1059.7 L748.1 1059.2 L748.8 1058.8 L749.6 1058.4 L750.3 1057.9 L751.1 1057.4 L751.8 1057 L752.6 1056.6 L753.3 1056.3 L754.1 1056.2 L754.8 1056.3 L755.6 1056.6 L756.3 1057 L757.1 1057.6 L757.8 1058.5 L758.6 1059.7 L759.3 1061.1 L760.1 1062.3 L760.8 1063.3 L761.6 1063.8 L762.3 1063.9 L763.1 1063.8 L763.8 1063.6 L764.6 1063.3 L765.3 1063 L766.1 1062.8 L766.8 1062.5 L767.6 1062.1 L768.3 1061.7 L769.1 1061.2 L769.8 1060.4 L770.6 1059.6 L771.3 1058.9 L772.1 1058.4 L772.8 1058.3 L773.6 1058.3 L774.3 1058.4 L775.1 1058.5 L775.8 1058.8 L776.6 1059.2 L777.3 1059.6 L778.1 1060.1 L778.8 1060.7 L779.6 1061.4 L780.3 1062 L781.1 1062.6 L781.8 1063 L782.6 1063.4 L783.3 1063.6 L784.1 1063.5 L784.8 1063.5 L785.6 1063.5 L786.3 1063.5 L787.1 1063.5 L787.8 1063.6 L788.6 1063.7 L789.3 1063.8 L790.1 1063.8 L790.8 1063.9 L791.6 1063.9 L792.3 1064 L793.1 1064 L793.8 1064.1 L794.6 1064.2 L795.3 1064.3 L796.1 1064.4 L796.8 1064.4 L797.6 1064.3 L798.3 1064.3 L799.1 1064.2 L799.8 1064.1 L800.6 1064 L801.3 1063.4 L802.1 1062.3 L802.8 1060.8 L803.6 1059.3 L804.3 1057.9 L805.1 1056.6 L805.8 1054.7 L806.6 1052.5 L807.3 1050.3 L808.1 1048.9 L808.8 1048.9 L809.6 1050.5 L810.3 1053 L811.1 1055.9 L811.8 1058.4 L812.6 1060.2 L813.3 1062 L814.1 1063.3 L814.8 1063.4 L815.6 1063.1 L816.3 1062.8 L817.1 1062.6 L817.8 1062.6 L818.6 1062.7 L819.3 1062.8 L820.1 1062.9 L820.8 1063 L821.6 1063 L822.3 1063.1 L823.1 1063.2 L823.8 1063.2 L824.6 1063.1 L825.3 1063.1 L826.1 1063 L826.8 1063 L827.6 1062.9 L828.3 1062.9 L829.1 1063 L829.8 1063.1 L830.6 1063.3 L831.3 1063.4 L832.1 1063.4 L832.8 1063.4 L833.6 1063.4 L834.3 1063.4 L835.1 1063.4 L835.8 1063.4 L836.6 1063.5 L837.3 1063.6 L838.1 1063.6 L838.8 1063.7 L839.6 1063.5 L840.3 1063.3 L841.1 1063.2 L841.8 1063.1 L842.6 1063.2 L843.3 1063.3 L844.1 1063.4 L844.8 1063.5 L845.6 1063.6 L846.3 1063.7 L847.1 1063.8 L847.8 1063.8 L848.6 1063.9 L849.3 1063.9 L850.1 1064 L850.8 1064.2 L851.6 1064.3 L852.3 1064.3 L853.1 1064.3 L853.8 1064.2 L854.6 1064.1 L855.3 1063.9 L856.1 1063.8 L856.8 1063.7 L857.6 1063.6 L858.3 1063.5 L859.1 1063.4 L859.8 1063.4 L860.6 1063.5 L861.3 1063.6 L862.1 1063.7 L862.8 1063.8 L863.6 1063.9 L864.3 1064 L865.1 1064.1 L865.8 1064.1 L866.6 1064.1 L867.3 1064 L868.1 1063.7 L868.8 1063.4 L869.6 1063.2 L870.3 1063.2 L871.1 1063.2 L871.8 1063.2 L872.6 1063.2 L873.3 1063.3 L874.1 1063.4 L874.8 1063.5 L875.6 1063.5 L876.3 1063.6 L877.1 1063.4 L877.8 1063.2 L878.6 1062.8 L879.3 1062.5 L880.1 1062.2 L880.8 1062.1 L881.6 1062 L882.3 1062 L883.1 1062 L883.8 1062.1 L884.6 1062.2 L885.3 1062.2 L886.1 1062.2 L886.8 1062.3 L887.6 1062.5 L888.3 1062.8 L889.1 1063.1 L889.8 1063.4 L890.6 1063.6 L891.3 1063.7 L892.1 1063.8 L892.8 1063.8 L893.6 1063.7 L894.3 1063.6 L895.1 1063.5 L895.8 1063.5 L896.6 1063.5 L897.3 1063.4 L898.1 1063.3 L898.8 1063 L899.6 1062.6 L900.3 1062.3 L901.1 1062 L901.8 1061.9 L902.6 1061.8 L903.3 1061.8 L904.1 1061.9 L904.8 1062 L905.6 1062.2 L906.3 1062.6 L907.1 1063 L907.8 1063.4 L908.6 1063.7 L909.3 1064 L910.1 1064.1 L910.8 1064.2 L911.6 1064.3 L912.3 1064.4 L913.1 1064.6 L913.8 1064.8 L914.6 1064.9 L915.3 1064.9 L916.1 1065 L916.8 1065 L917.6 1065.1 L918.3 1065 L919.1 1064.9 L919.8 1064.6 L920.6 1064.3 L921.3 1064 L922.1 1063.7 L922.8 1063.4 L923.6 1063 L924.3 1062.7 L925.1 1062.4 L925.8 1062.2 L926.6 1062.1 L927.3 1062 L928.1 1061.9 L928.8 1061.9 L929.6 1062 L930.3 1062.1 L931.1 1062.2 L931.8 1062.4 L932.6 1062.7 L933.3 1063 L934.1 1063.3 L934.8 1063.7 L935.6 1064 L936.3 1064.2 L937.1 1064.3 L937.8 1064.3 L938.6 1064.1 L939.3 1063.9 L940.1 1063.7 L940.8 1063.6 L941.6 1063.4 L942.3 1063.3 L943.1 1063.1 L943.8 1062.9 L944.6 1062.8 L945.3 1062.6 L946.1 1062.5 L946.8 1062.4 L947.6 1062.3 L948.3 1062.2 L949.1 1062.2 L949.8 1062.4 L950.6 1062.6 L951.3 1063 L952.1 1063.3 L952.8 1063.7 L953.6 1064.1 L954.3 1064.5 L955.1 1064.8 L955.8 1065 L956.6 1065.2 L957.3 1065.3 L958.1 1065.3 L958.8 1065.3 L959.6 1065.2 L960.3 1065.1 L961.1 1065 L961.8 1064.6 L962.6 1064.1 L963.3 1063.5 L964.1 1063.1 L964.8 1062.8 L965.6 1062.9 L966.3 1063 L967.1 1063.1 L967.8 1063.1 L968.6 1062.8 L969.3 1062.5 L970.1 1062.2 L970.8 1061.8 L971.6 1061.4 L972.3 1060.9 L973.1 1060.3 L973.8 1059.7 L974.6 1059.2 L975.3 1058.8 L976.1 1058.5 L976.8 1058.3 L977.6 1058.2 L978.3 1058.1 L979.1 1058 L979.8 1058 L980.6 1058.1 L981.3 1058.2 L982.1 1058.3 L982.8 1058.4 L983.6 1058.5 L984.3 1058.6 L985.1 1058.7 L985.8 1059 L986.6 1059.3 L987.3 1059.5 L988.1 1059.8 L988.8 1060.1 L989.6 1060.4 L990.3 1060.9 L991.1 1061.5 L991.8 1062 L992.6 1062.3 L993.3 1062.5 L994.1 1062.4 L994.8 1062.4 L995.6 1062.4 L996.3 1062.6 L997.1 1062.9 L997.8 1063.3 L998.6 1063.7 L999.3 1063.9 L1000.1 1063.9 L1000.8 1063.9 L1001.6 1063.8 L1002.3 1063.8 L1003.1 1063.8 L1003.8 1064 L1004.6 1064.4 L1005.3 1064.7 L1006.1 1065 L1006.8 1065 L1007.6 1064.8 L1008.3 1064.4 L1009.1 1064.1 L1009.8 1063.9 L1010.6 1063.9 L1011.3 1063.9 L1012.1 1063.9 L1012.8 1063.8 L1013.6 1063.8 L1014.3 1063.9 L1015.1 1064 L1015.8 1064.1 L1016.6 1064.1 L1017.3 1064 L1018.1 1063.7 L1018.8 1063.3 L1019.6 1063 L1020.3 1062.8 L1021.1 1062.8 L1021.8 1062.9 L1022.6 1062.9 L1023 1063" stroke="#00cbcc"/>
<path d="M102.3 1007.9 L103.1 1008 L103.8 1008.1 L104.6 1008 L105.3 1007.9 L106.1 1007.9 L106.8 1007.9 L107.6 1008 L108.3 1008.2 L109.1 1008.4 L109.8 1008.6 L110.6 1008.8 L111.3 1008.8 L112.1 1008.8 L112.8 1008.8 L113.6 1008.8 L114.3 1008.9 L115.1 1009.1 L115.8 1009.4 L116.6 1009.7 L117.3 1009.8 L118.1 1009.9 L118.8 1009.7 L119.6 1009.6 L120.3 1009.5 L121.1 1009.5 L121.8 1009.5 L122.6 1009.6 L123.3 1009.6 L124.1 1009.7 L124.8 1009.7 L125.6 1009.5 L126.3 1009.2 L127.1 1009 L127.8 1008.9 L128.6 1009.1 L129.3 1009.4 L130.1 1009.8 L130.8 1010.2 L131.6 1010.3 L132.3 1010.3 L133.1 1010.2 L133.8 1010.2 L134.6 1010.1 L135.3 1010.2 L136.1 1010.5 L136.8 1010.8 L137.6 1011.1 L138.3 1011.3 L139.1 1011.2 L139.8 1010.9 L140.6 1010.4 L141.3 1010 L142.1 1010 L142.8 1010.1 L143.6 1010.4 L144.3 1010.7 L145.1 1010.9 L145.8 1010.9 L146.6 1010.9 L147.3 1010.7 L148.1 1010.5 L148.8 1010.5 L149.6 1010.6 L150.3 1010.9 L151.1 1011.3 L151.8 1011.7 L152.6 1011.8 L153.3 1011.9 L154.1 1011.9 L154.8 1012 L155.6 1012 L156.3 1012 L157.1 1012.1 L157.8 1012.1 L158.6 1012.2 L159.3 1012.2 L160.1 1012.1 L160.8 1011.9 L161.6 1011.7 L162.3 1011.5 L163.1 1011.4 L163.8 1011.3 L164.6 1011.3 L165.3 1011.3 L166.1 1011.2 L166.8 1011.3 L167.6 1011.4 L168.3 1011.5 L169.1 1011.7 L169.8 1011.8 L170.6 1011.7 L171.3 1011.7 L172.1 1011.6 L172.8 1011.5 L173.6 1011.4 L174.3 1011.4 L175.1 1011.3 L175.8 1011.3 L176.6 1011.3 L177.3 1011.3 L178.1 1011.3 L178.8 1011.3 L179.6 1011.4 L180.3 1011.4 L181.1 1011.4 L181.8 1011.4 L182.6 1011.1 L183.3 1010.6 L184.1 1010 L184.8 1009.1 L185.6 1008.2 L186.3 1007 L187.1 1005.3 L187.8 1003.1 L188.6 1000.9 L189.3 998.4 L190.1 994.4 L190.8 989.5 L191.6 985 L192.3 982.4 L193.1 982.9 L193.8 986.7 L194.6 992.2 L195.3 998 L196.1 1002.4 L196.8 1006 L197.6 1009.4 L198.3 1011.9 L199.1 1012.5 L199.8 1012.2 L200.6 1011.9 L201.3 1011.8 L202.1 1011.9 L202.8 1012 L203.6 1012.3 L204.3 1012.5 L205.1 1012.5 L205.8 1012.5 L206.6 1012.4 L207.3 1012.4 L208.1 1012.3 L208.8 1012.3 L209.6 1012.3 L210.3 1012.3 L211.1 1012.3 L211.8 1012.3 L212.6 1012.3 L213.3 1012.5 L214.1 1012.7 L214.8 1012.9 L215.6 1012.9 L216.3 1012.7 L217.1 1012.2 L217.8 1011.7 L218.6 1011.4 L219.3 1011.4 L220.1 1011.7 L220.8 1012.2 L221.6 1012.6 L222.3 1012.9 L223.1 1012.9 L223.8 1012.8 L224.6 1012.6 L225.3 1012.5 L226.1 1012.4 L226.8 1012.4 L227.6 1012.3 L228.3 1012.2 L229.1 1012.2 L229.8 1012.2 L230.6 1012.3 L231.3 1012.4 L232.1 1012.6 L232.8 1012.6 L233.6 1012.5 L234.3 1012.3 L235.1 1012 L235.8 1011.8 L236.6 1011.7 L237.3 1011.9 L238.1 1012.2 L238.8 1012.5 L239.6 1012.8 L240.3 1012.8 L241.1 1012.7 L241.8 1012.6 L242.6 1012.5 L243.3 1012.4 L244.1 1012.3 L244.8 1012 L245.6 1011.8 L246.3 1011.6 L247.1 1011.5 L247.8 1011.5 L248.6 1011.5 L249.3 1011.5 L250.1 1011.5 L250.8 1011.6 L251.6 1011.7 L252.3 1011.8 L253.1 1012 L253.8 1012.1 L254.6 1012.2 L255.3 1012.2 L256.1 1012.3 L256.8 1012.3 L257.6 1012.4 L258.3 1012.3 L259.1 1012.1 L259.8 1012 L260.6 1011.8 L261.3 1011.8 L262.1 1012 L262.8 1012.2 L263.6 1012.4 L264.3 1012.5 L265.1 1012.6 L265.8 1012.7 L266.6 1012.7 L267.3 1012.7 L268.1 1012.7 L268.8 1012.7 L269.6 1012.7 L270.3 1012.6 L271.1 1012.5 L271.8 1012.4 L272.6 1012.3 L273.3 1012.2 L274.1 1012.1 L274.8 1012 L275.6 1012 L276.3 1012.1 L277.1 1012.1 L277.8 1012.1 L278.6 1011.6 L279.3 1010.4 L280.1 1008.8 L280.8 1007.1 L281.6 1005.1 L282.3 1002.3 L283.1 999.9 L283.8 998.9 L284.6 998.5 L285.3 998.1 L286.1 997.7 L286.8 997.3 L287.6 996.7 L288.3 995.7 L289.1 993.9 L289.8 992.1 L290.6 991.1 L291.3 991.4 L292.1 992.5 L292.8 994.2 L293.6 996.1 L294.3 997.8 L295.1 999 L295.8 999.3 L296.6 999 L297.3 998.4 L298.1 997.6 L298.8 996.6 L299.6 995.5 L300.3 994.5 L301.1 993.7 L301.8 993.2 L302.6 993.2 L303.3 993.9 L304.1 995.2 L304.8 996.9 L305.6 998.9 L306.3 1000.8 L307.1 1002.5 L307.8 1003.6 L308.6 1004.3 L309.3 1004.8 L310.1 1005.4 L310.8 1006 L311.6 1006.5 L312.3 1007 L313.1 1007.4 L313.8 1007.7 L314.6 1008 L315.3 1008.2 L316.1 1008.2 L316.8 1008.3 L317.6 1008.2 L318.3 1008.1 L319.1 1007.8 L319.8 1007.4 L320.6 1006.8 L321.3 1005.9 L322.1 1004.3 L322.8 1002.5 L323.6 1001.3 L324.3 1000.9 L325.1 1001.3 L325.8 1002.2 L326.6 1003.4 L327.3 1004.7 L328.1 1005.9 L328.8 1006.9 L329.6 1007.4 L330.3 1007.4 L331.1 1007.1 L331.8 1006.9 L332.6 1006.9 L333.3 1007.2 L334.1 1007.6 L334.8 1007.9 L335.6 1008.3 L336.3 1008.7 L337.1 1009 L337.8 1009.2 L338.6 1009.4 L339.3 1009.1 L340.1 1007.7 L340.8 1005.3 L341.6 1002.2 L342.3 998.8 L343.1 995.3 L343.8 989.9 L344.6 983.8 L345.3 978.5 L346.1 975.8 L346.8 976.5 L347.6 979.6 L348.3 984.2 L349.1 989.4 L349.8 994.4 L350.6 998.3 L351.3 1000.8 L352.1 1003 L352.8 1004.9 L353.6 1006.4 L354.3 1007.2 L355.1 1007.4 L355.8 1007.6 L356.6 1007.9 L357.3 1008.2 L358.1 1008.5 L358.8 1008.7 L359.6 1008.8 L360.3 1008.8 L361.1 1008.4 L361.8 1007.2 L362.6 1005.4 L363.3 1003.4 L364.1 1001.3 L364.8 997.7 L365.6 993.5 L366.3 990 L367.1 988.7 L367.8 989.9 L368.6 992.9 L369.3 997.2 L370.1 1001.9 L370.8 1006.3 L371.6 1009.3 L372.3 1010.3 L373.1 1010 L373.8 1009.3 L374.6 1008.5 L375.3 1007.6 L376.1 1007.1 L376.8 1007 L377.6 1007 L378.3 1007.1 L379.1 1007.3 L379.8 1007.5 L380.6 1007.7 L381.3 1008 L382.1 1008.3 L382.8 1008.6 L383.6 1008.7 L384.3 1008.8 L385.1 1008.7 L385.8 1008.7 L386.6 1008.6 L387.3 1008.6 L388.1 1008.5 L388.8 1008.5 L389.6 1008.4 L390.3 1008.4 L391.1 1008.5 L391.8 1008.5 L392.6 1008.5 L393.3 1008.5 L394.1 1008.3 L394.8 1008 L395.6 1007.6 L396.3 1006.3 L397.1 1004 L397.8 1001.2 L398.6 998.1 L399.3 993.6 L400.1 988.7 L400.8 985 L401.6 983.8 L402.3 985.6 L403.1 989.6 L403.8 994.8 L404.6 1000.1 L405.3 1004.6 L406.1 1007.3 L406.8 1007.4 L407.6 1005.7 L408.3 1002.9 L409.1 999.5 L409.8 996.1 L410.6 993.4 L411.3 991.8 L412.1 991.9 L412.8 993.3 L413.6 995.6 L414.3 998.5 L415.1 1001.6 L415.8 1004.6 L416.6 1007.2 L417.3 1009.1 L418.1 1009.7 L418.8 1009.7 L419.6 1009.6 L420.3 1009.4 L421.1 1009.2 L421.8 1009.2 L422.6 1009.2 L423.3 1009.3 L424.1 1009.4 L424.8 1009.5 L425.6 1009.6 L426.3 1009.6 L427.1 1009.6 L427.8 1009.7 L428.6 1009.8 L429.3 1010.1 L430.1 1010.4 L430.8 1010.5 L431.6 1010.5 L432.3 1010.5 L433.1 1010.4 L433.8 1010.3 L434.6 1010.1 L435.3 1009.9 L436.1 1009.7 L436.8 1009.6 L437.6 1009.6 L438.3 1009.7 L439.1 1009.8 L439.8 1009.8 L440.6 1009.7 L441.3 1009.6 L442.1 1009.5 L442.8 1009.5 L443.6 1009.5 L444.3 1009.5 L445.1 1009.6 L445.8 1009.6 L446.6 1009.7 L447.3 1009.7 L448.1 1009.8 L448.8 1009.8 L449.6 1009.9 L450.3 1010 L451.1 1010.2 L451.8 1010.4 L452.6 1010.7 L453.3 1010.8 L454.1 1010.9 L454.8 1010.9 L455.6 1011 L456.3 1011 L457.1 1011 L457.8 1010.9 L458.6 1010.7 L459.3 1010.4 L460.1 1010.3 L460.8 1010.3 L461.6 1010.4 L462.3 1010.5 L463.1 1010.3 L463.8 1009.2 L464.6 1007.3 L465.3 1005.2 L466.1 1003.2 L466.8 1001.4 L467.6 999.2 L468.3 997 L469.1 995 L469.8 993.6 L470.6 993.2 L471.3 993.7 L472.1 994.7 L472.8 996.1 L473.6 997.6 L474.3 999 L475.1 1000.1 L475.8 1000.7 L476.6 1000.6 L477.3 999.5 L478.1 997.8 L478.8 995.7 L479.6 993.4 L480.3 991.2 L481.1 989.3 L481.8 987.8 L482.6 987.2 L483.3 988.4 L484.1 992.1 L484.8 997.4 L485.6 1002.9 L486.3 1007.4 L487.1 1009.9 L487.8 1010 L488.6 1010 L489.3 1010.1 L490.1 1010.3 L490.8 1010.5 L491.6 1010.7 L492.3 1010.7 L493.1 1010.6 L493.8 1010.4 L494.6 1010.2 L495.3 1010.1 L496.1 1010.1 L496.8 1010 L497.6 1010 L498.3 1010 L499.1 1010 L499.8 1009.2 L500.6 1007.6 L501.3 1005.6 L502.1 1003.7 L502.8 1002.5 L503.6 1002.3 L504.3 1002.7 L505.1 1003.4 L505.8 1004.1 L506.6 1004.7 L507.3 1004.8 L508.1 1003.5 L508.8 1001 L509.6 998.1 L510.3 995.4 L511.1 991.6 L511.8 987.5 L512.6 984.7 L513.3 984.6 L514.1 986.3 L514.8 989.2 L515.6 992.8 L516.3 996.5 L517.1 999.6 L517.8 1001.5 L518.6 1001.5 L519.3 1000.3 L520.1 998.3 L520.8 996.1 L521.6 994 L522.3 992.3 L523.1 991.3 L523.8 991.5 L524.6 993.1 L525.3 995.7 L526.1 999 L526.8 1002.5 L527.6 1005.8 L528.3 1008.4 L529.1 1010 L529.8 1010.4 L530.6 1010.5 L531.3 1010.7 L532.1 1010.9 L532.8 1011.1 L533.6 1011.3 L534.3 1011.4 L535.1 1011.4 L535.8 1011.3 L536.6 1011.1 L537.3 1011.1 L538.1 1011.2 L538.8 1011.2 L539.6 1011.3 L540.3 1011.4 L541.1 1011.4 L541.8 1011.4 L542.6 1011.2 L543.3 1010.8 L544.1 1010.4 L544.8 1009.8 L545.6 1009.2 L546.3 1008.7 L547.1 1008.3 L547.8 1008.4 L548.6 1008.9 L549.3 1009.9 L550.1 1011.1 L550.8 1012.2 L551.6 1012.8 L552.3 1012.9 L553.1 1012.5 L553.8 1012 L554.6 1011.5 L555.3 1011.2 L556.1 1010.9 L556.8 1010.6 L557.6 1010.3 L558.3 1010 L559.1 1009.8 L559.8 1009.7 L560.6 1009.6 L561.3 1009.6 L562.1 1009.6 L562.8 1009.7 L563.6 1010.1 L564.3 1010.7 L565.1 1011.2 L565.8 1011.5 L566.6 1011.2 L567.3 1010.4 L568.1 1009.4 L568.8 1008.3 L569.6 1007.4 L570.3 1006.9 L571.1 1006.9 L571.8 1007.4 L572.6 1008.3 L573.3 1009.3 L574.1 1010.4 L574.8 1011.3 L575.6 1011.8 L576.3 1011.9 L577.1 1011.7 L577.8 1011.6 L578.6 1011.4 L579.3 1011.3 L580.1 1011.4 L580.8 1011.5 L581.6 1011.7 L582.3 1012 L583.1 1012.1 L583.8 1012.2 L584.6 1012.3 L585.3 1012.3 L586.1 1012.3 L586.8 1012.2 L587.6 1011.9 L588.3 1011.5 L589.1 1011.2 L589.8 1010.9 L590.6 1010.6 L591.3 1010.2 L592.1 1009.7 L592.8 1009.2 L593.6 1008.6 L594.3 1007.9 L595.1 1007.2 L595.8 1006.6 L596.6 1005.9 L597.3 1005.4 L598.1 1004.9 L598.8 1004.5 L599.6 1004.2 L600.3 1004.1 L601.1 1004 L601.8 1004.3 L602.6 1005 L603.3 1006 L604.1 1007.2 L604.8 1008.5 L605.6 1009.7 L606.3 1010.7 L607.1 1011.2 L607.8 1011.2 L608.6 1011 L609.3 1010.7 L610.1 1010.3 L610.8 1010 L611.6 1009.8 L612.3 1009.6 L613.1 1009.6 L613.8 1009.4 L614.6 1009.1 L615.3 1008.6 L616.1 1007.8 L616.8 1006.9 L617.6 1006 L618.3 1005.4 L619.1 1005 L619.8 1004.7 L620.6 1004.5 L621.3 1004.1 L622.1 1003.5 L622.8 1003 L623.6 1002.5 L624.3 1002.2 L625.1 1002.7 L625.8 1003.8 L626.6 1005.2 L627.3 1006.4 L628.1 1007.2 L628.8 1007.4 L629.6 1007.2 L630.3 1006.8 L631.1 1006.4 L631.8 1006.1 L632.6 1006 L633.3 1006 L634.1 1005.6 L634.8 1004.9 L635.6 1004.1 L636.3 1003.5 L637.1 1003.7 L637.8 1004.5 L638.6 1005.8 L639.3 1007.5 L640.1 1009.1 L640.8 1010.4 L641.6 1011 L642.3 1011 L643.1 1010.9 L643.8 1010.8 L644.6 1010.6 L645.3 1010.3 L646.1 1010 L646.8 1009.6 L647.6 1009.2 L648.3 1008.8 L649.1 1008.4 L649.8 1008.2 L650.6 1008.1 L651.3 1008.1 L652.1 1008 L652.8 1007.9 L653.6 1007.6 L654.3 1007.1 L655.1 1006.5 L655.8 1005.8 L656.6 1005.1 L657.3 1004.5 L658.1 1004 L658.8 1003.6 L659.6 1003.5 L660.3 1003.6 L661.1 1003.8 L661.8 1004.2 L662.6 1004.6 L663.3 1005.2 L664.1 1005.8 L664.8 1006.3 L665.6 1006.9 L666.3 1007.3 L667.1 1007.8 L667.8 1008.3 L668.6 1008.8 L669.3 1009.3 L670.1 1009.7 L670.8 1010.1 L671.6 1010.4 L672.3 1010.7 L673.1 1010.8 L673.8 1010.8 L674.6 1010.8 L675.3 1010.7 L676.1 1010.6 L676.8 1010.6 L677.6 1010.6 L678.3 1010.7 L679.1 1010.9 L679.8 1011.1 L680.6 1011.2 L681.3 1011.2 L682.1 1011.2 L682.8 1011.2 L683.6 1011.1 L684.3 1011.1 L685.1 1011.1 L685.8 1011.2 L686.6 1011.2 L687.3 1011.2 L688.1 1011.2 L688.8 1011.4 L689.6 1011.6 L690.3 1011.8 L691.1 1012 L691.8 1012 L692.6 1011.8 L693.3 1011.6 L694.1 1011.4 L694.8 1011.2 L695.6 1011.1 L696.3 1011 L697.1 1010.9 L697.8 1010.8 L698.6 1010.7 L699.3 1010.6 L700.1 1010.4 L700.8 1010.2 L701.6 1010 L702.3 1009.7 L703.1 1009.4 L703.8 1009.1 L704.6 1008.7 L705.3 1008.4 L706.1 1008 L706.8 1007.7 L707.6 1007.4 L708.3 1007.1 L709.1 1006.7 L709.8 1006.1 L710.6 1005.3 L711.3 1004.4 L712.1 1003.6 L712.8 1003.1 L713.6 1002.7 L714.3 1002.5 L715.1 1002.1 L715.8 1001.6 L716.6 1001 L717.3 1000.6 L718.1 1000.3 L718.8 1000.2 L719.6 1000.6 L720.3 1001.3 L721.1 1002.2 L721.8 1003.2 L722.6 1004.2 L723.3 1005.1 L724.1 1005.7 L724.8 1006.2 L725.6 1006.7 L726.3 1007.3 L727.1 1007.8 L727.8 1008.2 L728.6 1008.5 L729.3 1008.7 L730.1 1008.6 L730.8 1008.2 L731.6 1007.6 L732.3 1006.8 L733.1 1006.1 L733.8 1005.3 L734.6 1004.8 L735.3 1004.4 L736.1 1004.3 L736.8 1004.4 L737.6 1005 L738.3 1006.1 L739.1 1007.3 L739.8 1008.6 L740.6 1009.6 L741.3 1010.2 L742.1 1010.2 L742.8 1009.8 L743.6 1009.2 L744.3 1008.4 L745.1 1007.8 L745.8 1007.3 L746.6 1007 L747.3 1007.2 L748.1 1007.7 L748.8 1008.3 L749.6 1008.9 L750.3 1009.4 L751.1 1009.7 L751.8 1009.8 L752.6 1009.9 L753.3 1010 L754.1 1010 L754.8 1009.7 L755.6 1009.3 L756.3 1009.1 L757.1 1008.9 L757.8 1008.8 L758.6 1008.9 L759.3 1009.1 L760.1 1009.2 L760.8 1009.4 L761.6 1009.6 L762.3 1009.8 L763.1 1010.1 L763.8 1010.4 L764.6 1010.6 L765.3 1010.7 L766.1 1010.6 L766.8 1010.5 L767.6 1010.1 L768.3 1009.6 L769.1 1009.1 L769.8 1008.5 L770.6 1007.8 L771.3 1007.1 L772.1 1006.4 L772.8 1005.7 L773.6 1004.8 L774.3 1003.7 L775.1 1002.7 L775.8 1001.9 L776.6 1001.4 L777.3 1001.1 L778.1 1001.3 L778.8 1002 L779.6 1003 L780.3 1004.1 L781.1 1005.2 L781.8 1006.2 L782.6 1006.8 L783.3 1007.4 L784.1 1008.1 L784.8 1008.6 L785.6 1009.1 L786.3 1009.5 L787.1 1009.8 L787.8 1010.1 L788.6 1010.3 L789.3 1010.5 L790.1 1010.5 L790.8 1010.5 L791.6 1010.4 L792.3 1010.4 L793.1 1010.3 L793.8 1010.3 L794.6 1010.3 L795.3 1010.3 L796.1 1010.3 L796.8 1010.3 L797.6 1010.3 L798.3 1010.4 L799.1 1010.4 L799.8 1010.2 L800.6 1009.6 L801.3 1008.6 L802.1 1007.3 L802.8 1006 L803.6 1003.8 L804.3 1000.3 L805.1 996.7 L805.8 994.2 L806.6 993.9 L807.3 995.7 L808.1 998.6 L808.8 1001.6 L809.6 1003.8 L810.3 1004.9 L811.1 1006 L811.8 1006.9 L812.6 1007.4 L813.3 1007.9 L814.1 1008.3 L814.8 1008.6 L815.6 1008.8 L816.3 1009.1 L817.1 1009.3 L817.8 1009.4 L818.6 1009.4 L819.3 1009.4 L820.1 1009.3 L820.8 1009.3 L821.6 1009.3 L822.3 1009.5 L823.1 1009.6 L823.8 1009.7 L824.6 1009.5 L825.3 1009.2 L826.1 1009 L826.8 1008.9 L827.6 1008.9 L828.3 1009 L829.1 1009.2 L829.8 1009.3 L830.6 1009.5 L831.3 1009.7 L832.1 1010 L832.8 1010.2 L833.6 1010.3 L834.3 1010.3 L835.1 1010.4 L835.8 1010.3 L836.6 1010.2 L837.3 1010.1 L838.1 1010 L838.8 1010.1 L839.6 1010.3 L840.3 1010.6 L841.1 1010.8 L841.8 1011 L842.6 1011 L843.3 1010.9 L844.1 1010.8 L844.8 1010.7 L845.6 1010.7 L846.3 1010.7 L847.1 1010.7 L847.8 1010.7 L848.6 1010.8 L849.3 1010.8 L850.1 1011 L850.8 1011.3 L851.6 1011.6 L852.3 1011.7 L853.1 1011.6 L853.8 1011.4 L854.6 1011.1 L855.3 1010.8 L856.1 1010.7 L856.8 1010.9 L857.6 1011.2 L858.3 1011.5 L859.1 1011.7 L859.8 1011.8 L860.6 1011.7 L861.3 1011.6 L862.1 1011.5 L862.8 1011.4 L863.6 1011.3 L864.3 1011.2 L865.1 1011.1 L865.8 1010.9 L866.6 1010.6 L867.3 1010.4 L868.1 1010.1 L868.8 1009.9 L869.6 1009.6 L870.3 1009.2 L871.1 1008.8 L871.8 1008.4 L872.6 1008 L873.3 1007.9 L874.1 1007.9 L874.8 1008.1 L875.6 1008.5 L876.3 1008.8 L877.1 1009.1 L877.8 1009.2 L878.6 1009.1 L879.3 1009 L880.1 1009 L880.8 1009.2 L881.6 1009.8 L882.3 1010.5 L883.1 1011.1 L883.8 1011.4 L884.6 1011.4 L885.3 1011.3 L886.1 1011.1 L886.8 1010.9 L887.6 1010.7 L888.3 1010.6 L889.1 1010.4 L889.8 1010.3 L890.6 1010.2 L891.3 1010.2 L892.1 1010.2 L892.8 1010.3 L893.6 1010.3 L894.3 1010.3 L895.1 1010.4 L895.8 1010.5 L896.6 1010.5 L897.3 1010.6 L898.1 1010.7 L898.8 1010.8 L899.6 1010.7 L900.3 1010.5 L901.1 1010.1 L901.8 1009.8 L902.6 1009.5 L903.3 1009.4 L904.1 1009.4 L904.8 1009.6 L905.6 1009.9 L906.3 1010.2 L907.1 1010.6 L907.8 1011.1 L908.6 1011.5 L909.3 1011.9 L910.1 1012.1 L910.8 1012.1 L911.6 1012.1 L912.3 1012.1 L913.1 1012.1 L913.8 1012 L914.6 1012 L915.3 1011.9 L916.1 1011.7 L916.8 1011.3 L917.6 1010.8 L918.3 1010.4 L919.1 1010.2 L919.8 1010.2 L920.6 1010.3 L921.3 1010.4 L922.1 1010.5 L922.8 1010.4 L923.6 1010.1 L924.3 1009.8 L925.1 1009.5 L925.8 1009.3 L926.6 1009.2 L927.3 1009 L928.1 1008.9 L928.8 1008.9 L929.6 1008.9 L930.3 1009.1 L931.1 1009.5 L931.8 1009.9 L932.6 1010.3 L933.3 1010.3 L934.1 1010.1 L934.8 1009.8 L935.6 1009.5 L936.3 1009.4 L937.1 1009.4 L937.8 1009.4 L938.6 1009.5 L939.3 1009.4 L940.1 1009.3 L940.8 1009.1 L941.6 1008.9 L942.3 1008.7 L943.1 1008.4 L943.8 1008 L944.6 1007.7 L945.3 1007.5 L946.1 1007.3 L946.8 1007.3 L947.6 1007.4 L948.3 1007.8 L949.1 1008.2 L949.8 1008.6 L950.6 1009 L951.3 1009.3 L952.1 1009.6 L952.8 1009.9 L953.6 1010.1 L954.3 1010.4 L955.1 1010.6 L955.8 1010.7 L956.6 1010.8 L957.3 1010.8 L958.1 1010.7 L958.8 1010.6 L959.6 1010.6 L960.3 1010.5 L961.1 1010.5 L961.8 1010.6 L962.6 1010.8 L963.3 1011.1 L964.1 1011.2 L964.8 1011.2 L965.6 1011 L966.3 1010.8 L967.1 1010.6 L967.8 1010.5 L968.6 1010.5 L969.3 1010.7 L970.1 1010.9 L970.8 1011.1 L971.6 1011.1 L972.3 1011 L973.1 1010.8 L973.8 1010.5 L974.6 1010.3 L975.3 1010.3 L976.1 1010.2 L976.8 1010.2 L977.6 1010.2 L978.3 1010.2 L979.1 1010.1 L979.8 1009.9 L980.6 1009.8 L981.3 1009.6 L982.1 1009.5 L982.8 1009.5 L983.6 1009.4 L984.3 1009.4 L985.1 1009.4 L985.8 1009.3 L986.6 1009 L987.3 1008.7 L988.1 1008.4 L988.8 1008.2 L989.6 1008.4 L990.3 1008.7 L991.1 1009.2 L991.8 1009.6 L992.6 1010 L993.3 1010.3 L994.1 1010.6 L994.8 1010.9 L995.6 1011.1 L996.3 1011.3 L997.1 1011.3 L997.8 1011.4 L998.6 1011.4 L999.3 1011.4 L1000.1 1011.4 L1000.8 1011.3 L1001.6 1011.3 L1002.3 1011.3 L1003.1 1011.3 L1003.8 1011.2 L1004.6 1011.1 L1005.3 1010.9 L1006.1 1010.8 L1006.8 1010.8 L1007.6 1010.8 L1008.3 1010.8 L1009.1 1010.8 L1009.8 1010.9 L1010.6 1010.9 L1011.3 1010.9 L1012.1 1010.9 L1012.8 1011 L1013.6 1011 L1014.3 1011 L1015.1 1010.9 L1015.8 1010.9 L1016.6 1010.8 L1017.3 1010.8 L1018.1 1010.9 L1018.8 1011 L1019.6 1011.1 L1020.3 1011.2 L1021.1 1011.3 L1021.8 1011.4 L1022.6 1011.5 L1023 1011.6" stroke="#7d4e4e"/>
<path d="M102.3 949.9 L103.1 950 L103.8 950.1 L104.6 949.9 L105.3 949.7 L106.1 949.6 L106.8 949.5 L107.6 949.7 L108.3 950 L109.1 950.4 L109.8 950.8 L110.6 950.9 L111.3 950.9 L112.1 950.7 L112.8 950.6 L113.6 950.5 L114.3 950.5 L115.1 950.6 L115.8 950.7 L116.6 950.8 L117.3 950.9 L118.1 950.9 L118.8 950.8 L119.6 950.6 L120.3 950.5 L121.1 950.6 L121.8 950.6 L122.6 950.8 L123.3 950.9 L124.1 951 L124.8 951 L125.6 951 L126.3 950.9 L127.1 950.9 L127.8 950.9 L128.6 950.9 L129.3 951 L130.1 951.1 L130.8 951.2 L131.6 951.3 L132.3 951.5 L133.1 951.7 L133.8 952 L134.6 952.2 L135.3 952.2 L136.1 952.2 L136.8 952.1 L137.6 952 L138.3 952 L139.1 952 L139.8 952.1 L140.6 952.2 L141.3 952.3 L142.1 952.5 L142.8 952.6 L143.6 952.7 L144.3 952.9 L145.1 953 L145.8 953.1 L146.6 953.1 L147.3 953.2 L148.1 953.2 L148.8 953.3 L149.6 953.2 L150.3 953.1 L151.1 952.9 L151.8 952.7 L152.6 952.7 L153.3 952.9 L154.1 953.3 L154.8 953.7 L155.6 954 L156.3 954 L157.1 953.9 L157.8 953.7 L158.6 953.5 L159.3 953.4 L160.1 953.4 L160.8 953.4 L161.6 953.4 L162.3 953.5 L163.1 953.5 L163.8 953.5 L164.6 953.5 L165.3 953.6 L166.1 953.6 L166.8 953.7 L167.6 953.7 L168.3 953.8 L169.1 953.9 L169.8 953.9 L170.6 953.9 L171.3 953.8 L172.1 953.7 L172.8 953.6 L173.6 953.5 L174.3 953.5 L175.1 953.4 L175.8 953.3 L176.6 953.2 L177.3 953.1 L178.1 953.1 L178.8 953 L179.6 953 L180.3 952.9 L181.1 953 L181.8 953.2 L182.6 953.5 L183.3 953.7 L184.1 953.5 L184.8 953 L185.6 952.2 L186.3 951.3 L187.1 950.3 L187.8 949.1 L188.6 947.3 L189.3 945 L190.1 942.4 L190.8 939 L191.6 934.2 L192.3 930 L193.1 928.3 L193.8 929.9 L194.6 933.8 L195.3 938.4 L196.1 942.7 L196.8 945.7 L197.6 948.5 L198.3 951.3 L199.1 953.5 L199.8 954.3 L200.6 954.6 L201.3 954.8 L202.1 954.8 L202.8 954.9 L203.6 954.9 L204.3 954.9 L205.1 954.8 L205.8 954.7 L206.6 954.5 L207.3 954.2 L208.1 954 L208.8 954 L209.6 954.1 L210.3 954.2 L211.1 954.4 L211.8 954.4 L212.6 954.4 L213.3 954.3 L214.1 954.2 L214.8 954.1 L215.6 954 L216.3 954.1 L217.1 954.1 L217.8 954.2 L218.6 954.3 L219.3 954.3 L220.1 954.2 L220.8 954.2 L221.6 954.1 L222.3 954.1 L223.1 954.1 L223.8 954.2 L224.6 954.3 L225.3 954.4 L226.1 954.4 L226.8 954.4 L227.6 954.3 L228.3 954.2 L229.1 954.1 L229.8 954.1 L230.6 954.1 L231.3 954.2 L232.1 954.3 L232.8 954.3 L233.6 954.3 L234.3 954.2 L235.1 954.2 L235.8 954.1 L236.6 954.1 L237.3 954.2 L238.1 954.3 L238.8 954.4 L239.6 954.5 L240.3 954.5 L241.1 954.4 L241.8 954.2 L242.6 954 L243.3 953.9 L244.1 953.9 L244.8 954 L245.6 954 L246.3 954.1 L247.1 954.2 L247.8 954.3 L248.6 954.5 L249.3 954.6 L250.1 954.7 L250.8 954.7 L251.6 954.5 L252.3 954.1 L253.1 953.8 L253.8 953.7 L254.6 953.7 L255.3 953.7 L256.1 953.8 L256.8 953.8 L257.6 953.8 L258.3 953.8 L259.1 953.6 L259.8 953.5 L260.6 953.4 L261.3 953.4 L262.1 953.5 L262.8 953.5 L263.6 953.6 L264.3 953.6 L265.1 953.6 L265.8 953.6 L266.6 953.6 L267.3 953.6 L268.1 953.6 L268.8 953.7 L269.6 953.8 L270.3 953.9 L271.1 954.1 L271.8 954.2 L272.6 954.3 L273.3 954.4 L274.1 954.5 L274.8 954.5 L275.6 954.5 L276.3 954.5 L277.1 954.5 L277.8 954.4 L278.6 953.9 L279.3 953.1 L280.1 952 L280.8 950.8 L281.6 949.5 L282.3 948.3 L283.1 946.6 L283.8 944.6 L284.6 942.7 L285.3 941 L286.1 939.9 L286.8 939.4 L287.6 939.1 L288.3 938.7 L289.1 938.2 L289.8 937.5 L290.6 936.8 L291.3 936.1 L292.1 935.7 L292.8 935.7 L293.6 935.8 L294.3 936.2 L295.1 936.6 L295.8 937.1 L296.6 937.6 L297.3 938 L298.1 938.2 L298.8 938.3 L299.6 938.1 L300.3 937.6 L301.1 937.1 L301.8 936.5 L302.6 936 L303.3 935.6 L304.1 935.4 L304.8 935.8 L305.6 936.8 L306.3 938.3 L307.1 940.1 L307.8 942 L308.6 943.7 L309.3 945 L310.1 945.7 L310.8 946.4 L311.6 947 L312.3 947.7 L313.1 948.2 L313.8 948.7 L314.6 949.2 L315.3 949.7 L316.1 950 L316.8 950.1 L317.6 950.1 L318.3 949.8 L319.1 949.4 L319.8 949 L320.6 948.5 L321.3 947.8 L322.1 946.5 L322.8 945 L323.6 943.6 L324.3 942.7 L325.1 942.6 L325.8 943 L326.6 944 L327.3 945.3 L328.1 946.7 L328.8 948 L329.6 948.7 L330.3 948.9 L331.1 948.7 L331.8 948.5 L332.6 948.4 L333.3 948.5 L334.1 948.8 L334.8 949.1 L335.6 949.3 L336.3 949.4 L337.1 949.5 L337.8 949.6 L338.6 949.8 L339.3 949.7 L340.1 948.4 L340.8 946.3 L341.6 943.4 L342.3 940.1 L343.1 936.8 L343.8 933.2 L344.6 928.3 L345.3 922.9 L346.1 917.8 L346.8 914.3 L347.6 913.2 L348.3 914.9 L349.1 918.7 L349.8 923.9 L350.6 929.5 L351.3 934.6 L352.1 938.4 L352.8 941.2 L353.6 944.1 L354.3 946.7 L355.1 948.6 L355.8 949.7 L356.6 949.8 L357.3 949.7 L358.1 949.6 L358.8 949.5 L359.6 949.3 L360.3 949.2 L361.1 949 L361.8 948.9 L362.6 948.4 L363.3 947.1 L364.1 945.4 L364.8 943.4 L365.6 941.4 L366.3 938.9 L367.1 936.1 L367.8 934.1 L368.6 933.7 L369.3 935 L370.1 937.4 L370.8 940.4 L371.6 943.8 L372.3 947 L373.1 949.7 L373.8 951.3 L374.6 951.5 L375.3 950.4 L376.1 948.5 L376.8 946.2 L377.6 943.9 L378.3 942.3 L379.1 941.8 L379.8 942.1 L380.6 942.9 L381.3 943.9 L382.1 945 L382.8 946 L383.6 946.6 L384.3 946.7 L385.1 946.7 L385.8 946.7 L386.6 946.7 L387.3 946.8 L388.1 947.3 L388.8 947.9 L389.6 948.5 L390.3 949.1 L391.1 949.5 L391.8 949.7 L392.6 949.8 L393.3 949.9 L394.1 949.8 L394.8 949.6 L395.6 949.2 L396.3 948.7 L397.1 948.2 L397.8 946.7 L398.6 944 L399.3 940.8 L400.1 937.6 L400.8 933.8 L401.6 929.2 L402.3 925 L403.1 922.3 L403.8 922.2 L404.6 925.3 L405.3 930.3 L406.1 936 L406.8 941 L407.6 943.9 L408.3 943.2 L409.1 939 L409.8 933.5 L410.6 928.9 L411.3 924.8 L412.1 920.7 L412.8 917.8 L413.6 917.1 L414.3 919.4 L415.1 923.7 L415.8 928.9 L416.6 933.9 L417.3 937.8 L418.1 941.9 L418.8 945.6 L419.6 948.4 L420.3 949.8 L421.1 950.1 L421.8 950.3 L422.6 950.6 L423.3 950.8 L424.1 951 L424.8 951.1 L425.6 951.3 L426.3 951.4 L427.1 951.4 L427.8 951.5 L428.6 951.5 L429.3 951.4 L430.1 951.4 L430.8 951.3 L431.6 951.2 L432.3 951.1 L433.1 951.1 L433.8 951.3 L434.6 951.6 L435.3 951.8 L436.1 951.8 L436.8 951.6 L437.6 951.4 L438.3 951.1 L439.1 950.9 L439.8 950.7 L440.6 950.5 L441.3 950.3 L442.1 950.2 L442.8 950.2 L443.6 950.3 L444.3 950.6 L445.1 951 L445.8 951.3 L446.6 951.4 L447.3 951.3 L448.1 951 L448.8 950.6 L449.6 950.4 L450.3 950.5 L451.1 950.8 L451.8 951.3 L452.6 951.7 L453.3 952 L454.1 952 L454.8 951.9 L455.6 951.8 L456.3 951.8 L457.1 951.8 L457.8 951.9 L458.6 952.1 L459.3 952.2 L460.1 952.4 L460.8 952.5 L461.6 952.6 L462.3 952.7 L463.1 952.6 L463.8 951.7 L464.6 950.1 L465.3 948.2 L466.1 946.1 L466.8 944.1 L467.6 942.4 L468.3 940.8 L469.1 939 L469.8 937.3 L470.6 935.8 L471.3 934.9 L472.1 934.6 L472.8 935 L473.6 935.8 L474.3 937.1 L475.1 938.5 L475.8 939.8 L476.6 941 L477.3 941.9 L478.1 942.1 L478.8 941.6 L479.6 940.5 L480.3 939 L481.1 937.3 L481.8 935.7 L482.6 934.3 L483.3 933.4 L484.1 933.3 L484.8 934.7 L485.6 937.3 L486.3 941 L487.1 944.9 L487.8 948.6 L488.6 951.4 L489.3 952.8 L490.1 952.8 L490.8 952.5 L491.6 952.3 L492.3 952.3 L493.1 952.4 L493.8 952.6 L494.6 952.7 L495.3 952.8 L496.1 952.7 L496.8 952.6 L497.6 952.3 L498.3 952.1 L499.1 952.1 L499.8 951.7 L500.6 950.9 L501.3 949.9 L502.1 948.7 L502.8 947.5 L503.6 946.5 L504.3 945.9 L505.1 945.9 L505.8 946.2 L506.6 946.6 L507.3 946.9 L508.1 947 L508.8 946.1 L509.6 943.3 L510.3 940 L511.1 937.4 L511.8 934.2 L512.6 931 L513.3 928.7 L514.1 928.2 L514.8 929.5 L515.6 932 L516.3 935.1 L517.1 938.5 L517.8 941.5 L518.6 943.7 L519.3 944.6 L520.1 944.2 L520.8 942.9 L521.6 941 L522.3 938.9 L523.1 937.1 L523.8 935.8 L524.6 935.4 L525.3 936.3 L526.1 938.4 L526.8 941.3 L527.6 944.5 L528.3 947.6 L529.1 950.2 L529.8 951.9 L530.6 952.4 L531.3 952.3 L532.1 952.1 L532.8 951.9 L533.6 951.6 L534.3 951.4 L535.1 951 L535.8 950.7 L536.6 950.5 L537.3 950.6 L538.1 951.1 L538.8 951.8 L539.6 952.6 L540.3 953.2 L541.1 953.5 L541.8 953.3 L542.6 952.9 L543.3 952.3 L544.1 951.9 L544.8 951.6 L545.6 951.4 L546.3 951.4 L547.1 951.6 L547.8 951.7 L548.6 951.9 L549.3 952.1 L550.1 952.4 L550.8 952.6 L551.6 952.9 L552.3 953 L553.1 953.1 L553.8 953.1 L554.6 953.1 L555.3 953.3 L556.1 953.5 L556.8 953.6 L557.6 953.7 L558.3 953.8 L559.1 953.9 L559.8 954 L560.6 954.1 L561.3 954.1 L562.1 954.1 L562.8 954 L563.6 953.9 L564.3 953.8 L565.1 953.7 L565.8 953.6 L566.6 953.6 L567.3 953.7 L568.1 953.5 L568.8 953.1 L569.6 952.4 L570.3 951.5 L571.1 950.8 L571.8 950.2 L572.6 950.1 L573.3 950.5 L574.1 951.2 L574.8 952.1 L575.6 953 L576.3 953.6 L577.1 953.9 L577.8 953.7 L578.6 953.4 L579.3 953.2 L580.1 953.2 L580.8 953.2 L581.6 953.2 L582.3 953.3 L583.1 953.3 L583.8 953.5 L584.6 953.7 L585.3 953.9 L586.1 954 L586.8 954 L587.6 953.9 L588.3 953.7 L589.1 953.5 L589.8 953.4 L590.6 953.4 L591.3 953.4 L592.1 953.4 L592.8 953.3 L593.6 952.9 L594.3 952.3 L595.1 951.6 L595.8 950.8 L596.6 950 L597.3 949.1 L598.1 948.2 L598.8 947.3 L599.6 946.7 L600.3 946.3 L601.1 946.2 L601.8 946.6 L602.6 947.4 L603.3 948.3 L604.1 949.4 L604.8 950.4 L605.6 951.3 L606.3 952.1 L607.1 952.6 L607.8 953 L608.6 953 L609.3 953 L610.1 952.8 L610.8 952.7 L611.6 952.5 L612.3 952.4 L613.1 952.3 L613.8 952.1 L614.6 951.9 L615.3 951.4 L616.1 950.8 L616.8 950.3 L617.6 949.8 L618.3 949.4 L619.1 949 L619.8 948.7 L620.6 948.4 L621.3 948 L622.1 947.6 L622.8 947.3 L623.6 947 L624.3 946.9 L625.1 946.8 L625.8 947 L626.6 947.3 L627.3 947.6 L628.1 948 L628.8 948.3 L629.6 948.6 L630.3 948.8 L631.1 948.8 L631.8 948.8 L632.6 948.6 L633.3 948.3 L634.1 947.9 L634.8 947.4 L635.6 946.8 L636.3 946.1 L637.1 945.6 L637.8 945.3 L638.6 945.4 L639.3 946.3 L640.1 947.7 L640.8 949.3 L641.6 950.8 L642.3 951.9 L643.1 952.4 L643.8 952.4 L644.6 952.2 L645.3 952 L646.1 951.6 L646.8 951.3 L647.6 950.9 L648.3 950.6 L649.1 950.3 L649.8 950 L650.6 949.7 L651.3 949.4 L652.1 949.1 L652.8 949 L653.6 948.9 L654.3 949 L655.1 949 L655.8 948.5 L656.6 947.4 L657.3 945.9 L658.1 944.4 L658.8 942.9 L659.6 941.5 L660.3 940.4 L661.1 939.7 L661.8 939.5 L662.6 939.9 L663.3 940.7 L664.1 941.9 L664.8 943.2 L665.6 944.6 L666.3 945.9 L667.1 947.1 L667.8 948.1 L668.6 949 L669.3 949.9 L670.1 950.8 L670.8 951.5 L671.6 952 L672.3 952.4 L673.1 952.6 L673.8 952.7 L674.6 952.7 L675.3 952.6 L676.1 952.6 L676.8 952.6 L677.6 952.6 L678.3 952.7 L679.1 952.7 L679.8 952.8 L680.6 952.8 L681.3 952.8 L682.1 952.8 L682.8 952.7 L683.6 952.6 L684.3 952.6 L685.1 952.7 L685.8 952.8 L686.6 953 L687.3 953.1 L688.1 953.1 L688.8 953.2 L689.6 953.2 L690.3 953.2 L691.1 953.2 L691.8 953.2 L692.6 953.3 L693.3 953.5 L694.1 953.6 L694.8 953.6 L695.6 953.3 L696.3 953.1 L697.1 952.7 L697.8 952.4 L698.6 952 L699.3 951.6 L700.1 951.2 L700.8 950.7 L701.6 950.4 L702.3 950.2 L703.1 950.2 L703.8 950.4 L704.6 950.5 L705.3 950.4 L706.1 950.1 L706.8 949.9 L707.6 949.6 L708.3 949.2 L709.1 948.9 L709.8 948.3 L710.6 947.6 L711.3 946.6 L712.1 945.7 L712.8 944.8 L713.6 944 L714.3 943.4 L715.1 942.5 L715.8 941.6 L716.6 940.8 L717.3 940.3 L718.1 940.1 L718.8 940.5 L719.6 941.1 L720.3 942 L721.1 943 L721.8 944.1 L722.6 945 L723.3 945.8 L724.1 946.3 L724.8 946.8 L725.6 947.4 L726.3 948 L727.1 948.6 L727.8 949.2 L728.6 949.6 L729.3 949.9 L730.1 949.9 L730.8 949.8 L731.6 949.5 L732.3 949.2 L733.1 948.9 L733.8 948.5 L734.6 948.2 L735.3 947.9 L736.1 947.6 L736.8 947.4 L737.6 947.2 L738.3 946.9 L739.1 946.9 L739.8 947.2 L740.6 947.9 L741.3 948.8 L742.1 949.8 L742.8 950.5 L743.6 950.8 L744.3 950.6 L745.1 950.1 L745.8 949.7 L746.6 949.6 L747.3 949.8 L748.1 950.3 L748.8 950.8 L749.6 951.4 L750.3 951.8 L751.1 952 L751.8 951.9 L752.6 951.6 L753.3 951.1 L754.1 950.7 L754.8 950.3 L755.6 950 L756.3 949.9 L757.1 949.9 L757.8 950 L758.6 950.1 L759.3 950.4 L760.1 950.6 L760.8 950.9 L761.6 951.1 L762.3 951.1 L763.1 951.1 L763.8 950.9 L764.6 950.9 L765.3 951 L766.1 951.1 L766.8 951.1 L767.6 951 L768.3 950.6 L769.1 950 L769.8 949.3 L770.6 948.4 L771.3 947.5 L772.1 946.8 L772.8 946.4 L773.6 946.1 L774.3 945.8 L775.1 945.3 L775.8 944.4 L776.6 943.4 L777.3 942.5 L778.1 941.9 L778.8 941.8 L779.6 942.4 L780.3 943.3 L781.1 944.4 L781.8 945.6 L782.6 946.6 L783.3 947.4 L784.1 948.1 L784.8 948.8 L785.6 949.4 L786.3 949.9 L787.1 950.4 L787.8 950.6 L788.6 950.8 L789.3 950.9 L790.1 951 L790.8 951.2 L791.6 951.3 L792.3 951.4 L793.1 951.5 L793.8 951.7 L794.6 951.9 L795.3 952.1 L796.1 952.2 L796.8 952.4 L797.6 952.5 L798.3 952.7 L799.1 952.8 L799.8 952.7 L800.6 952.3 L801.3 951.5 L802.1 950.6 L802.8 949.5 L803.6 948.5 L804.3 946.6 L805.1 943.7 L805.8 940.8 L806.6 938.6 L807.3 937.8 L808.1 938.8 L808.8 940.8 L809.6 943.3 L810.3 945.5 L811.1 947 L811.8 948.1 L812.6 949.1 L813.3 949.8 L814.1 950.2 L814.8 950.4 L815.6 950.5 L816.3 950.6 L817.1 950.7 L817.8 950.8 L818.6 950.9 L819.3 950.9 L820.1 950.9 L820.8 950.9 L821.6 950.9 L822.3 950.8 L823.1 950.6 L823.8 950.3 L824.6 949.9 L825.3 949.5 L826.1 949.2 L826.8 949.1 L827.6 949.1 L828.3 949.4 L829.1 949.6 L829.8 950 L830.6 950.3 L831.3 950.6 L832.1 951 L832.8 951.2 L833.6 951.3 L834.3 951.3 L835.1 951.5 L835.8 951.7 L836.6 951.9 L837.3 952.2 L838.1 952.5 L838.8 952.6 L839.6 952.5 L840.3 952.5 L841.1 952.4 L841.8 952.4 L842.6 952.5 L843.3 952.7 L844.1 952.9 L844.8 953.1 L845.6 953.2 L846.3 953.2 L847.1 953.1 L847.8 953 L848.6 953 L849.3 953 L850.1 953 L850.8 953 L851.6 953 L852.3 953 L853.1 953.1 L853.8 953.2 L854.6 953.3 L855.3 953.4 L856.1 953.4 L856.8 953.4 L857.6 953.4 L858.3 953.5 L859.1 953.5 L859.8 953.5 L860.6 953.6 L861.3 953.6 L862.1 953.7 L862.8 953.7 L863.6 953.7 L864.3 953.5 L865.1 953.4 L865.8 953.2 L866.6 953.2 L867.3 953.2 L868.1 953.2 L868.8 953 L869.6 952.7 L870.3 952.2 L871.1 951.6 L871.8 951 L872.6 950.4 L873.3 949.8 L874.1 949.3 L874.8 948.8 L875.6 948.5 L876.3 948.3 L877.1 948.4 L877.8 948.7 L878.6 949.1 L879.3 949.6 L880.1 950 L880.8 950.5 L881.6 950.7 L882.3 950.9 L883.1 951.1 L883.8 951.3 L884.6 951.5 L885.3 951.6 L886.1 951.7 L886.8 951.6 L887.6 951.4 L888.3 951.3 L889.1 951.2 L889.8 951.2 L890.6 951.1 L891.3 951.2 L892.1 951.5 L892.8 951.9 L893.6 952.4 L894.3 952.9 L895.1 953.2 L895.8 953.3 L896.6 953.4 L897.3 953.4 L898.1 953.5 L898.8 953.4 L899.6 953.2 L900.3 952.8 L901.1 952.3 L901.8 951.9 L902.6 951.5 L903.3 951.3 L904.1 951.2 L904.8 951.3 L905.6 951.7 L906.3 952.2 L907.1 952.8 L907.8 953.3 L908.6 953.8 L909.3 954.1 L910.1 954.2 L910.8 954.1 L911.6 954 L912.3 954 L913.1 954 L913.8 954.1 L914.6 954.1 L915.3 954.1 L916.1 953.9 L916.8 953.4 L917.6 952.9 L918.3 952.4 L919.1 952.2 L919.8 952.1 L920.6 952.1 L921.3 952.1 L922.1 952 L922.8 952 L923.6 952 L924.3 951.9 L925.1 951.9 L925.8 951.8 L926.6 951.7 L927.3 951.6 L928.1 951.6 L928.8 951.6 L929.6 951.6 L930.3 951.6 L931.1 951.6 L931.8 951.6 L932.6 951.6 L933.3 951.7 L934.1 951.8 L934.8 951.9 L935.6 952 L936.3 952.1 L937.1 952.2 L937.8 952.3 L938.6 952.4 L939.3 952.4 L940.1 952.3 L940.8 952 L941.6 951.5 L942.3 951 L943.1 950.5 L943.8 950.1 L944.6 949.8 L945.3 949.5 L946.1 949.3 L946.8 949.2 L947.6 949.2 L948.3 949.6 L949.1 950.2 L949.8 950.7 L950.6 951.1 L951.3 951.4 L952.1 951.5 L952.8 951.6 L953.6 951.8 L954.3 952.1 L955.1 952.4 L955.8 952.7 L956.6 952.8 L957.3 952.9 L958.1 952.8 L958.8 952.7 L959.6 952.6 L960.3 952.4 L961.1 952.3 L961.8 952.1 L962.6 952.1 L963.3 952 L964.1 951.9 L964.8 951.8 L965.6 951.7 L966.3 951.5 L967.1 951.5 L967.8 951.4 L968.6 951.4 L969.3 951.3 L970.1 951.3 L970.8 951.3 L971.6 951.3 L972.3 951.3 L973.1 951.5 L973.8 951.6 L974.6 951.7 L975.3 951.7 L976.1 951.6 L976.8 951.5 L977.6 951.5 L978.3 951.4 L979.1 951.3 L979.8 951.3 L980.6 951.1 L981.3 951 L982.1 950.9 L982.8 950.8 L983.6 950.8 L984.3 950.7 L985.1 950.6 L985.8 950.6 L986.6 950.5 L987.3 950.5 L988.1 950.5 L988.8 950.6 L989.6 950.7 L990.3 950.9 L991.1 951.1 L991.8 951.4 L992.6 951.7 L993.3 951.9 L994.1 952.2 L994.8 952.4 L995.6 952.7 L996.3 952.9 L997.1 953 L997.8 953.1 L998.6 953.1 L999.3 953.2 L1000.1 953.2 L1000.8 953.2 L1001.6 953.2 L1002.3 953.2 L1003.1 953.2 L1003.8 953.3 L1004.6 953.5 L1005.3 953.6 L1006.1 953.7 L1006.8 953.7 L1007.6 953.8 L1008.3 953.8 L1009.1 953.8 L1009.8 953.8 L1010.6 953.9 L1011.3 954 L1012.1 954.1 L1012.8 954.2 L1013.6 954.2 L1014.3 954 L1015.1 953.9 L1015.8 953.8 L1016.6 953.6 L1017.3 953.4 L1018.1 953.2 L1018.8 953 L1019.6 952.8 L1020.3 952.7 L1021.1 952.8 L1021.8 953.1 L1022.6 953.4 L1023 953.6" stroke="#8e8e00"/>
<path d="M102.3 885.9 L103.1 886.1 L103.8 886.3 L104.6 886.4 L105.3 886.5 L106.1 886.6 L106.8 886.7 L107.6 886.7 L108.3 886.5 L109.1 886.3 L109.8 886.1 L110.6 886.1 L111.3 886.5 L112.1 887.1 L112.8 887.7 L113.6 888.2 L114.3 888.3 L115.1 888.2 L115.8 888.1 L116.6 888 L117.3 887.9 L118.1 888 L118.8 888.1 L119.6 888.2 L120.3 888.3 L121.1 888.4 L121.8 888.6 L122.6 888.9 L123.3 889.2 L124.1 889.4 L124.8 889.5 L125.6 889.3 L126.3 889.1 L127.1 888.8 L127.8 888.8 L128.6 888.9 L129.3 889.2 L130.1 889.4 L130.8 889.7 L131.6 889.8 L132.3 889.9 L133.1 889.9 L133.8 889.9 L134.6 889.9 L135.3 889.9 L136.1 889.9 L136.8 889.9 L137.6 889.9 L138.3 889.9 L139.1 890 L139.8 890.2 L140.6 890.3 L141.3 890.5 L142.1 890.6 L142.8 890.6 L143.6 890.6 L144.3 890.6 L145.1 890.6 L145.8 890.6 L146.6 890.7 L147.3 890.7 L148.1 890.8 L148.8 890.8 L149.6 890.9 L150.3 891.1 L151.1 891.4 L151.8 891.6 L152.6 891.6 L153.3 891.7 L154.1 891.7 L154.8 891.7 L155.6 891.6 L156.3 891.6 L157.1 891.5 L157.8 891.4 L158.6 891.3 L159.3 891.3 L160.1 891.3 L160.8 891.5 L161.6 891.6 L162.3 891.8 L163.1 891.8 L163.8 891.8 L164.6 891.6 L165.3 891.4 L166.1 891.3 L166.8 891.3 L167.6 891.6 L168.3 891.9 L169.1 892.3 L169.8 892.4 L170.6 892.4 L171.3 892.4 L172.1 892.3 L172.8 892.2 L173.6 892.2 L174.3 892.3 L175.1 892.3 L175.8 892.4 L176.6 892.5 L177.3 892.5 L178.1 892.4 L178.8 892.3 L179.6 892.2 L180.3 892.1 L181.1 892 L181.8 892 L182.6 892 L183.3 891.9 L184.1 891.7 L184.8 891.4 L185.6 890.9 L186.3 890.2 L187.1 889.4 L187.8 888.3 L188.6 886.2 L189.3 883.4 L190.1 880.4 L190.8 877.1 L191.6 872.7 L192.3 868.3 L193.1 865 L193.8 864 L194.6 866 L195.3 870.2 L196.1 875.2 L196.8 880 L197.6 883.8 L198.3 887.8 L199.1 891 L199.8 891.8 L200.6 891.9 L201.3 892 L202.1 892 L202.8 892.1 L203.6 892.1 L204.3 892.2 L205.1 892.3 L205.8 892.4 L206.6 892.5 L207.3 892.7 L208.1 892.8 L208.8 892.8 L209.6 892.7 L210.3 892.6 L211.1 892.5 L211.8 892.4 L212.6 892.3 L213.3 892.2 L214.1 892.2 L214.8 892.2 L215.6 892.1 L216.3 892 L217.1 891.9 L217.8 891.8 L218.6 891.8 L219.3 891.8 L220.1 892.1 L220.8 892.5 L221.6 892.9 L222.3 893.1 L223.1 893 L223.8 892.8 L224.6 892.6 L225.3 892.4 L226.1 892.4 L226.8 892.4 L227.6 892.3 L228.3 892.3 L229.1 892.3 L229.8 892.3 L230.6 892.3 L231.3 892.3 L232.1 892.3 L232.8 892.3 L233.6 892.3 L234.3 892.4 L235.1 892.5 L235.8 892.6 L236.6 892.7 L237.3 892.6 L238.1 892.6 L238.8 892.5 L239.6 892.5 L240.3 892.5 L241.1 892.7 L241.8 892.8 L242.6 893 L243.3 893.1 L244.1 893.1 L244.8 893 L245.6 893 L246.3 892.9 L247.1 892.8 L247.8 892.8 L248.6 892.7 L249.3 892.7 L250.1 892.6 L250.8 892.6 L251.6 892.5 L252.3 892.5 L253.1 892.5 L253.8 892.5 L254.6 892.4 L255.3 892.3 L256.1 892.2 L256.8 892.2 L257.6 892.1 L258.3 892.3 L259.1 892.5 L259.8 892.8 L260.6 893 L261.3 893 L262.1 893 L262.8 892.9 L263.6 892.9 L264.3 892.9 L265.1 892.9 L265.8 893 L266.6 893.1 L267.3 893.2 L268.1 893.2 L268.8 893.1 L269.6 892.9 L270.3 892.6 L271.1 892.5 L271.8 892.4 L272.6 892.5 L273.3 892.5 L274.1 892.5 L274.8 892.5 L275.6 892.6 L276.3 892.7 L277.1 892.9 L277.8 893 L278.6 892.7 L279.3 891.8 L280.1 890.6 L280.8 889.2 L281.6 887.9 L282.3 886.6 L283.1 884.9 L283.8 882.9 L284.6 880.8 L285.3 879.1 L286.1 878.1 L286.8 877.8 L287.6 877.7 L288.3 877.7 L289.1 877.5 L289.8 877 L290.6 876.2 L291.3 875.4 L292.1 875.1 L292.8 875.3 L293.6 876 L294.3 877.1 L295.1 878.3 L295.8 879.4 L296.6 880.3 L297.3 880.8 L298.1 880.8 L298.8 880.4 L299.6 879.7 L300.3 879 L301.1 878.3 L301.8 877.8 L302.6 877.2 L303.3 876.8 L304.1 876.8 L304.8 877.4 L305.6 878.5 L306.3 879.9 L307.1 881.5 L307.8 883.1 L308.6 884.3 L309.3 885.1 L310.1 885.6 L310.8 886 L311.6 886.2 L312.3 886.4 L313.1 886.5 L313.8 886.8 L314.6 887.1 L315.3 887.5 L316.1 887.7 L316.8 887.7 L317.6 887.6 L318.3 887.5 L319.1 887.3 L319.8 887 L320.6 886.8 L321.3 886.2 L322.1 885 L322.8 883.7 L323.6 882.6 L324.3 882 L325.1 882 L325.8 882.7 L326.6 883.8 L327.3 885.1 L328.1 886.3 L328.8 887.3 L329.6 887.9 L330.3 887.9 L331.1 887.8 L331.8 887.5 L332.6 887.2 L333.3 887 L334.1 886.8 L334.8 886.8 L335.6 886.9 L336.3 887 L337.1 887.1 L337.8 887.2 L338.6 887.3 L339.3 887 L340.1 885.8 L340.8 883.8 L341.6 881.3 L342.3 878.5 L343.1 875.7 L343.8 872.2 L344.6 867.7 L345.3 863 L346.1 858.7 L346.8 855.7 L347.6 854.8 L348.3 856.5 L349.1 860.2 L349.8 865.1 L350.6 870.2 L351.3 874.8 L352.1 878.2 L352.8 880.5 L353.6 882.8 L354.3 884.8 L355.1 886.3 L355.8 887.1 L356.6 887.1 L357.3 886.8 L358.1 886.5 L358.8 886.3 L359.6 886.2 L360.3 886.1 L361.1 886.1 L361.8 885.9 L362.6 885.6 L363.3 885 L364.1 884 L364.8 883 L365.6 882.1 L366.3 881 L367.1 879.8 L367.8 878.8 L368.6 878.1 L369.3 877.9 L370.1 878.4 L370.8 879.6 L371.6 881.4 L372.3 883.4 L373.1 885.5 L373.8 887.3 L374.6 888.7 L375.3 889.2 L376.1 888.9 L376.8 888.2 L377.6 887.2 L378.3 886.1 L379.1 885.2 L379.8 884.7 L380.6 884.8 L381.3 885.4 L382.1 886.2 L382.8 887 L383.6 887.7 L384.3 888.2 L385.1 888.3 L385.8 888.3 L386.6 888.2 L387.3 888 L388.1 887.9 L388.8 887.7 L389.6 887.5 L390.3 887.3 L391.1 887.1 L391.8 887 L392.6 887 L393.3 887 L394.1 887 L394.8 886.9 L395.6 886.9 L396.3 886.8 L397.1 886.5 L397.8 884.6 L398.6 881 L399.3 876.6 L400.1 872.3 L400.8 867 L401.6 860.8 L402.3 855.2 L403.1 851.6 L403.8 851.4 L404.6 854.2 L405.3 858.8 L406.1 863.9 L406.8 868.3 L407.6 870.8 L408.3 869.3 L409.1 861.8 L409.8 851.9 L410.6 843.8 L411.3 836.6 L412.1 829.1 L412.8 822.8 L413.6 818.9 L414.3 818.9 L415.1 823.7 L415.8 831.6 L416.6 840.5 L417.3 848.5 L418.1 855.4 L418.8 863.4 L419.6 871.4 L420.3 878.5 L421.1 883.5 L421.8 885.5 L422.6 885.7 L423.3 885.9 L424.1 886.2 L424.8 886.5 L425.6 886.6 L426.3 886.6 L427.1 886.6 L427.8 886.6 L428.6 886.7 L429.3 886.8 L430.1 887 L430.8 887.4 L431.6 887.7 L432.3 888.1 L433.1 888.5 L433.8 888.6 L434.6 888.6 L435.3 888.5 L436.1 888.4 L436.8 888.5 L437.6 888.7 L438.3 888.9 L439.1 889.1 L439.8 889.2 L440.6 889.3 L441.3 889.4 L442.1 889.5 L442.8 889.6 L443.6 889.5 L444.3 889.4 L445.1 889.3 L445.8 889.1 L446.6 889.1 L447.3 889.2 L448.1 889.4 L448.8 889.6 L449.6 889.7 L450.3 889.7 L451.1 889.6 L451.8 889.5 L452.6 889.4 L453.3 889.3 L454.1 889.4 L454.8 889.5 L455.6 889.6 L456.3 889.7 L457.1 889.7 L457.8 889.7 L458.6 889.6 L459.3 889.4 L460.1 889.3 L460.8 889.2 L461.6 889.1 L462.3 889 L463.1 888.7 L463.8 887.9 L464.6 886.6 L465.3 885.1 L466.1 883.4 L466.8 881.7 L467.6 880 L468.3 878.1 L469.1 875.8 L469.8 873.3 L470.6 871 L471.3 868.9 L472.1 867.3 L472.8 866.4 L473.6 866.7 L474.3 867.8 L475.1 869.9 L475.8 872.4 L476.6 875 L477.3 877.4 L478.1 879.1 L478.8 880 L479.6 879.9 L480.3 879.2 L481.1 878 L481.8 876.7 L482.6 875.6 L483.3 874.7 L484.1 874.5 L484.8 875.4 L485.6 877.8 L486.3 880.8 L487.1 883.9 L487.8 886.5 L488.6 887.9 L489.3 887.9 L490.1 887.2 L490.8 886.4 L491.6 885.6 L492.3 885.1 L493.1 885.4 L493.8 886.2 L494.6 887.3 L495.3 888.5 L496.1 889.5 L496.8 890.2 L497.6 890.4 L498.3 890.3 L499.1 890.2 L499.8 890 L500.6 889.8 L501.3 889.5 L502.1 889.2 L502.8 888.5 L503.6 887.3 L504.3 886.1 L505.1 885.2 L505.8 885.1 L506.6 885.5 L507.3 886 L508.1 886.4 L508.8 886.1 L509.6 884.7 L510.3 882.7 L511.1 880.5 L511.8 878.3 L512.6 875.5 L513.3 872.9 L514.1 871.2 L514.8 871.3 L515.6 872.6 L516.3 874.6 L517.1 876.9 L517.8 879.3 L518.6 881.4 L519.3 882.7 L520.1 883 L520.8 882.6 L521.6 881.6 L522.3 880.4 L523.1 879.1 L523.8 877.9 L524.6 877.1 L525.3 876.9 L526.1 877.6 L526.8 879.3 L527.6 881.6 L528.3 884.2 L529.1 886.7 L529.8 888.8 L530.6 890 L531.3 890.2 L532.1 890.2 L532.8 890.1 L533.6 890.1 L534.3 890.1 L535.1 890.1 L535.8 890.1 L536.6 890.1 L537.3 890 L538.1 890.1 L538.8 890.2 L539.6 890.4 L540.3 890.5 L541.1 890.4 L541.8 890.3 L542.6 890.1 L543.3 889.8 L544.1 889.6 L544.8 889.3 L545.6 889.1 L546.3 888.9 L547.1 888.7 L547.8 888.6 L548.6 888.6 L549.3 888.7 L550.1 888.9 L550.8 889.2 L551.6 889.5 L552.3 890 L553.1 890.4 L553.8 890.9 L554.6 891.3 L555.3 891.7 L556.1 891.9 L556.8 892 L557.6 892 L558.3 892 L559.1 892 L559.8 891.7 L560.6 891.5 L561.3 891.2 L562.1 891.1 L562.8 891.1 L563.6 891.1 L564.3 891.1 L565.1 891.1 L565.8 891.1 L566.6 891.1 L567.3 891.1 L568.1 891 L568.8 890.5 L569.6 889.7 L570.3 888.9 L571.1 888 L571.8 887.4 L572.6 887.1 L573.3 887.1 L574.1 887.6 L574.8 888.3 L575.6 889.1 L576.3 889.8 L577.1 890.4 L577.8 890.7 L578.6 890.7 L579.3 890.4 L580.1 890.1 L580.8 889.8 L581.6 889.6 L582.3 889.7 L583.1 890 L583.8 890.6 L584.6 891.3 L585.3 891.9 L586.1 892.2 L586.8 892.2 L587.6 892.1 L588.3 891.8 L589.1 891.6 L589.8 891.5 L590.6 891.4 L591.3 891.3 L592.1 891.2 L592.8 891.1 L593.6 891 L594.3 890.9 L595.1 890.9 L595.8 890.7 L596.6 890.3 L597.3 889.6 L598.1 888.7 L598.8 887.7 L599.6 886.8 L600.3 886 L601.1 885.4 L601.8 885.2 L602.6 885.2 L603.3 885.5 L604.1 886.1 L604.8 886.9 L605.6 887.7 L606.3 888.6 L607.1 889.5 L607.8 890.3 L608.6 890.9 L609.3 891.4 L610.1 891.5 L610.8 891.4 L611.6 891.2 L612.3 890.8 L613.1 890.3 L613.8 889.8 L614.6 889.3 L615.3 888.8 L616.1 888.4 L616.8 888.1 L617.6 887.8 L618.3 887.5 L619.1 887.1 L619.8 886.7 L620.6 886.3 L621.3 886 L622.1 885.9 L622.8 886.1 L623.6 886.4 L624.3 886.6 L625.1 886.7 L625.8 886.8 L626.6 886.9 L627.3 887.1 L628.1 887.3 L628.8 887.5 L629.6 887.5 L630.3 887.4 L631.1 887.2 L631.8 887.1 L632.6 887.2 L633.3 887.2 L634.1 886.9 L634.8 886.3 L635.6 885.7 L636.3 885.2 L637.1 885 L637.8 885 L638.6 885.2 L639.3 885.7 L640.1 886.3 L640.8 887 L641.6 887.6 L642.3 888.1 L643.1 888.3 L643.8 888.3 L644.6 888.2 L645.3 888 L646.1 887.7 L646.8 887.5 L647.6 887.1 L648.3 886.7 L649.1 886.3 L649.8 885.9 L650.6 885.6 L651.3 885.3 L652.1 885 L652.8 884.4 L653.6 883.5 L654.3 882.4 L655.1 881.1 L655.8 879.6 L656.6 878.1 L657.3 876.5 L658.1 874.6 L658.8 872.2 L659.6 869.5 L660.3 867 L661.1 865 L661.8 863.7 L662.6 863.3 L663.3 863.9 L664.1 865.4 L664.8 867.6 L665.6 870.1 L666.3 872.8 L667.1 875.3 L667.8 877.3 L668.6 879.1 L669.3 881.1 L670.1 883 L670.8 884.8 L671.6 886.2 L672.3 887.2 L673.1 887.8 L673.8 888 L674.6 888.2 L675.3 888.3 L676.1 888.5 L676.8 888.6 L677.6 888.8 L678.3 889 L679.1 889.2 L679.8 889.4 L680.6 889.7 L681.3 889.9 L682.1 890.1 L682.8 890.3 L683.6 890.5 L684.3 890.6 L685.1 890.6 L685.8 890.5 L686.6 890.3 L687.3 890.1 L688.1 890.1 L688.8 890.2 L689.6 890.3 L690.3 890.4 L691.1 890.5 L691.8 890.5 L692.6 890.4 L693.3 890.3 L694.1 890.2 L694.8 890.1 L695.6 890.1 L696.3 890.2 L697.1 890.3 L697.8 890.3 L698.6 890.3 L699.3 890.1 L700.1 890 L700.8 889.8 L701.6 889.6 L702.3 889.4 L703.1 889 L703.8 888.6 L704.6 888.1 L705.3 887.8 L706.1 887.5 L706.8 887.2 L707.6 886.9 L708.3 886.6 L709.1 886.3 L709.8 886 L710.6 885.5 L711.3 885 L712.1 884.5 L712.8 884.1 L713.6 883.7 L714.3 883.4 L715.1 883 L715.8 882.6 L716.6 882.2 L717.3 881.7 L718.1 881.4 L718.8 881.1 L719.6 881.1 L720.3 881.3 L721.1 881.8 L721.8 882.4 L722.6 883.2 L723.3 884.1 L724.1 885 L724.8 885.9 L725.6 886.6 L726.3 887.4 L727.1 888 L727.8 888.4 L728.6 888.7 L729.3 888.7 L730.1 888.6 L730.8 888.6 L731.6 888.6 L732.3 888.5 L733.1 888.3 L733.8 887.9 L734.6 887.5 L735.3 887.1 L736.1 886.7 L736.8 886.4 L737.6 886.2 L738.3 886.1 L739.1 886.2 L739.8 886.6 L740.6 887.1 L741.3 887.8 L742.1 888.5 L742.8 889 L743.6 889.2 L744.3 889 L745.1 888.5 L745.8 888.1 L746.6 887.9 L747.3 888.1 L748.1 888.5 L748.8 889.1 L749.6 889.6 L750.3 890 L751.1 890.1 L751.8 890 L752.6 889.7 L753.3 889.3 L754.1 888.9 L754.8 888.6 L755.6 888.4 L756.3 888.5 L757.1 888.6 L757.8 888.6 L758.6 888.6 L759.3 888.5 L760.1 888.4 L760.8 888.3 L761.6 888.2 L762.3 888.2 L763.1 888.2 L763.8 888.2 L764.6 888.2 L765.3 888.1 L766.1 887.9 L766.8 887.6 L767.6 887.1 L768.3 886.5 L769.1 885.8 L769.8 885 L770.6 884.2 L771.3 883.4 L772.1 882.3 L772.8 880.9 L773.6 879.3 L774.3 877.6 L775.1 876.1 L775.8 874.9 L776.6 873.7 L777.3 872.5 L778.1 871.4 L778.8 870.7 L779.6 870.8 L780.3 871.8 L781.1 873.6 L781.8 875.6 L782.6 877.5 L783.3 878.9 L784.1 879.8 L784.8 880.7 L785.6 881.8 L786.3 883.1 L787.1 884.3 L787.8 885.2 L788.6 885.7 L789.3 886.1 L790.1 886.6 L790.8 887 L791.6 887.5 L792.3 887.9 L793.1 888.2 L793.8 888.4 L794.6 888.5 L795.3 888.6 L796.1 888.7 L796.8 888.7 L797.6 888.7 L798.3 888.7 L799.1 888.7 L799.8 888.6 L800.6 888.4 L801.3 888.1 L802.1 887.8 L802.8 887.4 L803.6 886.9 L804.3 885.9 L805.1 883.7 L805.8 881 L806.6 878.3 L807.3 876.5 L808.1 875.9 L808.8 876.7 L809.6 878.4 L810.3 880.5 L811.1 882.6 L811.8 883.9 L812.6 885 L813.3 885.9 L814.1 886.5 L814.8 886.9 L815.6 887.2 L816.3 887.4 L817.1 887.7 L817.8 887.8 L818.6 887.9 L819.3 887.9 L820.1 887.9 L820.8 887.9 L821.6 888.1 L822.3 888.3 L823.1 888.5 L823.8 888.8 L824.6 888.9 L825.3 888.9 L826.1 888.9 L826.8 888.9 L827.6 888.9 L828.3 889 L829.1 889 L829.8 889 L830.6 889.1 L831.3 889.1 L832.1 889.2 L832.8 889.3 L833.6 889.5 L834.3 889.6 L835.1 889.7 L835.8 889.7 L836.6 889.8 L837.3 889.8 L838.1 889.8 L838.8 889.7 L839.6 889.6 L840.3 889.5 L841.1 889.4 L841.8 889.3 L842.6 889.4 L843.3 889.6 L844.1 889.7 L844.8 889.9 L845.6 889.9 L846.3 889.9 L847.1 889.9 L847.8 889.9 L848.6 889.9 L849.3 889.9 L850.1 889.9 L850.8 889.9 L851.6 889.9 L852.3 889.9 L853.1 889.9 L853.8 890 L854.6 890.2 L855.3 890.3 L856.1 890.4 L856.8 890.3 L857.6 890.3 L858.3 890.2 L859.1 890.2 L859.8 890.1 L860.6 890 L861.3 889.9 L862.1 889.8 L862.8 889.7 L863.6 889.6 L864.3 889.6 L865.1 889.5 L865.8 889.5 L866.6 889.5 L867.3 889.5 L868.1 889.4 L868.8 889.5 L869.6 889.5 L870.3 889.5 L871.1 889.6 L871.8 889.7 L872.6 889.8 L873.3 889.8 L874.1 889.8 L874.8 889.6 L875.6 889.4 L876.3 889.3 L877.1 889.3 L877.8 889.6 L878.6 890 L879.3 890.5 L880.1 890.9 L880.8 891 L881.6 890.8 L882.3 890.6 L883.1 890.3 L883.8 890.1 L884.6 890.1 L885.3 890.1 L886.1 890.1 L886.8 890.1 L887.6 890.1 L888.3 890.1 L889.1 890.2 L889.8 890.2 L890.6 890.2 L891.3 890.3 L892.1 890.4 L892.8 890.5 L893.6 890.7 L894.3 890.8 L895.1 891 L895.8 891.1 L896.6 891.2 L897.3 891.3 L898.1 891.3 L898.8 891.2 L899.6 890.9 L900.3 890.5 L901.1 890 L901.8 889.6 L902.6 889.3 L903.3 889.3 L904.1 889.4 L904.8 889.6 L905.6 889.8 L906.3 890 L907.1 890.3 L907.8 890.5 L908.6 890.8 L909.3 890.9 L910.1 890.9 L910.8 890.7 L911.6 890.6 L912.3 890.5 L913.1 890.5 L913.8 890.4 L914.6 890.4 L915.3 890.3 L916.1 890.3 L916.8 890.4 L917.6 890.6 L918.3 890.7 L919.1 890.6 L919.8 890.4 L920.6 890.3 L921.3 890.1 L922.1 889.9 L922.8 889.8 L923.6 889.7 L924.3 889.6 L925.1 889.5 L925.8 889.4 L926.6 889.3 L927.3 889.2 L928.1 889 L928.8 888.9 L929.6 888.9 L930.3 889 L931.1 889.1 L931.8 889.2 L932.6 889.4 L933.3 889.4 L934.1 889.4 L934.8 889.3 L935.6 889.3 L936.3 889.2 L937.1 889.3 L937.8 889.5 L938.6 889.6 L939.3 889.7 L940.1 889.6 L940.8 889.4 L941.6 889.1 L942.3 888.7 L943.1 888.4 L943.8 888 L944.6 887.6 L945.3 887.2 L946.1 886.8 L946.8 886.6 L947.6 886.7 L948.3 887.1 L949.1 887.7 L949.8 888.3 L950.6 888.7 L951.3 888.7 L952.1 888.5 L952.8 888.3 L953.6 888.2 L954.3 888.5 L955.1 888.9 L955.8 889.3 L956.6 889.6 L957.3 889.8 L958.1 889.8 L958.8 889.9 L959.6 889.9 L960.3 890 L961.1 890 L961.8 889.9 L962.6 889.6 L963.3 889.4 L964.1 889.2 L964.8 889.1 L965.6 889.1 L966.3 889 L967.1 889 L967.8 889 L968.6 889 L969.3 889.1 L970.1 889.3 L970.8 889.4 L971.6 889.5 L972.3 889.6 L973.1 889.7 L973.8 889.7 L974.6 889.8 L975.3 889.8 L976.1 889.8 L976.8 889.8 L977.6 889.8 L978.3 889.8 L979.1 889.8 L979.8 889.8 L980.6 889.7 L981.3 889.6 L982.1 889.4 L982.8 889.3 L983.6 889 L984.3 888.8 L985.1 888.6 L985.8 888.3 L986.6 888.1 L987.3 887.9 L988.1 887.8 L988.8 887.7 L989.6 887.9 L990.3 888.1 L991.1 888.3 L991.8 888.6 L992.6 888.9 L993.3 889.2 L994.1 889.5 L994.8 889.8 L995.6 890 L996.3 890.2 L997.1 890.4 L997.8 890.5 L998.6 890.6 L999.3 890.7 L1000.1 890.6 L1000.8 890.5 L1001.6 890.3 L1002.3 890.1 L1003.1 890 L1003.8 890.2 L1004.6 890.4 L1005.3 890.7 L1006.1 890.9 L1006.8 890.9 L1007.6 890.8 L1008.3 890.8 L1009.1 890.8 L1009.8 890.7 L1010.6 890.8 L1011.3 890.9 L1012.1 891 L1012.8 891.1 L1013.6 891.1 L1014.3 891 L1015.1 890.9 L1015.8 890.9 L1016.6 890.8 L1017.3 890.7 L1018.1 890.6 L1018.8 890.5 L1019.6 890.4 L1020.3 890.3 L1021.1 890.2 L1021.8 890 L1022.6 889.7 L1023 889.6" stroke="#fb6501"/>
</g>
<line x1="103" y1="1461.3" x2="103" y2="1467.6" stroke="#000" stroke-width="3.8" stroke-linecap="butt"/>
<line x1="164.3" y1="1461.3" x2="164.3" y2="1473.2" stroke="#000" stroke-width="3.8" stroke-linecap="butt"/>
<text transform="translate(164.3 1512) scale(1 1.030)" font-family='"Liberation Sans", Arial, Helvetica, sans-serif' font-size="38" font-weight="bold" text-anchor="middle" fill="#000">10</text>
<line x1="225.6" y1="1461.3" x2="225.6" y2="1467.6" stroke="#000" stroke-width="3.8" stroke-linecap="butt"/>
<line x1="287" y1="1461.3" x2="287" y2="1473.2" stroke="#000" stroke-width="3.8" stroke-linecap="butt"/>
<text transform="translate(287 1512) scale(1 1.030)" font-family='"Liberation Sans", Arial, Helvetica, sans-serif' font-size="38" font-weight="bold" text-anchor="middle" fill="#000">20</text>
<line x1="348.3" y1="1461.3" x2="348.3" y2="1467.6" stroke="#000" stroke-width="3.8" stroke-linecap="butt"/>
<line x1="409.6" y1="1461.3" x2="409.6" y2="1473.2" stroke="#000" stroke-width="3.8" stroke-linecap="butt"/>
<text transform="translate(409.6 1512) scale(1 1.030)" font-family='"Liberation Sans", Arial, Helvetica, sans-serif' font-size="38" font-weight="bold" text-anchor="middle" fill="#000">30</text>
<line x1="471" y1="1461.3" x2="471" y2="1467.6" stroke="#000" stroke-width="3.8" stroke-linecap="butt"/>
<line x1="532.3" y1="1461.3" x2="532.3" y2="1473.2" stroke="#000" stroke-width="3.8" stroke-linecap="butt"/>
<text transform="translate(532.3 1512) scale(1 1.030)" font-family='"Liberation Sans", Arial, Helvetica, sans-serif' font-size="38" font-weight="bold" text-anchor="middle" fill="#000">40</text>
<line x1="593.6" y1="1461.3" x2="593.6" y2="1467.6" stroke="#000" stroke-width="3.8" stroke-linecap="butt"/>
<line x1="655" y1="1461.3" x2="655" y2="1473.2" stroke="#000" stroke-width="3.8" stroke-linecap="butt"/>
<text transform="translate(655 1512) scale(1 1.030)" font-family='"Liberation Sans", Arial, Helvetica, sans-serif' font-size="38" font-weight="bold" text-anchor="middle" fill="#000">50</text>
<line x1="716.3" y1="1461.3" x2="716.3" y2="1467.6" stroke="#000" stroke-width="3.8" stroke-linecap="butt"/>
<line x1="777.7" y1="1461.3" x2="777.7" y2="1473.2" stroke="#000" stroke-width="3.8" stroke-linecap="butt"/>
<text transform="translate(777.7 1512) scale(1 1.030)" font-family='"Liberation Sans", Arial, Helvetica, sans-serif' font-size="38" font-weight="bold" text-anchor="middle" fill="#000">60</text>
<line x1="839" y1="1461.3" x2="839" y2="1467.6" stroke="#000" stroke-width="3.8" stroke-linecap="butt"/>
<line x1="900.3" y1="1461.3" x2="900.3" y2="1473.2" stroke="#000" stroke-width="3.8" stroke-linecap="butt"/>
<text transform="translate(900.3 1512) scale(1 1.030)" font-family='"Liberation Sans", Arial, Helvetica, sans-serif' font-size="38" font-weight="bold" text-anchor="middle" fill="#000">70</text>
<line x1="961.7" y1="1461.3" x2="961.7" y2="1467.6" stroke="#000" stroke-width="3.8" stroke-linecap="butt"/>
<line x1="1023" y1="1461.3" x2="1023" y2="1473.2" stroke="#000" stroke-width="3.8" stroke-linecap="butt"/>
<text transform="translate(1023 1512) scale(1 1.030)" font-family='"Liberation Sans", Arial, Helvetica, sans-serif' font-size="38" font-weight="bold" text-anchor="middle" fill="#000">80</text>
<text transform="translate(109.5 862.7) scale(1 0.965)" font-family='"Liberation Sans", Arial, Helvetica, sans-serif' font-size="57.2" font-weight="bold" text-anchor="start" fill="#000">(b)</text>
<text transform="translate(71.1 1102.3) rotate(-90) scale(1 1.054)" font-family='"Liberation Sans", Arial, Helvetica, sans-serif' font-size="43" font-weight="bold" text-anchor="middle" fill="#000">Intensity (a.u)</text>
<text transform="translate(516.2 1555.4) scale(1 0.93)" font-family='"Liberation Sans", Arial, Helvetica, sans-serif' font-size="45.5" font-weight="bold" fill="#000">2</text>
<text transform="translate(541 1557)" font-family='"Liberation Serif", "Times New Roman", serif' font-size="47" font-weight="bold" fill="#000">θ</text>
<text transform="translate(1017.5 865.3) scale(1 1.020)" font-family='"Liberation Sans", Arial, Helvetica, sans-serif' font-size="28.8" font-weight="bold" text-anchor="end" fill="#000">15% ZrO<tspan font-size="17.8" dy="6.6">2</tspan><tspan dy="-6.6">/K400</tspan></text>
<text transform="translate(1017.2 931.5) scale(1 1.020)" font-family='"Liberation Sans", Arial, Helvetica, sans-serif' font-size="28.8" font-weight="bold" text-anchor="end" fill="#000">10% ZrO<tspan font-size="17.8" dy="6.6">2</tspan><tspan dy="-6.6">/K400</tspan></text>
<text transform="translate(1015.5 994.7) scale(1 1.020)" font-family='"Liberation Sans", Arial, Helvetica, sans-serif' font-size="28.8" font-weight="bold" text-anchor="end" fill="#000">5% ZrO<tspan font-size="17.8" dy="6.6">2</tspan><tspan dy="-6.6">/K400</tspan></text>
<text transform="translate(1017.5 1045.5) scale(1 1.020)" font-family='"Liberation Sans", Arial, Helvetica, sans-serif' font-size="28.8" font-weight="bold" text-anchor="end" fill="#000">15% WO<tspan font-size="17.8" dy="6.6">3</tspan><tspan dy="-6.6">/K400</tspan></text>
<text transform="translate(1017.5 1103.1) scale(1 1.020)" font-family='"Liberation Sans", Arial, Helvetica, sans-serif' font-size="28.8" font-weight="bold" text-anchor="end" fill="#000">10% WO<tspan font-size="17.8" dy="6.6">3</tspan><tspan dy="-6.6">/K400</tspan></text>
<text transform="translate(1006.5 1158.6) scale(1 1.020)" font-family='"Liberation Sans", Arial, Helvetica, sans-serif' font-size="28.8" font-weight="bold" text-anchor="end" fill="#000">5% WO<tspan font-size="17.8" dy="6.6">3</tspan><tspan dy="-6.6">/K400</tspan></text>
<text transform="translate(1012.9 1207.2) scale(1 1.020)" font-family='"Liberation Sans", Arial, Helvetica, sans-serif' font-size="28.8" font-weight="bold" text-anchor="end" fill="#000">15% H<tspan font-size="17.8" dy="6.6">2</tspan><tspan dy="-6.6">SO</tspan><tspan font-size="17.8" dy="6.6">4</tspan><tspan dy="-6.6">/K400</tspan></text>
<text transform="translate(1013.9 1273.2) scale(1 1.020)" font-family='"Liberation Sans", Arial, Helvetica, sans-serif' font-size="28.8" font-weight="bold" text-anchor="end" fill="#000">10% H<tspan font-size="17.8" dy="6.6">2</tspan><tspan dy="-6.6">SO</tspan><tspan font-size="17.8" dy="6.6">4</tspan><tspan dy="-6.6">/K400</tspan></text>
<text transform="translate(1013.9 1329.2) scale(1 1.020)" font-family='"Liberation Sans", Arial, Helvetica, sans-serif' font-size="28.8" font-weight="bold" text-anchor="end" fill="#000">5% H<tspan font-size="17.8" dy="6.6">2</tspan><tspan dy="-6.6">SO</tspan><tspan font-size="17.8" dy="6.6">4</tspan><tspan dy="-6.6">/K400</tspan></text>
<text transform="translate(979.8 1404.7) scale(1 1.020)" font-family='"Liberation Sans", Arial, Helvetica, sans-serif' font-size="28.8" font-weight="bold" text-anchor="end" fill="#000">K400</text>
</g>
</svg></body></html>
